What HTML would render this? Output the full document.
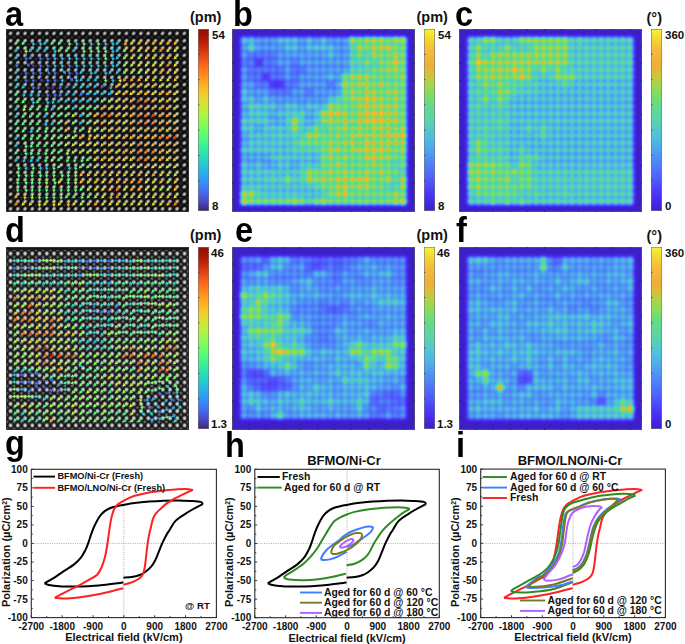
<!DOCTYPE html>
<html><head><meta charset="utf-8"><style>
html,body{margin:0;padding:0;background:#fff;}
body{width:685px;height:644px;position:relative;overflow:hidden;font-family:"Liberation Sans", sans-serif;color:#111;}
.t{position:absolute;white-space:nowrap;line-height:1;}
.b{font-weight:bold;}
.lab{font-size:35px;transform:scaleX(0.93);transform-origin:0 0;color:#000;}
.tl{font-size:10px;}
.at{font-size:11px;}
.rot{transform:rotate(-90deg);transform-origin:0 0;}
sup{font-size:0.62em;vertical-align:0;position:relative;top:-0.45em;}
svg{display:block;}
</style></head><body>
<div class="t b lab" style="left:5px;top:-4.5px">a</div>
<div class="t b lab" style="left:233px;top:-4.5px">b</div>
<div class="t b lab" style="left:455px;top:-4.5px">c</div>
<div class="t b lab" style="left:5px;top:212.3px">d</div>
<div class="t b lab" style="left:234.5px;top:212px">e</div>
<div class="t b lab" style="left:455.5px;top:211.5px">f</div>
<div class="t b lab" style="left:5px;top:425.3px">g</div>
<div class="t b lab" style="left:225px;top:427.3px">h</div>
<div class="t b lab" style="left:456px;top:427.3px">i</div>
<svg style="position:absolute;left:6px;top:29px" width="183" height="183" viewBox="0 0 183 183"><defs><radialGradient id="rga"><stop offset="0" stop-color="#e4e4e4"/><stop offset="0.45" stop-color="#a8a8a8"/><stop offset="1" stop-color="#606060" stop-opacity="0"/></radialGradient><radialGradient id="rha"><stop offset="0" stop-color="#3a3a3a"/><stop offset="1" stop-color="#3a3a3a" stop-opacity="0"/></radialGradient><pattern id="pta" x="0.94" y="0.73" width="7.24" height="7.31" patternUnits="userSpaceOnUse"><ellipse cx="3.62" cy="3.655" rx="3.0" ry="2.4" fill="url(#rga)" transform="rotate(-45 3.62 3.655)"/><circle cx="0" cy="0" r="2.2" fill="url(#rha)"/><circle cx="7.24" cy="0" r="2.2" fill="url(#rha)"/><circle cx="0" cy="7.31" r="2.2" fill="url(#rha)"/><circle cx="7.24" cy="7.31" r="2.2" fill="url(#rha)"/></pattern><filter id="faa"><feGaussianBlur stdDeviation="0.45"/></filter></defs><rect width="183" height="183" fill="#0c0c0c"/><rect x="0.94" y="0.73" width="181.00" height="182.75" fill="url(#pta)"/><g filter="url(#faa)"><path fill="#463699" d="M26.3 33.8L26.7 36.3L25.3 36.5L27.6 39.1L29.2 36.0L27.8 36.2L27.4 33.6zM33.7 48.5L34.7 50.9L33.4 51.4L36.3 53.3L37.1 49.9L35.7 50.5L34.8 48.1zM40.8 55.7L41.2 58.3L39.7 58.5L42.1 61.1L43.7 57.9L42.2 58.1L41.9 55.6zM47.8 55.4L46.8 57.8L45.5 57.2L46.2 60.7L49.1 58.7L47.8 58.2L48.8 55.8z"/><path fill="#436df1" d="M19.1 26.5L19.4 29.0L18.0 29.2L20.4 31.8L21.9 28.7L20.5 28.9L20.2 26.3zM26.0 26.0L24.4 28.0L23.3 27.1L23.0 30.6L26.4 29.5L25.3 28.6L26.8 26.6zM33.6 26.5L33.9 29.0L32.5 29.2L34.8 31.8L36.4 28.7L35.0 28.9L34.6 26.3zM40.8 26.5L41.2 29.0L39.7 29.2L42.1 31.8L43.7 28.7L42.2 28.9L41.9 26.3zM11.6 33.5L10.6 35.8L9.3 35.3L10.0 38.7L12.9 36.8L11.6 36.3L12.6 33.9zM19.6 33.9L21.4 35.7L20.4 36.8L23.8 37.4L23.2 34.0L22.2 35.0L20.4 33.2zM33.6 33.8L33.9 36.3L32.5 36.5L34.8 39.1L36.4 36.0L35.0 36.2L34.6 33.6zM40.8 33.8L41.2 36.3L39.7 36.5L42.1 39.1L43.7 36.0L42.2 36.2L41.9 33.6zM62.5 33.8L62.9 36.3L61.5 36.5L63.8 39.1L65.4 36.0L64.0 36.2L63.6 33.6zM19.1 41.1L19.4 43.6L18.0 43.8L20.4 46.4L21.9 43.3L20.5 43.5L20.2 41.0zM26.3 41.1L26.7 43.6L25.3 43.8L27.6 46.4L29.2 43.3L27.8 43.5L27.4 41.0zM33.6 41.1L33.9 43.6L32.5 43.8L34.8 46.4L36.4 43.3L35.0 43.5L34.6 41.0zM41.0 41.2L42.0 43.6L40.6 44.1L43.6 46.0L44.3 42.6L43.0 43.1L42.0 40.8zM48.0 41.1L48.4 43.6L47.0 43.8L49.3 46.4L50.9 43.3L49.5 43.5L49.1 41.0zM62.5 41.1L62.9 43.6L61.5 43.8L63.8 46.4L65.4 43.3L64.0 43.5L63.6 41.0zM69.8 41.1L70.1 43.6L68.7 43.8L71.0 46.4L72.6 43.3L71.2 43.5L70.8 41.0zM19.1 48.4L19.4 50.9L18.0 51.1L20.4 53.7L21.9 50.6L20.5 50.8L20.2 48.3zM26.3 48.4L26.7 50.9L25.3 51.1L27.6 53.7L29.2 50.6L27.8 50.8L27.4 48.3zM40.8 48.4L41.2 50.9L39.7 51.1L42.1 53.7L43.7 50.6L42.2 50.8L41.9 48.3zM48.0 48.4L48.4 50.9L47.0 51.1L49.3 53.7L50.9 50.6L49.5 50.8L49.1 48.3zM63.0 48.6L64.8 50.4L63.8 51.4L67.3 52.0L66.6 48.6L65.6 49.6L63.8 47.8zM26.3 55.7L26.7 58.3L25.3 58.5L27.6 61.1L29.2 57.9L27.8 58.1L27.4 55.6zM33.3 55.4L32.3 57.8L31.0 57.2L31.7 60.7L34.6 58.7L33.3 58.2L34.3 55.8zM55.0 55.4L54.0 57.8L52.7 57.2L53.4 60.7L56.4 58.7L55.0 58.2L56.0 55.8zM62.2 55.2L60.6 57.2L59.5 56.3L59.2 59.8L62.6 58.8L61.5 57.9L63.0 55.9zM98.4 55.0L96.4 56.6L95.5 55.5L94.4 58.8L97.9 58.6L97.0 57.4L99.0 55.9zM40.8 63.0L41.2 65.6L39.7 65.8L42.1 68.4L43.7 65.2L42.2 65.4L41.9 62.9zM48.0 63.0L48.4 65.6L47.0 65.8L49.3 68.4L50.9 65.2L49.5 65.4L49.1 62.9zM55.0 62.7L54.0 65.1L52.7 64.5L53.4 68.0L56.4 66.0L55.0 65.5L56.0 63.1zM76.7 62.5L75.1 64.5L74.0 63.6L73.7 67.1L77.1 66.1L75.9 65.2L77.5 63.2z"/><path fill="#26bde1" d="M26.3 11.9L26.7 14.4L25.3 14.6L27.6 17.2L29.2 14.1L27.8 14.2L27.4 11.7zM33.6 11.9L33.9 14.4L32.5 14.6L34.8 17.2L36.4 14.1L35.0 14.2L34.6 11.7zM40.5 11.3L38.9 13.3L37.8 12.4L37.5 16.0L40.9 14.9L39.7 14.0L41.3 12.0zM69.8 11.9L70.1 14.4L68.7 14.6L71.0 17.2L72.6 14.1L71.2 14.2L70.8 11.7zM84.2 11.9L84.6 14.4L83.2 14.6L85.5 17.2L87.1 14.1L85.7 14.2L85.3 11.7zM98.7 11.9L99.1 14.4L97.7 14.6L100.0 17.2L101.6 14.1L100.2 14.2L99.8 11.7zM106.0 11.9L106.3 14.4L104.9 14.6L107.2 17.2L108.8 14.1L107.4 14.2L107.0 11.7zM112.9 11.3L111.3 13.3L110.2 12.4L109.9 16.0L113.3 14.9L112.1 14.0L113.7 12.0zM11.5 18.6L9.9 20.6L8.8 19.8L8.6 23.3L11.9 22.2L10.8 21.3L12.4 19.3zM26.0 18.6L24.4 20.6L23.3 19.8L23.0 23.3L26.4 22.2L25.3 21.3L26.8 19.3zM33.2 18.6L31.6 20.6L30.5 19.8L30.3 23.3L33.6 22.2L32.5 21.3L34.1 19.3zM40.5 18.6L38.9 20.6L37.8 19.8L37.5 23.3L40.9 22.2L39.7 21.3L41.3 19.3zM48.0 19.2L48.4 21.7L47.0 21.9L49.3 24.5L50.9 21.4L49.5 21.6L49.1 19.0zM69.4 18.6L67.8 20.6L66.7 19.8L66.5 23.3L69.8 22.2L68.7 21.3L70.3 19.3zM106.0 19.2L106.3 21.7L104.9 21.9L107.2 24.5L108.8 21.4L107.4 21.6L107.0 19.0zM112.9 18.6L111.3 20.6L110.2 19.8L109.9 23.3L113.3 22.2L112.1 21.3L113.7 19.3zM11.5 26.0L9.9 28.0L8.8 27.1L8.6 30.6L11.9 29.5L10.8 28.6L12.4 26.6zM48.0 26.5L48.4 29.0L47.0 29.2L49.3 31.8L50.9 28.7L49.5 28.9L49.1 26.3zM55.3 26.5L55.6 29.0L54.2 29.2L56.6 31.8L58.1 28.7L56.7 28.9L56.4 26.3zM62.5 26.5L62.9 29.0L61.5 29.2L63.8 31.8L65.4 28.7L64.0 28.9L63.6 26.3zM69.8 26.5L70.1 29.0L68.7 29.2L71.0 31.8L72.6 28.7L71.2 28.9L70.8 26.3zM77.0 26.5L77.4 29.0L75.9 29.2L78.3 31.8L79.9 28.7L78.4 28.9L78.1 26.3zM84.2 26.5L84.6 29.0L83.2 29.2L85.5 31.8L87.1 28.7L85.7 28.9L85.3 26.3zM91.5 26.5L91.8 29.0L90.4 29.2L92.8 31.8L94.3 28.7L92.9 28.9L92.6 26.3zM106.0 26.5L106.3 29.0L104.9 29.2L107.2 31.8L108.8 28.7L107.4 28.9L107.0 26.3zM112.9 26.0L111.3 28.0L110.2 27.1L109.9 30.6L113.3 29.5L112.1 28.6L113.7 26.6zM48.0 33.8L48.4 36.3L47.0 36.5L49.3 39.1L50.9 36.0L49.5 36.2L49.1 33.6zM55.3 33.8L55.6 36.3L54.2 36.5L56.6 39.1L58.1 36.0L56.7 36.2L56.4 33.6zM69.8 33.8L70.1 36.3L68.7 36.5L71.0 39.1L72.6 36.0L71.2 36.2L70.8 33.6zM77.0 33.8L77.4 36.3L75.9 36.5L78.3 39.1L79.9 36.0L78.4 36.2L78.1 33.6zM84.2 33.8L84.6 36.3L83.2 36.5L85.5 39.1L87.1 36.0L85.7 36.2L85.3 33.6zM91.5 33.8L91.8 36.3L90.4 36.5L92.8 39.1L94.3 36.0L92.9 36.2L92.6 33.6zM98.7 33.8L99.1 36.3L97.7 36.5L100.0 39.1L101.6 36.0L100.2 36.2L99.8 33.6zM106.0 33.8L106.3 36.3L104.9 36.5L107.2 39.1L108.8 36.0L107.4 36.2L107.0 33.6zM112.9 33.3L111.3 35.3L110.2 34.4L109.9 37.9L113.3 36.8L112.1 35.9L113.7 33.9zM11.5 40.6L9.9 42.6L8.8 41.7L8.6 45.2L11.9 44.1L10.8 43.3L12.4 41.2zM55.8 41.3L57.6 43.1L56.6 44.1L60.0 44.7L59.4 41.3L58.4 42.3L56.6 40.5zM76.7 40.6L75.1 42.6L74.0 41.7L73.7 45.2L77.1 44.1L75.9 43.3L77.5 41.2zM84.2 41.1L84.6 43.6L83.2 43.8L85.5 46.4L87.1 43.3L85.7 43.5L85.3 41.0zM91.1 40.6L89.6 42.6L88.4 41.7L88.2 45.2L91.5 44.1L90.4 43.3L92.0 41.2zM98.7 41.1L99.1 43.6L97.7 43.8L100.0 46.4L101.6 43.3L100.2 43.5L99.8 41.0zM105.6 40.6L104.0 42.6L102.9 41.7L102.7 45.2L106.0 44.1L104.9 43.3L106.5 41.2zM112.9 40.6L111.3 42.6L110.2 41.7L109.9 45.2L113.3 44.1L112.1 43.3L113.7 41.2zM11.5 47.9L9.9 49.9L8.8 49.0L8.6 52.5L11.9 51.5L10.8 50.6L12.4 48.6zM55.3 48.4L55.6 50.9L54.2 51.1L56.6 53.7L58.1 50.6L56.7 50.8L56.4 48.3zM69.8 48.4L70.1 50.9L68.7 51.1L71.0 53.7L72.6 50.6L71.2 50.8L70.8 48.3zM76.7 47.9L75.1 49.9L74.0 49.0L73.7 52.5L77.1 51.5L75.9 50.6L77.5 48.6zM83.9 47.9L82.3 49.9L81.2 49.0L81.0 52.5L84.3 51.5L83.2 50.6L84.8 48.6zM91.1 47.9L89.6 49.9L88.4 49.0L88.2 52.5L91.5 51.5L90.4 50.6L92.0 48.6zM106.0 48.4L106.3 50.9L104.9 51.1L107.2 53.7L108.8 50.6L107.4 50.8L107.0 48.3zM11.5 55.2L9.9 57.2L8.8 56.3L8.6 59.8L11.9 58.8L10.8 57.9L12.4 55.9zM18.7 55.2L17.2 57.2L16.0 56.3L15.8 59.8L19.1 58.8L18.0 57.9L19.6 55.9zM69.4 55.2L67.8 57.2L66.7 56.3L66.5 59.8L69.8 58.8L68.7 57.9L70.3 55.9zM76.7 55.2L75.1 57.2L74.0 56.3L73.7 59.8L77.1 58.8L75.9 57.9L77.5 55.9zM83.9 55.0L81.9 56.6L81.0 55.5L79.9 58.8L83.5 58.6L82.6 57.4L84.6 55.9zM91.1 55.0L89.1 56.6L88.2 55.5L87.2 58.8L90.7 58.6L89.8 57.4L91.8 55.9zM105.7 55.4L104.7 57.8L103.4 57.2L104.1 60.7L107.0 58.7L105.7 58.2L106.7 55.8zM18.8 62.7L17.8 65.1L16.5 64.5L17.2 68.0L20.2 66.0L18.8 65.5L19.8 63.1zM26.0 62.7L25.1 65.1L23.7 64.5L24.5 68.0L27.4 66.0L26.1 65.5L27.1 63.1zM33.3 62.7L32.3 65.1L31.0 64.5L31.7 68.0L34.6 66.0L33.3 65.5L34.3 63.1zM62.2 62.5L60.6 64.5L59.5 63.6L59.2 67.1L62.6 66.1L61.5 65.2L63.0 63.2zM69.4 62.5L67.8 64.5L66.7 63.6L66.5 67.1L69.8 66.1L68.7 65.2L70.3 63.2zM83.9 62.3L81.9 63.9L81.0 62.8L79.9 66.1L83.5 65.9L82.6 64.7L84.6 63.2zM91.1 62.3L89.1 63.9L88.2 62.8L87.2 66.1L90.7 65.9L89.8 64.7L91.8 63.2zM98.4 62.3L96.4 63.9L95.5 62.8L94.4 66.1L97.9 65.9L97.0 64.7L99.0 63.2zM105.6 62.3L103.6 63.9L102.7 62.8L101.7 66.1L105.2 65.9L104.3 64.7L106.3 63.2zM26.3 70.3L26.7 72.9L25.3 73.1L27.6 75.7L29.2 72.5L27.8 72.7L27.4 70.2zM40.8 70.3L41.2 72.9L39.7 73.1L42.1 75.7L43.7 72.5L42.2 72.7L41.9 70.2zM47.8 70.0L46.8 72.4L45.5 71.8L46.2 75.3L49.1 73.3L47.8 72.8L48.8 70.4zM54.9 69.6L52.9 71.2L52.0 70.1L51.0 73.4L54.5 73.2L53.6 72.1L55.6 70.5zM62.2 69.6L60.2 71.2L59.3 70.1L58.2 73.4L61.7 73.2L60.8 72.1L62.8 70.5zM69.4 69.6L67.4 71.2L66.5 70.1L65.5 73.4L69.0 73.2L68.1 72.1L70.1 70.5zM76.7 69.6L74.6 71.2L73.8 70.1L72.7 73.4L76.2 73.2L75.3 72.1L77.3 70.5zM83.9 69.6L81.9 71.2L81.0 70.1L79.9 73.4L83.5 73.2L82.6 72.1L84.6 70.5zM91.1 69.6L89.1 71.2L88.2 70.1L87.2 73.4L90.7 73.2L89.8 72.1L91.8 70.5zM11.5 77.1L9.9 79.1L8.8 78.2L8.6 81.7L11.9 80.7L10.8 79.8L12.4 77.8zM47.7 77.1L46.1 79.1L45.0 78.2L44.8 81.7L48.1 80.7L47.0 79.8L48.6 77.8zM69.4 76.9L67.4 78.5L66.5 77.4L65.5 80.7L69.0 80.5L68.1 79.4L70.1 77.8zM11.5 84.4L9.9 86.4L8.8 85.5L8.6 89.1L11.9 88.0L10.8 87.1L12.4 85.1zM40.5 84.4L38.9 86.4L37.8 85.5L37.5 89.1L40.9 88.0L39.7 87.1L41.3 85.1zM76.7 84.2L74.6 85.8L73.8 84.7L72.7 88.0L76.2 87.8L75.3 86.7L77.3 85.1zM40.5 92.0L39.5 94.3L38.2 93.8L38.9 97.2L41.9 95.3L40.6 94.7L41.5 92.4zM47.7 91.7L46.1 93.7L45.0 92.9L44.8 96.4L48.1 95.3L47.0 94.4L48.6 92.4zM76.7 91.6L74.6 93.1L73.8 92.0L72.7 95.4L76.2 95.1L75.3 94.0L77.3 92.4zM26.0 99.3L25.1 101.6L23.7 101.1L24.5 104.5L27.4 102.6L26.1 102.0L27.1 99.7zM11.5 106.4L9.9 108.4L8.8 107.5L8.6 111.0L11.9 109.9L10.8 109.0L12.4 107.0zM11.5 113.7L9.9 115.7L8.8 114.8L8.6 118.3L11.9 117.2L10.8 116.4L12.4 114.3zM11.5 128.3L9.9 130.3L8.8 129.4L8.6 132.9L11.9 131.9L10.8 131.0L12.4 129.0zM18.8 128.5L17.8 130.9L16.5 130.3L17.2 133.8L20.2 131.8L18.8 131.3L19.8 128.9zM26.0 128.5L25.1 130.9L23.7 130.3L24.5 133.8L27.4 131.8L26.1 131.3L27.1 128.9zM33.2 128.3L31.6 130.3L30.5 129.4L30.3 132.9L33.6 131.9L32.5 131.0L34.1 129.0zM19.1 136.1L19.4 138.7L18.0 138.9L20.4 141.5L21.9 138.3L20.5 138.5L20.2 136.0zM33.6 136.1L33.9 138.7L32.5 138.9L34.8 141.5L36.4 138.3L35.0 138.5L34.6 136.0zM40.6 136.0L40.2 138.5L38.8 138.3L40.3 141.5L42.7 138.9L41.3 138.7L41.7 136.1zM62.5 136.1L62.9 138.7L61.5 138.9L63.8 141.5L65.4 138.3L64.0 138.5L63.6 136.0z"/><path fill="#5afc77" d="M11.5 11.3L9.9 13.3L8.8 12.4L8.6 16.0L11.9 14.9L10.8 14.0L12.4 12.0zM18.7 11.3L17.2 13.3L16.0 12.4L15.8 16.0L19.1 14.9L18.0 14.0L19.6 12.0zM47.7 11.3L46.1 13.3L45.0 12.4L44.8 16.0L48.1 14.9L47.0 14.0L48.6 12.0zM54.9 11.3L53.4 13.3L52.2 12.4L52.0 16.0L55.3 14.9L54.2 14.0L55.8 12.0zM62.5 11.9L62.9 14.4L61.5 14.6L63.8 17.2L65.4 14.1L64.0 14.2L63.6 11.7zM77.0 11.9L77.4 14.4L75.9 14.6L78.3 17.2L79.9 14.1L78.4 14.2L78.1 11.7zM91.5 11.9L91.8 14.4L90.4 14.6L92.8 17.2L94.3 14.1L92.9 14.2L92.6 11.7zM54.9 18.6L53.4 20.6L52.2 19.8L52.0 23.3L55.3 22.2L54.2 21.3L55.8 19.3zM62.2 18.6L60.6 20.6L59.5 19.8L59.2 23.3L62.6 22.2L61.5 21.3L63.0 19.3zM77.0 19.2L77.4 21.7L75.9 21.9L78.3 24.5L79.9 21.4L78.4 21.6L78.1 19.0zM84.2 19.2L84.6 21.7L83.2 21.9L85.5 24.5L87.1 21.4L85.7 21.6L85.3 19.0zM91.5 19.2L91.8 21.7L90.4 21.9L92.8 24.5L94.3 21.4L92.9 21.6L92.6 19.0zM98.7 19.2L99.1 21.7L97.7 21.9L100.0 24.5L101.6 21.4L100.2 21.6L99.8 19.0zM98.7 26.5L99.1 29.0L97.7 29.2L100.0 31.8L101.6 28.7L100.2 28.9L99.8 26.3zM98.7 48.4L99.1 50.9L97.7 51.1L100.0 53.7L101.6 50.6L100.2 50.8L99.8 48.3zM11.5 62.5L9.9 64.5L8.8 63.6L8.6 67.1L11.9 66.1L10.8 65.2L12.4 63.2zM11.5 69.8L9.9 71.8L8.8 70.9L8.6 74.4L11.9 73.4L10.8 72.5L12.4 70.5zM18.7 69.8L17.2 71.8L16.0 70.9L15.8 74.4L19.1 73.4L18.0 72.5L19.6 70.5zM33.2 69.8L31.6 71.8L30.5 70.9L30.3 74.4L33.6 73.4L32.5 72.5L34.1 70.5zM98.4 69.6L96.4 71.2L95.5 70.1L94.4 73.4L97.9 73.2L97.0 72.1L99.0 70.5zM26.0 77.1L24.4 79.1L23.3 78.2L23.0 81.7L26.4 80.7L25.3 79.8L26.8 77.8zM33.2 77.1L31.6 79.1L30.5 78.2L30.3 81.7L33.6 80.7L32.5 79.8L34.1 77.8zM40.5 77.3L39.5 79.7L38.2 79.1L38.9 82.6L41.9 80.7L40.6 80.1L41.5 77.8zM54.9 76.9L52.9 78.5L52.0 77.4L51.0 80.7L54.5 80.5L53.6 79.4L55.6 77.8zM62.2 76.9L60.2 78.5L59.3 77.4L58.2 80.7L61.7 80.5L60.8 79.4L62.8 77.8zM76.7 76.9L74.6 78.5L73.8 77.4L72.7 80.7L76.2 80.5L75.3 79.4L77.3 77.8zM83.9 76.9L81.9 78.5L81.0 77.4L79.9 80.7L83.5 80.5L82.6 79.4L84.6 77.8zM91.1 76.9L89.1 78.5L88.2 77.4L87.2 80.7L90.7 80.5L89.8 79.4L91.8 77.8zM18.7 84.4L17.2 86.4L16.0 85.5L15.8 89.1L19.1 88.0L18.0 87.1L19.6 85.1zM26.0 84.4L24.4 86.4L23.3 85.5L23.0 89.1L26.4 88.0L25.3 87.1L26.8 85.1zM33.2 84.4L31.6 86.4L30.5 85.5L30.3 89.1L33.6 88.0L32.5 87.1L34.1 85.1zM47.7 84.4L46.1 86.4L45.0 85.5L44.8 89.1L48.1 88.0L47.0 87.1L48.6 85.1zM54.9 84.2L52.9 85.8L52.0 84.7L51.0 88.0L54.5 87.8L53.6 86.7L55.6 85.1zM62.2 84.2L60.2 85.8L59.3 84.7L58.2 88.0L61.7 87.8L60.8 86.7L62.8 85.1zM83.9 84.2L81.9 85.8L81.0 84.7L79.9 88.0L83.5 87.8L82.6 86.7L84.6 85.1zM11.5 91.7L9.9 93.7L8.8 92.9L8.6 96.4L11.9 95.3L10.8 94.4L12.4 92.4zM18.7 91.7L17.2 93.7L16.0 92.9L15.8 96.4L19.1 95.3L18.0 94.4L19.6 92.4zM26.0 91.7L24.4 93.7L23.3 92.9L23.0 96.4L26.4 95.3L25.3 94.4L26.8 92.4zM33.2 91.7L31.6 93.7L30.5 92.9L30.3 96.4L33.6 95.3L32.5 94.4L34.1 92.4zM54.9 91.6L52.9 93.1L52.0 92.0L51.0 95.4L54.5 95.1L53.6 94.0L55.6 92.4zM69.4 91.6L67.4 93.1L66.5 92.0L65.5 95.4L69.0 95.1L68.1 94.0L70.1 92.4zM83.9 91.6L81.9 93.1L81.0 92.0L79.9 95.4L83.5 95.1L82.6 94.0L84.6 92.4zM11.5 99.1L9.9 101.1L8.8 100.2L8.6 103.7L11.9 102.6L10.8 101.7L12.4 99.7zM18.7 99.1L17.2 101.1L16.0 100.2L15.8 103.7L19.1 102.6L18.0 101.7L19.6 99.7zM33.2 99.1L31.6 101.1L30.5 100.2L30.3 103.7L33.6 102.6L32.5 101.7L34.1 99.7zM40.5 99.3L39.5 101.6L38.2 101.1L38.9 104.5L41.9 102.6L40.6 102.0L41.5 99.7zM47.7 99.1L46.1 101.1L45.0 100.2L44.8 103.7L48.1 102.6L47.0 101.7L48.6 99.7zM54.9 98.9L52.9 100.4L52.0 99.3L51.0 102.7L54.5 102.4L53.6 101.3L55.6 99.7zM69.5 99.3L68.5 101.6L67.2 101.1L67.9 104.5L70.8 102.6L69.5 102.0L70.5 99.7zM76.7 98.9L74.6 100.4L73.8 99.3L72.7 102.7L76.2 102.4L75.3 101.3L77.3 99.7zM18.7 106.4L17.2 108.4L16.0 107.5L15.8 111.0L19.1 109.9L18.0 109.0L19.6 107.0zM26.0 106.6L25.1 108.9L23.7 108.4L24.5 111.8L27.4 109.9L26.1 109.4L27.1 107.0zM33.2 106.4L31.6 108.4L30.5 107.5L30.3 111.0L33.6 109.9L32.5 109.0L34.1 107.0zM40.5 106.4L38.9 108.4L37.8 107.5L37.5 111.0L40.9 109.9L39.7 109.0L41.3 107.0zM54.9 106.2L52.9 107.8L52.0 106.6L51.0 110.0L54.5 109.7L53.6 108.6L55.6 107.0zM19.1 114.2L19.4 116.7L18.0 116.9L20.4 119.5L21.9 116.4L20.5 116.6L20.2 114.1zM26.0 113.9L25.1 116.2L23.7 115.7L24.5 119.1L27.4 117.2L26.1 116.7L27.1 114.3zM33.2 113.7L31.6 115.7L30.5 114.8L30.3 118.3L33.6 117.2L32.5 116.4L34.1 114.3zM40.5 113.7L38.9 115.7L37.8 114.8L37.5 118.3L40.9 117.2L39.7 116.4L41.3 114.3zM47.7 113.7L46.1 115.7L45.0 114.8L44.8 118.3L48.1 117.2L47.0 116.4L48.6 114.3zM54.9 113.5L52.9 115.1L52.0 113.9L51.0 117.3L54.5 117.0L53.6 115.9L55.6 114.3zM11.5 121.0L9.9 123.0L8.8 122.1L8.6 125.6L11.9 124.6L10.8 123.7L12.4 121.7zM19.1 121.5L19.4 124.0L18.0 124.2L20.4 126.8L21.9 123.7L20.5 123.9L20.2 121.4zM26.0 121.2L25.1 123.6L23.7 123.0L24.5 126.4L27.4 124.5L26.1 124.0L27.1 121.6zM33.3 121.2L32.3 123.6L31.0 123.0L31.7 126.4L34.6 124.5L33.3 124.0L34.3 121.6zM40.5 121.2L39.5 123.6L38.2 123.0L38.9 126.4L41.9 124.5L40.6 124.0L41.5 121.6zM47.7 121.0L46.1 123.0L45.0 122.1L44.8 125.6L48.1 124.6L47.0 123.7L48.6 121.7zM54.9 120.8L52.9 122.4L52.0 121.2L51.0 124.6L54.5 124.4L53.6 123.2L55.6 121.6zM40.5 128.5L39.5 130.9L38.2 130.3L38.9 133.8L41.9 131.8L40.6 131.3L41.5 128.9zM54.9 128.1L52.9 129.7L52.0 128.6L51.0 131.9L54.5 131.7L53.6 130.5L55.6 129.0zM62.2 128.5L61.3 130.9L59.9 130.3L60.7 133.8L63.6 131.8L62.3 131.3L63.3 128.9zM69.5 128.5L68.5 130.9L67.2 130.3L67.9 133.8L70.8 131.8L69.5 131.3L70.5 128.9zM76.7 128.5L75.7 130.9L74.4 130.3L75.1 133.8L78.1 131.8L76.8 131.3L77.7 128.9zM83.9 128.1L81.9 129.7L81.0 128.6L79.9 131.9L83.5 131.7L82.6 130.5L84.6 129.0zM11.8 136.1L12.2 138.7L10.8 138.9L13.1 141.5L14.7 138.3L13.3 138.5L12.9 136.0zM26.3 136.1L26.7 138.7L25.3 138.9L27.6 141.5L29.2 138.3L27.8 138.5L27.4 136.0zM47.9 136.0L47.5 138.5L46.1 138.3L47.6 141.5L50.0 138.9L48.5 138.7L48.9 136.1zM54.9 135.4L52.9 137.0L52.0 135.9L51.0 139.2L54.5 139.0L53.6 137.8L55.6 136.3zM69.6 136.0L69.2 138.5L67.8 138.3L69.3 141.5L71.7 138.9L70.3 138.7L70.7 136.1zM76.7 135.4L74.6 137.0L73.8 135.9L72.7 139.2L76.2 139.0L75.3 137.8L77.3 136.3zM83.9 135.4L81.9 137.0L81.0 135.9L79.9 139.2L83.5 139.0L82.6 137.8L84.6 136.3zM11.8 143.4L12.2 146.0L10.8 146.2L13.1 148.8L14.7 145.6L13.3 145.8L12.9 143.3zM19.1 143.4L19.4 146.0L18.0 146.2L20.4 148.8L21.9 145.6L20.5 145.8L20.2 143.3zM26.1 143.3L25.7 145.8L24.3 145.6L25.8 148.8L28.2 146.2L26.8 146.0L27.2 143.5zM33.6 143.4L33.9 146.0L32.5 146.2L34.8 148.8L36.4 145.6L35.0 145.8L34.6 143.3zM40.6 143.3L40.2 145.8L38.8 145.6L40.3 148.8L42.7 146.2L41.3 146.0L41.7 143.5zM47.9 143.3L47.5 145.8L46.1 145.6L47.6 148.8L50.0 146.2L48.5 146.0L48.9 143.5zM55.3 143.4L55.6 146.0L54.2 146.2L56.6 148.8L58.1 145.6L56.7 145.8L56.4 143.3zM62.3 143.3L61.9 145.8L60.5 145.6L62.0 148.8L64.4 146.2L63.0 146.0L63.4 143.5zM11.7 150.6L11.3 153.1L9.9 152.9L11.4 156.1L13.8 153.5L12.3 153.3L12.7 150.8zM19.1 150.8L19.4 153.3L18.0 153.5L20.4 156.1L21.9 152.9L20.5 153.1L20.2 150.6zM26.1 150.6L25.7 153.1L24.3 152.9L25.8 156.1L28.2 153.5L26.8 153.3L27.2 150.8zM33.4 150.6L33.0 153.1L31.6 152.9L33.1 156.1L35.5 153.5L34.1 153.3L34.5 150.8zM48.0 150.8L48.4 153.3L47.0 153.5L49.3 156.1L50.9 152.9L49.5 153.1L49.1 150.6zM62.3 150.6L61.9 153.1L60.5 152.9L62.0 156.1L64.4 153.5L63.0 153.3L63.4 150.8zM11.7 157.9L11.3 160.4L9.9 160.2L11.4 163.4L13.8 160.8L12.3 160.6L12.7 158.1zM19.1 158.1L19.4 160.6L18.0 160.8L20.4 163.4L21.9 160.3L20.5 160.4L20.2 157.9zM26.1 157.9L25.7 160.4L24.3 160.2L25.8 163.4L28.2 160.8L26.8 160.6L27.2 158.1zM33.4 157.9L33.0 160.4L31.6 160.2L33.1 163.4L35.5 160.8L34.1 160.6L34.5 158.1zM40.6 157.9L40.2 160.4L38.8 160.2L40.3 163.4L42.7 160.8L41.3 160.6L41.7 158.1zM47.9 157.9L47.5 160.4L46.1 160.2L47.6 163.4L50.0 160.8L48.5 160.6L48.9 158.1zM55.1 157.9L54.7 160.4L53.3 160.2L54.8 163.4L57.2 160.8L55.8 160.6L56.2 158.1zM62.3 157.9L61.9 160.4L60.5 160.2L62.0 163.4L64.4 160.8L63.0 160.6L63.4 158.1zM69.6 157.9L69.2 160.4L67.8 160.2L69.3 163.4L71.7 160.8L70.3 160.6L70.7 158.1zM76.7 157.5L75.1 159.5L74.0 158.6L73.7 162.2L77.1 161.1L75.9 160.2L77.5 158.2zM33.4 165.2L33.0 167.7L31.6 167.5L33.1 170.7L35.5 168.1L34.1 167.9L34.5 165.4zM40.6 165.2L40.2 167.7L38.8 167.5L40.3 170.7L42.7 168.1L41.3 167.9L41.7 165.4zM47.9 165.2L47.5 167.7L46.1 167.5L47.6 170.7L50.0 168.1L48.5 167.9L48.9 165.4zM55.1 165.2L54.7 167.7L53.3 167.5L54.8 170.7L57.2 168.1L55.8 167.9L56.2 165.4zM62.2 164.8L60.6 166.8L59.5 166.0L59.2 169.5L62.6 168.4L61.5 167.5L63.0 165.5zM69.4 164.8L67.8 166.8L66.7 166.0L66.5 169.5L69.8 168.4L68.7 167.5L70.3 165.5zM76.7 165.1L75.7 167.4L74.4 166.9L75.1 170.3L78.1 168.4L76.8 167.8L77.7 165.5zM83.9 164.8L82.3 166.8L81.2 166.0L81.0 169.5L84.3 168.4L83.2 167.5L84.8 165.5z"/><path fill="#a6f748" d="M19.1 19.2L19.4 21.7L18.0 21.9L20.4 24.5L21.9 21.4L20.5 21.6L20.2 19.0zM120.1 18.6L118.5 20.6L117.4 19.8L117.2 23.3L120.5 22.2L119.4 21.3L121.0 19.3zM120.1 26.0L118.5 28.0L117.4 27.1L117.2 30.6L120.5 29.5L119.4 28.6L121.0 26.6zM134.6 26.0L133.0 28.0L131.9 27.1L131.6 30.6L135.0 29.5L133.9 28.6L135.4 26.6zM120.1 33.3L118.5 35.3L117.4 34.4L117.2 37.9L120.5 36.8L119.4 35.9L121.0 33.9zM127.3 33.3L125.8 35.3L124.6 34.4L124.4 37.9L127.7 36.8L126.6 35.9L128.2 33.9zM141.8 33.3L140.2 35.3L139.1 34.4L138.9 37.9L142.2 36.8L141.1 35.9L142.7 33.9zM120.1 40.6L118.5 42.6L117.4 41.7L117.2 45.2L120.5 44.1L119.4 43.3L121.0 41.2zM127.3 40.6L125.8 42.6L124.6 41.7L124.4 45.2L127.7 44.1L126.6 43.3L128.2 41.2zM134.6 40.6L133.0 42.6L131.9 41.7L131.6 45.2L135.0 44.1L133.9 43.3L135.4 41.2zM105.6 69.6L103.6 71.2L102.7 70.1L101.7 73.4L105.2 73.2L104.3 72.1L106.3 70.5zM18.8 77.3L17.8 79.7L16.5 79.1L17.2 82.6L20.2 80.7L18.8 80.1L19.8 77.8zM69.4 84.2L67.4 85.8L66.5 84.7L65.5 88.0L69.0 87.8L68.1 86.7L70.1 85.1zM91.1 98.9L89.1 100.4L88.2 99.3L87.2 102.7L90.7 102.4L89.8 101.3L91.8 99.7zM47.7 106.4L46.1 108.4L45.0 107.5L44.8 111.0L48.1 109.9L47.0 109.0L48.6 107.0zM62.2 106.2L60.2 107.8L59.3 106.6L58.2 110.0L61.7 109.7L60.8 108.6L62.8 107.0zM69.4 106.2L67.4 107.8L66.5 106.6L65.5 110.0L69.0 109.7L68.1 108.6L70.1 107.0zM62.2 113.5L60.2 115.1L59.3 113.9L58.2 117.3L61.7 117.0L60.8 115.9L62.8 114.3zM62.2 121.2L61.3 123.6L59.9 123.0L60.7 126.4L63.6 124.5L62.3 124.0L63.3 121.6zM69.4 120.8L67.4 122.4L66.5 121.2L65.5 124.6L69.0 124.4L68.1 123.2L70.1 121.6zM76.7 120.8L74.6 122.4L73.8 121.2L72.7 124.6L76.2 124.4L75.3 123.2L77.3 121.6zM83.9 120.8L81.9 122.4L81.0 121.2L79.9 124.6L83.5 124.4L82.6 123.2L84.6 121.6zM47.7 128.3L46.1 130.3L45.0 129.4L44.8 132.9L48.1 131.9L47.0 131.0L48.6 129.0zM163.5 135.4L161.5 137.0L160.6 135.9L159.6 139.2L163.1 139.0L162.2 137.8L164.2 136.3zM69.6 143.3L69.2 145.8L67.8 145.6L69.3 148.8L71.7 146.2L70.3 146.0L70.7 143.5zM170.8 142.9L169.2 144.9L168.1 144.0L167.8 147.5L171.2 146.5L170.1 145.6L171.6 143.6zM40.6 150.6L40.2 153.1L38.8 152.9L40.3 156.1L42.7 153.5L41.3 153.3L41.7 150.8zM69.6 150.6L69.2 153.1L67.8 152.9L69.3 156.1L71.7 153.5L70.3 153.3L70.7 150.8zM163.5 150.2L162.0 152.2L160.8 151.3L160.6 154.8L163.9 153.8L162.8 152.9L164.4 150.9zM83.9 157.5L82.3 159.5L81.2 158.6L81.0 162.2L84.3 161.1L83.2 160.2L84.8 158.2zM156.3 157.5L154.7 159.5L153.6 158.6L153.4 162.2L156.7 161.1L155.6 160.2L157.2 158.2zM163.5 157.5L162.0 159.5L160.8 158.6L160.6 162.2L163.9 161.1L162.8 160.2L164.4 158.2zM26.1 165.2L25.7 167.7L24.3 167.5L25.8 170.7L28.2 168.1L26.8 167.9L27.2 165.4zM91.1 164.8L89.6 166.8L88.4 166.0L88.2 169.5L91.5 168.4L90.4 167.5L92.0 165.5zM76.7 172.2L75.1 174.2L74.0 173.3L73.7 176.8L77.1 175.7L75.9 174.8L77.5 172.8z"/><path fill="#dfdc32" d="M127.3 11.3L125.8 13.3L124.6 12.4L124.4 16.0L127.7 14.9L126.6 14.0L128.2 12.0zM156.3 11.3L154.7 13.3L153.6 12.4L153.4 16.0L156.7 14.9L155.6 14.0L157.2 12.0zM134.6 18.6L133.0 20.6L131.9 19.8L131.6 23.3L135.0 22.2L133.9 21.3L135.4 19.3zM163.5 18.6L162.0 20.6L160.8 19.8L160.6 23.3L163.9 22.2L162.8 21.3L164.4 19.3zM170.8 18.6L169.2 20.6L168.1 19.8L167.8 23.3L171.2 22.2L170.1 21.3L171.6 19.3zM127.3 26.0L125.8 28.0L124.6 27.1L124.4 30.6L127.7 29.5L126.6 28.6L128.2 26.6zM149.1 26.0L147.5 28.0L146.4 27.1L146.1 30.6L149.5 29.5L148.3 28.6L149.9 26.6zM156.3 26.0L154.7 28.0L153.6 27.1L153.4 30.6L156.7 29.5L155.6 28.6L157.2 26.6zM170.8 26.0L169.2 28.0L168.1 27.1L167.8 30.6L171.2 29.5L170.1 28.6L171.6 26.6zM134.6 33.3L133.0 35.3L131.9 34.4L131.6 37.9L135.0 36.8L133.9 35.9L135.4 33.9zM149.1 33.3L147.5 35.3L146.4 34.4L146.1 37.9L149.5 36.8L148.3 35.9L149.9 33.9zM156.3 33.3L154.7 35.3L153.6 34.4L153.4 37.9L156.7 36.8L155.6 35.9L157.2 33.9zM170.8 33.3L169.2 35.3L168.1 34.4L167.8 37.9L171.2 36.8L170.1 35.9L171.6 33.9zM141.8 40.6L140.2 42.6L139.1 41.7L138.9 45.2L142.2 44.1L141.1 43.3L142.7 41.2zM149.1 40.6L147.5 42.6L146.4 41.7L146.1 45.2L149.5 44.1L148.3 43.3L149.9 41.2zM170.8 40.6L169.2 42.6L168.1 41.7L167.8 45.2L171.2 44.1L170.1 43.3L171.6 41.2zM113.2 48.4L113.6 50.9L112.1 51.1L114.5 53.7L116.1 50.6L114.6 50.8L114.3 48.3zM141.8 47.9L140.2 49.9L139.1 49.0L138.9 52.5L142.2 51.5L141.1 50.6L142.7 48.6zM149.1 47.9L147.5 49.9L146.4 49.0L146.1 52.5L149.5 51.5L148.3 50.6L149.9 48.6zM156.3 47.9L154.7 49.9L153.6 49.0L153.4 52.5L156.7 51.5L155.6 50.6L157.2 48.6zM163.5 47.9L162.0 49.9L160.8 49.0L160.6 52.5L163.9 51.5L162.8 50.6L164.4 48.6zM120.1 55.0L118.1 56.6L117.2 55.5L116.1 58.8L119.7 58.6L118.8 57.4L120.8 55.9zM141.8 55.0L139.8 56.6L138.9 55.5L137.9 58.8L141.4 58.6L140.5 57.4L142.5 55.9zM156.3 55.0L154.3 56.6L153.4 55.5L152.3 58.8L155.9 58.6L155.0 57.4L157.0 55.9zM163.5 55.0L161.5 56.6L160.6 55.5L159.6 58.8L163.1 58.6L162.2 57.4L164.2 55.9zM170.8 55.0L168.8 56.6L167.9 55.5L166.8 58.8L170.3 58.6L169.4 57.4L171.4 55.9zM112.9 62.3L110.8 63.9L110.0 62.8L108.9 66.1L112.4 65.9L111.5 64.7L113.5 63.2zM127.3 62.3L125.3 63.9L124.4 62.8L123.4 66.1L126.9 65.9L126.0 64.7L128.0 63.2zM149.1 62.3L147.0 63.9L146.2 62.8L145.1 66.1L148.6 65.9L147.7 64.7L149.7 63.2zM170.8 62.3L168.8 63.9L167.9 62.8L166.8 66.1L170.3 65.9L169.4 64.7L171.4 63.2zM112.9 69.6L110.8 71.2L110.0 70.1L108.9 73.4L112.4 73.2L111.5 72.1L113.5 70.5zM156.3 69.6L154.3 71.2L153.4 70.1L152.3 73.4L155.9 73.2L155.0 72.1L157.0 70.5zM170.8 69.6L168.8 71.2L167.9 70.1L166.8 73.4L170.3 73.2L169.4 72.1L171.4 70.5zM105.6 76.9L103.6 78.5L102.7 77.4L101.7 80.7L105.2 80.5L104.3 79.4L106.3 77.8zM112.9 76.9L110.8 78.5L110.0 77.4L108.9 80.7L112.4 80.5L111.5 79.4L113.5 77.8zM120.1 76.9L118.1 78.5L117.2 77.4L116.1 80.7L119.7 80.5L118.8 79.4L120.8 77.8zM170.8 76.9L168.8 78.5L167.9 77.4L166.8 80.7L170.3 80.5L169.4 79.4L171.4 77.8zM120.1 84.2L118.1 85.8L117.2 84.7L116.1 88.0L119.7 87.8L118.8 86.7L120.8 85.1zM170.8 84.2L168.8 85.8L167.9 84.7L166.8 88.0L170.3 87.8L169.4 86.7L171.4 85.1zM91.1 91.6L89.1 93.1L88.2 92.0L87.2 95.4L90.7 95.1L89.8 94.0L91.8 92.4zM105.6 91.6L103.6 93.1L102.7 92.0L101.7 95.4L105.2 95.1L104.3 94.0L106.3 92.4zM120.1 91.6L118.1 93.1L117.2 92.0L116.1 95.4L119.7 95.1L118.8 94.0L120.8 92.4zM170.8 91.6L168.8 93.1L167.9 92.0L166.8 95.4L170.3 95.1L169.4 94.0L171.4 92.4zM84.0 99.3L83.0 101.6L81.7 101.1L82.4 104.5L85.3 102.6L84.0 102.0L85.0 99.7zM98.4 98.9L96.4 100.4L95.5 99.3L94.4 102.7L97.9 102.4L97.0 101.3L99.0 99.7zM105.6 98.9L103.6 100.4L102.7 99.3L101.7 102.7L105.2 102.4L104.3 101.3L106.3 99.7zM120.1 98.9L118.1 100.4L117.2 99.3L116.1 102.7L119.7 102.4L118.8 101.3L120.8 99.7zM134.6 98.9L132.6 100.4L131.7 99.3L130.6 102.7L134.1 102.4L133.2 101.3L135.2 99.7zM163.5 98.9L161.5 100.4L160.6 99.3L159.6 102.7L163.1 102.4L162.2 101.3L164.2 99.7zM91.1 106.2L89.1 107.8L88.2 106.6L87.2 110.0L90.7 109.7L89.8 108.6L91.8 107.0zM98.4 106.2L96.4 107.8L95.5 106.6L94.4 110.0L97.9 109.7L97.0 108.6L99.0 107.0zM112.9 106.2L110.8 107.8L110.0 106.6L108.9 110.0L112.4 109.7L111.5 108.6L113.5 107.0zM69.4 113.5L67.4 115.1L66.5 113.9L65.5 117.3L69.0 117.0L68.1 115.9L70.1 114.3zM76.7 113.5L74.6 115.1L73.8 113.9L72.7 117.3L76.2 117.0L75.3 115.9L77.3 114.3zM83.9 113.5L81.9 115.1L81.0 113.9L79.9 117.3L83.5 117.0L82.6 115.9L84.6 114.3zM91.1 113.5L89.1 115.1L88.2 113.9L87.2 117.3L90.7 117.0L89.8 115.9L91.8 114.3zM105.6 113.5L103.6 115.1L102.7 113.9L101.7 117.3L105.2 117.0L104.3 115.9L106.3 114.3zM127.3 113.5L125.3 115.1L124.4 113.9L123.4 117.3L126.9 117.0L126.0 115.9L128.0 114.3zM91.1 120.8L89.1 122.4L88.2 121.2L87.2 124.6L90.7 124.4L89.8 123.2L91.8 121.6zM112.9 120.8L110.8 122.4L110.0 121.2L108.9 124.6L112.4 124.4L111.5 123.2L113.5 121.6zM163.5 120.8L161.5 122.4L160.6 121.2L159.6 124.6L163.1 124.4L162.2 123.2L164.2 121.6zM91.1 128.1L89.1 129.7L88.2 128.6L87.2 131.9L90.7 131.7L89.8 130.5L91.8 129.0zM105.6 128.1L103.6 129.7L102.7 128.6L101.7 131.9L105.2 131.7L104.3 130.5L106.3 129.0zM120.1 128.1L118.1 129.7L117.2 128.6L116.1 131.9L119.7 131.7L118.8 130.5L120.8 129.0zM127.3 128.1L125.3 129.7L124.4 128.6L123.4 131.9L126.9 131.7L126.0 130.5L128.0 129.0zM163.5 128.1L161.5 129.7L160.6 128.6L159.6 131.9L163.1 131.7L162.2 130.5L164.2 129.0zM170.8 128.1L168.8 129.7L167.9 128.6L166.8 131.9L170.3 131.7L169.4 130.5L171.4 129.0zM91.1 135.4L89.1 137.0L88.2 135.9L87.2 139.2L90.7 139.0L89.8 137.8L91.8 136.3zM98.4 135.4L96.4 137.0L95.5 135.9L94.4 139.2L97.9 139.0L97.0 137.8L99.0 136.3zM112.9 135.4L110.8 137.0L110.0 135.9L108.9 139.2L112.4 139.0L111.5 137.8L113.5 136.3zM120.1 135.4L118.1 137.0L117.2 135.9L116.1 139.2L119.7 139.0L118.8 137.8L120.8 136.3zM127.3 135.4L125.3 137.0L124.4 135.9L123.4 139.2L126.9 139.0L126.0 137.8L128.0 136.3zM134.6 135.4L132.6 137.0L131.7 135.9L130.6 139.2L134.1 139.0L133.2 137.8L135.2 136.3zM149.1 135.4L147.0 137.0L146.2 135.9L145.1 139.2L148.6 139.0L147.7 137.8L149.7 136.3zM156.3 135.4L154.3 137.0L153.4 135.9L152.3 139.2L155.9 139.0L155.0 137.8L157.0 136.3zM170.8 135.4L168.8 137.0L167.9 135.9L166.8 139.2L170.3 139.0L169.4 137.8L171.4 136.3zM83.9 142.9L82.3 144.9L81.2 144.0L81.0 147.5L84.3 146.5L83.2 145.6L84.8 143.6zM91.1 142.9L89.6 144.9L88.4 144.0L88.2 147.5L91.5 146.5L90.4 145.6L92.0 143.6zM105.6 142.9L104.0 144.9L102.9 144.0L102.7 147.5L106.0 146.5L104.9 145.6L106.5 143.6zM120.1 142.9L118.5 144.9L117.4 144.0L117.2 147.5L120.5 146.5L119.4 145.6L121.0 143.6zM127.3 142.9L125.8 144.9L124.6 144.0L124.4 147.5L127.7 146.5L126.6 145.6L128.2 143.6zM141.8 142.9L140.2 144.9L139.1 144.0L138.9 147.5L142.2 146.5L141.1 145.6L142.7 143.6zM156.3 142.9L154.7 144.9L153.6 144.0L153.4 147.5L156.7 146.5L155.6 145.6L157.2 143.6zM163.5 142.9L162.0 144.9L160.8 144.0L160.6 147.5L163.9 146.5L162.8 145.6L164.4 143.6zM54.9 150.2L53.4 152.2L52.2 151.3L52.0 154.8L55.3 153.8L54.2 152.9L55.8 150.9zM83.9 150.2L82.3 152.2L81.2 151.3L81.0 154.8L84.3 153.8L83.2 152.9L84.8 150.9zM98.4 150.2L96.8 152.2L95.7 151.3L95.4 154.8L98.8 153.8L97.7 152.9L99.2 150.9zM141.8 150.2L140.2 152.2L139.1 151.3L138.9 154.8L142.2 153.8L141.1 152.9L142.7 150.9zM149.1 150.2L147.5 152.2L146.4 151.3L146.1 154.8L149.5 153.8L148.3 152.9L149.9 150.9zM91.1 157.5L89.6 159.5L88.4 158.6L88.2 162.2L91.5 161.1L90.4 160.2L92.0 158.2zM98.4 157.5L96.8 159.5L95.7 158.6L95.4 162.2L98.8 161.1L97.7 160.2L99.2 158.2zM120.1 157.5L118.5 159.5L117.4 158.6L117.2 162.2L120.5 161.1L119.4 160.2L121.0 158.2zM141.8 157.5L140.2 159.5L139.1 158.6L138.9 162.2L142.2 161.1L141.1 160.2L142.7 158.2zM149.1 157.5L147.5 159.5L146.4 158.6L146.1 162.2L149.5 161.1L148.3 160.2L149.9 158.2zM98.4 164.8L96.8 166.8L95.7 166.0L95.4 169.5L98.8 168.4L97.7 167.5L99.2 165.5zM120.1 164.8L118.5 166.8L117.4 166.0L117.2 169.5L120.5 168.4L119.4 167.5L121.0 165.5zM127.3 164.8L125.8 166.8L124.6 166.0L124.4 169.5L127.7 168.4L126.6 167.5L128.2 165.5zM134.6 164.8L133.0 166.8L131.9 166.0L131.6 169.5L135.0 168.4L133.9 167.5L135.4 165.5zM141.8 164.8L140.2 166.8L139.1 166.0L138.9 169.5L142.2 168.4L141.1 167.5L142.7 165.5zM149.1 164.8L147.5 166.8L146.4 166.0L146.1 169.5L149.5 168.4L148.3 167.5L149.9 165.5zM156.3 164.8L154.7 166.8L153.6 166.0L153.4 169.5L156.7 168.4L155.6 167.5L157.2 165.5zM170.8 164.8L169.2 166.8L168.1 166.0L167.8 169.5L171.2 168.4L170.1 167.5L171.6 165.5zM18.7 172.2L17.2 174.2L16.0 173.3L15.8 176.8L19.1 175.7L18.0 174.8L19.6 172.8zM26.0 172.2L24.4 174.2L23.3 173.3L23.0 176.8L26.4 175.7L25.3 174.8L26.8 172.8zM33.4 172.5L33.0 175.0L31.6 174.8L33.1 178.0L35.5 175.4L34.1 175.2L34.5 172.7zM40.5 172.2L38.9 174.2L37.8 173.3L37.5 176.8L40.9 175.7L39.7 174.8L41.3 172.8zM47.9 172.5L47.5 175.0L46.1 174.8L47.6 178.0L50.0 175.4L48.5 175.2L48.9 172.7zM54.9 172.2L53.4 174.2L52.2 173.3L52.0 176.8L55.3 175.7L54.2 174.8L55.8 172.8zM69.4 172.2L67.8 174.2L66.7 173.3L66.5 176.8L69.8 175.7L68.7 174.8L70.3 172.8zM83.9 172.2L82.3 174.2L81.2 173.3L81.0 176.8L84.3 175.7L83.2 174.8L84.8 172.8zM98.4 172.2L96.8 174.2L95.7 173.3L95.4 176.8L98.8 175.7L97.7 174.8L99.2 172.8zM105.6 172.2L104.0 174.2L102.9 173.3L102.7 176.8L106.0 175.7L104.9 174.8L106.5 172.8zM112.9 172.2L111.3 174.2L110.2 173.3L109.9 176.8L113.3 175.7L112.1 174.8L113.7 172.8zM120.1 172.2L118.5 174.2L117.4 173.3L117.2 176.8L120.5 175.7L119.4 174.8L121.0 172.8zM127.3 172.2L125.8 174.2L124.6 173.3L124.4 176.8L127.7 175.7L126.6 174.8L128.2 172.8zM134.6 172.2L133.0 174.2L131.9 173.3L131.6 176.8L135.0 175.7L133.9 174.8L135.4 172.8zM141.8 172.2L140.2 174.2L139.1 173.3L138.9 176.8L142.2 175.7L141.1 174.8L142.7 172.8zM149.1 172.2L147.5 174.2L146.4 173.3L146.1 176.8L149.5 175.7L148.3 174.8L149.9 172.8zM156.3 172.2L154.7 174.2L153.6 173.3L153.4 176.8L156.7 175.7L155.6 174.8L157.2 172.8z"/><path fill="#ffb025" d="M120.2 11.5L119.2 13.9L117.9 13.4L118.6 16.8L121.5 14.9L120.2 14.3L121.2 12.0zM134.6 11.3L133.0 13.3L131.9 12.4L131.6 16.0L135.0 14.9L133.9 14.0L135.4 12.0zM141.8 11.3L140.2 13.3L139.1 12.4L138.9 16.0L142.2 14.9L141.1 14.0L142.7 12.0zM149.1 11.3L147.5 13.3L146.4 12.4L146.1 16.0L149.5 14.9L148.3 14.0L149.9 12.0zM163.5 11.3L162.0 13.3L160.8 12.4L160.6 16.0L163.9 14.9L162.8 14.0L164.4 12.0zM170.8 11.3L169.2 13.3L168.1 12.4L167.8 16.0L171.2 14.9L170.1 14.0L171.6 12.0zM127.3 18.6L125.8 20.6L124.6 19.8L124.4 23.3L127.7 22.2L126.6 21.3L128.2 19.3zM141.8 18.6L140.2 20.6L139.1 19.8L138.9 23.3L142.2 22.2L141.1 21.3L142.7 19.3zM149.1 18.6L147.5 20.6L146.4 19.8L146.1 23.3L149.5 22.2L148.3 21.3L149.9 19.3zM141.8 26.0L140.2 28.0L139.1 27.1L138.9 30.6L142.2 29.5L141.1 28.6L142.7 26.6zM163.5 26.0L162.0 28.0L160.8 27.1L160.6 30.6L163.9 29.5L162.8 28.6L164.4 26.6zM156.3 40.6L154.7 42.6L153.6 41.7L153.4 45.2L156.7 44.1L155.6 43.3L157.2 41.2zM163.5 40.6L162.0 42.6L160.8 41.7L160.6 45.2L163.9 44.1L162.8 43.3L164.4 41.2zM120.1 47.9L118.5 49.9L117.4 49.0L117.2 52.5L120.5 51.5L119.4 50.6L121.0 48.6zM127.3 47.9L125.8 49.9L124.6 49.0L124.4 52.5L127.7 51.5L126.6 50.6L128.2 48.6zM134.6 47.9L133.0 49.9L131.9 49.0L131.6 52.5L135.0 51.5L133.9 50.6L135.4 48.6zM170.8 47.9L169.2 49.9L168.1 49.0L167.8 52.5L171.2 51.5L170.1 50.6L171.6 48.6zM112.9 55.0L110.8 56.6L110.0 55.5L108.9 58.8L112.4 58.6L111.5 57.4L113.5 55.9zM127.3 55.0L125.3 56.6L124.4 55.5L123.4 58.8L126.9 58.6L126.0 57.4L128.0 55.9zM134.6 55.0L132.6 56.6L131.7 55.5L130.6 58.8L134.1 58.6L133.2 57.4L135.2 55.9zM149.1 55.0L147.0 56.6L146.2 55.5L145.1 58.8L148.6 58.6L147.7 57.4L149.7 55.9zM120.1 62.3L118.1 63.9L117.2 62.8L116.1 66.1L119.7 65.9L118.8 64.7L120.8 63.2zM134.6 62.3L132.6 63.9L131.7 62.8L130.6 66.1L134.1 65.9L133.2 64.7L135.2 63.2zM141.8 62.3L139.8 63.9L138.9 62.8L137.9 66.1L141.4 65.9L140.5 64.7L142.5 63.2zM156.3 62.3L154.3 63.9L153.4 62.8L152.3 66.1L155.9 65.9L155.0 64.7L157.0 63.2zM163.5 62.3L161.5 63.9L160.6 62.8L159.6 66.1L163.1 65.9L162.2 64.7L164.2 63.2zM120.1 69.6L118.1 71.2L117.2 70.1L116.1 73.4L119.7 73.2L118.8 72.1L120.8 70.5zM127.3 69.6L125.3 71.2L124.4 70.1L123.4 73.4L126.9 73.2L126.0 72.1L128.0 70.5zM149.1 69.6L147.0 71.2L146.2 70.1L145.1 73.4L148.6 73.2L147.7 72.1L149.7 70.5zM163.5 69.6L161.5 71.2L160.6 70.1L159.6 73.4L163.1 73.2L162.2 72.1L164.2 70.5zM98.4 76.9L96.4 78.5L95.5 77.4L94.4 80.7L97.9 80.5L97.0 79.4L99.0 77.8zM127.3 76.9L125.3 78.5L124.4 77.4L123.4 80.7L126.9 80.5L126.0 79.4L128.0 77.8zM141.8 76.9L139.8 78.5L138.9 77.4L137.9 80.7L141.4 80.5L140.5 79.4L142.5 77.8zM149.1 76.9L147.0 78.5L146.2 77.4L145.1 80.7L148.6 80.5L147.7 79.4L149.7 77.8zM156.3 76.9L154.3 78.5L153.4 77.4L152.3 80.7L155.9 80.5L155.0 79.4L157.0 77.8zM163.5 76.9L161.5 78.5L160.6 77.4L159.6 80.7L163.1 80.5L162.2 79.4L164.2 77.8zM91.1 84.2L89.1 85.8L88.2 84.7L87.2 88.0L90.7 87.8L89.8 86.7L91.8 85.1zM112.9 84.2L110.8 85.8L110.0 84.7L108.9 88.0L112.4 87.8L111.5 86.7L113.5 85.1zM127.3 84.2L125.3 85.8L124.4 84.7L123.4 88.0L126.9 87.8L126.0 86.7L128.0 85.1zM156.3 84.2L154.3 85.8L153.4 84.7L152.3 88.0L155.9 87.8L155.0 86.7L157.0 85.1zM163.5 84.2L161.5 85.8L160.6 84.7L159.6 88.0L163.1 87.8L162.2 86.7L164.2 85.1zM62.2 91.6L60.2 93.1L59.3 92.0L58.2 95.4L61.7 95.1L60.8 94.0L62.8 92.4zM98.4 91.6L96.4 93.1L95.5 92.0L94.4 95.4L97.9 95.1L97.0 94.0L99.0 92.4zM112.9 91.6L110.8 93.1L110.0 92.0L108.9 95.4L112.4 95.1L111.5 94.0L113.5 92.4zM127.3 91.6L125.3 93.1L124.4 92.0L123.4 95.4L126.9 95.1L126.0 94.0L128.0 92.4zM156.3 91.6L154.3 93.1L153.4 92.0L152.3 95.4L155.9 95.1L155.0 94.0L157.0 92.4zM163.5 91.6L161.5 93.1L160.6 92.0L159.6 95.4L163.1 95.1L162.2 94.0L164.2 92.4zM62.2 98.9L60.2 100.4L59.3 99.3L58.2 102.7L61.7 102.4L60.8 101.3L62.8 99.7zM112.9 98.9L110.8 100.4L110.0 99.3L108.9 102.7L112.4 102.4L111.5 101.3L113.5 99.7zM127.3 98.9L125.3 100.4L124.4 99.3L123.4 102.7L126.9 102.4L126.0 101.3L128.0 99.7zM141.8 98.9L139.8 100.4L138.9 99.3L137.9 102.7L141.4 102.4L140.5 101.3L142.5 99.7zM149.1 98.9L147.0 100.4L146.2 99.3L145.1 102.7L148.6 102.4L147.7 101.3L149.7 99.7zM156.3 98.9L154.3 100.4L153.4 99.3L152.3 102.7L155.9 102.4L155.0 101.3L157.0 99.7zM170.8 98.9L168.8 100.4L167.9 99.3L166.8 102.7L170.3 102.4L169.4 101.3L171.4 99.7zM76.7 106.2L74.6 107.8L73.8 106.6L72.7 110.0L76.2 109.7L75.3 108.6L77.3 107.0zM84.0 106.6L83.0 108.9L81.7 108.4L82.4 111.8L85.3 109.9L84.0 109.4L85.0 107.0zM105.6 106.2L103.6 107.8L102.7 106.6L101.7 110.0L105.2 109.7L104.3 108.6L106.3 107.0zM120.1 106.2L118.1 107.8L117.2 106.6L116.1 110.0L119.7 109.7L118.8 108.6L120.8 107.0zM127.3 106.2L125.3 107.8L124.4 106.6L123.4 110.0L126.9 109.7L126.0 108.6L128.0 107.0zM134.6 106.2L132.6 107.8L131.7 106.6L130.6 110.0L134.1 109.7L133.2 108.6L135.2 107.0zM141.8 106.2L139.8 107.8L138.9 106.6L137.9 110.0L141.4 109.7L140.5 108.6L142.5 107.0zM149.1 106.2L147.0 107.8L146.2 106.6L145.1 110.0L148.6 109.7L147.7 108.6L149.7 107.0zM98.4 113.5L96.4 115.1L95.5 113.9L94.4 117.3L97.9 117.0L97.0 115.9L99.0 114.3zM112.9 113.5L110.8 115.1L110.0 113.9L108.9 117.3L112.4 117.0L111.5 115.9L113.5 114.3zM120.1 113.5L118.1 115.1L117.2 113.9L116.1 117.3L119.7 117.0L118.8 115.9L120.8 114.3zM141.8 113.5L139.8 115.1L138.9 113.9L137.9 117.3L141.4 117.0L140.5 115.9L142.5 114.3zM149.1 113.5L147.0 115.1L146.2 113.9L145.1 117.3L148.6 117.0L147.7 115.9L149.7 114.3zM156.3 113.5L154.3 115.1L153.4 113.9L152.3 117.3L155.9 117.0L155.0 115.9L157.0 114.3zM163.5 113.5L161.5 115.1L160.6 113.9L159.6 117.3L163.1 117.0L162.2 115.9L164.2 114.3zM170.8 113.5L168.8 115.1L167.9 113.9L166.8 117.3L170.3 117.0L169.4 115.9L171.4 114.3zM98.4 120.8L96.4 122.4L95.5 121.2L94.4 124.6L97.9 124.4L97.0 123.2L99.0 121.6zM105.6 120.8L103.6 122.4L102.7 121.2L101.7 124.6L105.2 124.4L104.3 123.2L106.3 121.6zM120.1 120.8L118.1 122.4L117.2 121.2L116.1 124.6L119.7 124.4L118.8 123.2L120.8 121.6zM127.3 120.8L125.3 122.4L124.4 121.2L123.4 124.6L126.9 124.4L126.0 123.2L128.0 121.6zM156.3 120.8L154.3 122.4L153.4 121.2L152.3 124.6L155.9 124.4L155.0 123.2L157.0 121.6zM170.8 120.8L168.8 122.4L167.9 121.2L166.8 124.6L170.3 124.4L169.4 123.2L171.4 121.6zM98.4 128.1L96.4 129.7L95.5 128.6L94.4 131.9L97.9 131.7L97.0 130.5L99.0 129.0zM112.9 128.1L110.8 129.7L110.0 128.6L108.9 131.9L112.4 131.7L111.5 130.5L113.5 129.0zM149.1 128.1L147.0 129.7L146.2 128.6L145.1 131.9L148.6 131.7L147.7 130.5L149.7 129.0zM156.3 128.1L154.3 129.7L153.4 128.6L152.3 131.9L155.9 131.7L155.0 130.5L157.0 129.0zM105.6 135.4L103.6 137.0L102.7 135.9L101.7 139.2L105.2 139.0L104.3 137.8L106.3 136.3zM141.8 135.4L139.8 137.0L138.9 135.9L137.9 139.2L141.4 139.0L140.5 137.8L142.5 136.3zM76.7 142.9L75.1 144.9L74.0 144.0L73.7 147.5L77.1 146.5L75.9 145.6L77.5 143.6zM98.4 142.9L96.8 144.9L95.7 144.0L95.4 147.5L98.8 146.5L97.7 145.6L99.2 143.6zM112.9 142.9L111.3 144.9L110.2 144.0L109.9 147.5L113.3 146.5L112.1 145.6L113.7 143.6zM134.6 142.9L133.0 144.9L131.9 144.0L131.6 147.5L135.0 146.5L133.9 145.6L135.4 143.6zM149.1 142.9L147.5 144.9L146.4 144.0L146.1 147.5L149.5 146.5L148.3 145.6L149.9 143.6zM76.7 150.2L75.1 152.2L74.0 151.3L73.7 154.8L77.1 153.8L75.9 152.9L77.5 150.9zM91.1 150.2L89.6 152.2L88.4 151.3L88.2 154.8L91.5 153.8L90.4 152.9L92.0 150.9zM105.6 150.2L104.0 152.2L102.9 151.3L102.7 154.8L106.0 153.8L104.9 152.9L106.5 150.9zM112.9 150.2L111.3 152.2L110.2 151.3L109.9 154.8L113.3 153.8L112.1 152.9L113.7 150.9zM120.1 150.2L118.5 152.2L117.4 151.3L117.2 154.8L120.5 153.8L119.4 152.9L121.0 150.9zM127.3 150.2L125.8 152.2L124.6 151.3L124.4 154.8L127.7 153.8L126.6 152.9L128.2 150.9zM156.3 150.2L154.7 152.2L153.6 151.3L153.4 154.8L156.7 153.8L155.6 152.9L157.2 150.9zM170.8 150.2L169.2 152.2L168.1 151.3L167.8 154.8L171.2 153.8L170.1 152.9L171.6 150.9zM105.6 157.5L104.0 159.5L102.9 158.6L102.7 162.2L106.0 161.1L104.9 160.2L106.5 158.2zM127.3 157.5L125.8 159.5L124.6 158.6L124.4 162.2L127.7 161.1L126.6 160.2L128.2 158.2zM134.6 157.5L133.0 159.5L131.9 158.6L131.6 162.2L135.0 161.1L133.9 160.2L135.4 158.2zM170.8 157.5L169.2 159.5L168.1 158.6L167.8 162.2L171.2 161.1L170.1 160.2L171.6 158.2zM11.5 164.8L9.9 166.8L8.8 166.0L8.6 169.5L11.9 168.4L10.8 167.5L12.4 165.5zM18.9 165.2L18.5 167.7L17.1 167.5L18.6 170.7L21.0 168.1L19.6 167.9L20.0 165.4zM105.7 165.1L104.7 167.4L103.4 166.9L104.1 170.3L107.0 168.4L105.7 167.8L106.7 165.5zM163.5 164.8L162.0 166.8L160.8 166.0L160.6 169.5L163.9 168.4L162.8 167.5L164.4 165.5zM62.3 172.5L61.9 175.0L60.5 174.8L62.0 178.0L64.4 175.4L63.0 175.2L63.4 172.7zM91.1 172.2L89.6 174.2L88.4 173.3L88.2 176.8L91.5 175.7L90.4 174.8L92.0 172.8zM163.5 172.2L162.0 174.2L160.8 173.3L160.6 176.8L163.9 175.7L162.8 174.8L164.4 172.8z"/><path fill="#ff791c" d="M156.3 18.6L154.7 20.6L153.6 19.8L153.4 23.3L156.7 22.2L155.6 21.3L157.2 19.3zM163.5 33.3L162.0 35.3L160.8 34.4L160.6 37.9L163.9 36.8L162.8 35.9L164.4 33.9zM141.8 69.6L139.8 71.2L138.9 70.1L137.9 73.4L141.4 73.2L140.5 72.1L142.5 70.5zM134.6 76.9L132.6 78.5L131.7 77.4L130.6 80.7L134.1 80.5L133.2 79.4L135.2 77.8zM98.4 84.2L96.4 85.8L95.5 84.7L94.4 88.0L97.9 87.8L97.0 86.7L99.0 85.1zM105.6 84.2L103.6 85.8L102.7 84.7L101.7 88.0L105.2 87.8L104.3 86.7L106.3 85.1zM134.6 84.2L132.6 85.8L131.7 84.7L130.6 88.0L134.1 87.8L133.2 86.7L135.2 85.1zM141.8 84.2L139.8 85.8L138.9 84.7L137.9 88.0L141.4 87.8L140.5 86.7L142.5 85.1zM134.6 91.6L132.6 93.1L131.7 92.0L130.6 95.4L134.1 95.1L133.2 94.0L135.2 92.4zM141.8 91.6L139.8 93.1L138.9 92.0L137.9 95.4L141.4 95.1L140.5 94.0L142.5 92.4zM149.1 91.6L147.0 93.1L146.2 92.0L145.1 95.4L148.6 95.1L147.7 94.0L149.7 92.4zM156.3 106.2L154.3 107.8L153.4 106.6L152.3 110.0L155.9 109.7L155.0 108.6L157.0 107.0zM163.5 106.2L161.5 107.8L160.6 106.6L159.6 110.0L163.1 109.7L162.2 108.6L164.2 107.0zM134.6 113.5L132.6 115.1L131.7 113.9L130.6 117.3L134.1 117.0L133.2 115.9L135.2 114.3zM134.6 120.8L132.6 122.4L131.7 121.2L130.6 124.6L134.1 124.4L133.2 123.2L135.2 121.6zM141.8 120.8L139.8 122.4L138.9 121.2L137.9 124.6L141.4 124.4L140.5 123.2L142.5 121.6zM149.1 120.8L147.0 122.4L146.2 121.2L145.1 124.6L148.6 124.4L147.7 123.2L149.7 121.6zM134.6 128.1L132.6 129.7L131.7 128.6L130.6 131.9L134.1 131.7L133.2 130.5L135.2 129.0zM141.8 128.1L139.8 129.7L138.9 128.6L137.9 131.9L141.4 131.7L140.5 130.5L142.5 129.0zM134.6 150.2L133.0 152.2L131.9 151.3L131.6 154.8L135.0 153.8L133.9 152.9L135.4 150.9zM112.9 157.5L111.3 159.5L110.2 158.6L109.9 162.2L113.3 161.1L112.1 160.2L113.7 158.2zM112.9 164.8L111.3 166.8L110.2 166.0L109.9 169.5L113.3 168.4L112.1 167.5L113.7 165.5zM11.5 172.2L9.9 174.2L8.8 173.3L8.6 176.8L11.9 175.7L10.8 174.8L12.4 172.8zM170.8 172.2L169.2 174.2L168.1 173.3L167.8 176.8L171.2 175.7L170.1 174.8L171.6 172.8z"/><path fill="#e54813" d="M134.6 69.6L132.6 71.2L131.7 70.1L130.6 73.4L134.1 73.2L133.2 72.1L135.2 70.5zM149.1 84.2L147.0 85.8L146.2 84.7L145.1 88.0L148.6 87.8L147.7 86.7L149.7 85.1zM170.8 106.2L168.8 107.8L167.9 106.6L166.8 110.0L170.3 109.7L169.4 108.6L171.4 107.0z"/></g><rect x="0.3" y="0.3" width="182.4" height="182.4" fill="none" stroke="#444" stroke-width="0.6"/></svg>
<svg style="position:absolute;left:232px;top:29px" width="183" height="183" viewBox="0 0 183 183"><defs><filter id="fhb" filterUnits="userSpaceOnUse" x="0" y="0" width="183" height="183" color-interpolation-filters="sRGB"><feGaussianBlur stdDeviation="2.1"/><feComponentTransfer><feFuncR type="table" tableValues="0.243 0.263 0.278 0.294 0.306 0.314 0.31 0.31 0.306 0.306 0.306 0.306 0.306 0.318 0.329 0.345 0.361 0.376 0.404 0.471 0.533 0.643 0.761 0.855 0.929 0.945 0.953 0.961 0.961 0.961 0.961 0.961 0.961 0.961 0.961 0.961 0.961 0.961 0.961 0.961 0.961 0.961 0.961 0.961 0.961 0.961 0.961 0.961 0.961"/><feFuncG type="table" tableValues="0.125 0.145 0.161 0.22 0.282 0.345 0.404 0.463 0.522 0.58 0.631 0.686 0.741 0.773 0.8 0.827 0.843 0.855 0.863 0.867 0.871 0.839 0.8 0.745 0.682 0.698 0.722 0.749 0.812 0.878 0.949 0.961 0.961 0.961 0.961 0.961 0.961 0.961 0.961 0.961 0.961 0.961 0.961 0.961 0.961 0.961 0.961 0.961 0.961"/><feFuncB type="table" tableValues="0.784 0.867 0.953 0.969 0.98 0.988 0.984 0.98 0.976 0.961 0.933 0.91 0.882 0.824 0.757 0.694 0.627 0.561 0.498 0.424 0.349 0.29 0.235 0.224 0.235 0.231 0.224 0.216 0.204 0.192 0.18 0.176 0.176 0.176 0.176 0.176 0.176 0.176 0.176 0.176 0.176 0.176 0.176 0.176 0.176 0.176 0.176 0.176 0.176"/><feFuncA type="linear" slope="0" intercept="1"/></feComponentTransfer></filter></defs><g filter="url(#fhb)"><rect width="183" height="183" fill="#000"/><g stroke-linecap="round" stroke-width="5.6" fill="none"><path stroke="#1c1c1c" d="M26.7 33.4h0M33.9 48.0h0M41.1 55.4h0M48.3 55.4h0"/><path stroke="#474747" d="M19.5 26.1h0M26.7 26.1h0M33.9 26.1h0M41.1 26.1h0M12.3 33.4h0M19.5 33.4h0M33.9 33.4h0M41.1 33.4h0M62.8 33.4h0M19.5 40.7h0M26.7 40.7h0M33.9 40.7h0M41.1 40.7h0M48.3 40.7h0M62.8 40.7h0M70.0 40.7h0M19.5 48.0h0M26.7 48.0h0M41.1 48.0h0M48.3 48.0h0M62.8 48.0h0M26.7 55.4h0M33.9 55.4h0M55.6 55.4h0M62.8 55.4h0M98.8 55.4h0M41.1 62.7h0M48.3 62.7h0M55.6 62.7h0M77.2 62.7h0"/><path stroke="#636363" d="M26.7 11.5h0M33.9 11.5h0M41.1 11.5h0M70.0 11.5h0M84.4 11.5h0M98.8 11.5h0M106.0 11.5h0M113.2 11.5h0M12.3 18.8h0M26.7 18.8h0M33.9 18.8h0M41.1 18.8h0M48.3 18.8h0M70.0 18.8h0M106.0 18.8h0M113.2 18.8h0M12.3 26.1h0M48.3 26.1h0M55.6 26.1h0M62.8 26.1h0M70.0 26.1h0M77.2 26.1h0M84.4 26.1h0M91.6 26.1h0M106.0 26.1h0M113.2 26.1h0M48.3 33.4h0M55.6 33.4h0M70.0 33.4h0M77.2 33.4h0M84.4 33.4h0M91.6 33.4h0M98.8 33.4h0M106.0 33.4h0M113.2 33.4h0M12.3 40.7h0M55.6 40.7h0M77.2 40.7h0M84.4 40.7h0M91.6 40.7h0M98.8 40.7h0M106.0 40.7h0M113.2 40.7h0M12.3 48.0h0M55.6 48.0h0M70.0 48.0h0M77.2 48.0h0M84.4 48.0h0M91.6 48.0h0M106.0 48.0h0M12.3 55.4h0M19.5 55.4h0M70.0 55.4h0M77.2 55.4h0M84.4 55.4h0M91.6 55.4h0M106.0 55.4h0M19.5 62.7h0M26.7 62.7h0M33.9 62.7h0M62.8 62.7h0M70.0 62.7h0M84.4 62.7h0M91.6 62.7h0M98.8 62.7h0M106.0 62.7h0M26.7 70.0h0M41.1 70.0h0M48.3 70.0h0M55.6 70.0h0M62.8 70.0h0M70.0 70.0h0M77.2 70.0h0M84.4 70.0h0M91.6 70.0h0"/><path stroke="#6e6e6e" d="M12.3 77.3h0M48.3 77.3h0M70.0 77.3h0M12.3 84.6h0M41.1 84.6h0M77.2 84.6h0M41.1 91.9h0M48.3 91.9h0M77.2 91.9h0M26.7 99.2h0M12.3 106.5h0M12.3 113.8h0M12.3 128.5h0M19.5 128.5h0M26.7 128.5h0M33.9 128.5h0M19.5 135.8h0M33.9 135.8h0M41.1 135.8h0M62.8 135.8h0"/><path stroke="#808080" d="M12.3 11.5h0M19.5 11.5h0M48.3 11.5h0M55.6 11.5h0M62.8 11.5h0M77.2 11.5h0M91.6 11.5h0M55.6 18.8h0M62.8 18.8h0M77.2 18.8h0M84.4 18.8h0M91.6 18.8h0M98.8 18.8h0M98.8 26.1h0M98.8 48.0h0M12.3 62.7h0M12.3 70.0h0M19.5 70.0h0M33.9 70.0h0M98.8 70.0h0M84.4 77.3h0M91.6 77.3h0M84.4 84.6h0M84.4 91.9h0M84.4 128.5h0M84.4 135.8h0M84.4 165.0h0"/><path stroke="#8b8b8b" d="M26.7 77.3h0M33.9 77.3h0M41.1 77.3h0M55.6 77.3h0M62.8 77.3h0M77.2 77.3h0M19.5 84.6h0M26.7 84.6h0M33.9 84.6h0M48.3 84.6h0M55.6 84.6h0M62.8 84.6h0M12.3 91.9h0M19.5 91.9h0M26.7 91.9h0M33.9 91.9h0M55.6 91.9h0M70.0 91.9h0M12.3 99.2h0M19.5 99.2h0M33.9 99.2h0M41.1 99.2h0M48.3 99.2h0M55.6 99.2h0M70.0 99.2h0M77.2 99.2h0M19.5 106.5h0M26.7 106.5h0M33.9 106.5h0M41.1 106.5h0M55.6 106.5h0M19.5 113.8h0M26.7 113.8h0M33.9 113.8h0M41.1 113.8h0M48.3 113.8h0M55.6 113.8h0M12.3 121.1h0M19.5 121.1h0M26.7 121.1h0M33.9 121.1h0M41.1 121.1h0M48.3 121.1h0M55.6 121.1h0M41.1 128.5h0M55.6 128.5h0M62.8 128.5h0M70.0 128.5h0M77.2 128.5h0M12.3 135.8h0M26.7 135.8h0M48.3 135.8h0M55.6 135.8h0M70.0 135.8h0M77.2 135.8h0M12.3 143.1h0M19.5 143.1h0M26.7 143.1h0M33.9 143.1h0M41.1 143.1h0M48.3 143.1h0M55.6 143.1h0M62.8 143.1h0M12.3 150.4h0M19.5 150.4h0M26.7 150.4h0M33.9 150.4h0M48.3 150.4h0M62.8 150.4h0M12.3 157.7h0M19.5 157.7h0M26.7 157.7h0M33.9 157.7h0M41.1 157.7h0M48.3 157.7h0M55.6 157.7h0M62.8 157.7h0M70.0 157.7h0M77.2 157.7h0M33.9 165.0h0M41.1 165.0h0M48.3 165.0h0M55.6 165.0h0M62.8 165.0h0M70.0 165.0h0M77.2 165.0h0"/><path stroke="#9c9c9c" d="M19.5 18.8h0M120.5 18.8h0M120.5 26.1h0M134.9 26.1h0M120.5 33.4h0M127.7 33.4h0M142.1 33.4h0M120.5 40.7h0M127.7 40.7h0M134.9 40.7h0M106.0 70.0h0M19.5 77.3h0M70.0 84.6h0M91.6 99.2h0M48.3 106.5h0M62.8 106.5h0M70.0 106.5h0M62.8 113.8h0M62.8 121.1h0M70.0 121.1h0M77.2 121.1h0M84.4 121.1h0M48.3 128.5h0M163.7 135.8h0M70.0 143.1h0M170.9 143.1h0M41.1 150.4h0M70.0 150.4h0M163.7 150.4h0M84.4 157.7h0M156.5 157.7h0M163.7 157.7h0M26.7 165.0h0M91.6 165.0h0M77.2 172.3h0"/><path stroke="#c1c1c1" d="M127.7 11.5h0M156.5 11.5h0M134.9 18.8h0M163.7 18.8h0M170.9 18.8h0M127.7 26.1h0M149.3 26.1h0M156.5 26.1h0M170.9 26.1h0M134.9 33.4h0M149.3 33.4h0M156.5 33.4h0M170.9 33.4h0M142.1 40.7h0M149.3 40.7h0M170.9 40.7h0M113.2 48.0h0M142.1 48.0h0M149.3 48.0h0M156.5 48.0h0M163.7 48.0h0M120.5 55.4h0M142.1 55.4h0M156.5 55.4h0M163.7 55.4h0M170.9 55.4h0M113.2 62.7h0M127.7 62.7h0M149.3 62.7h0M170.9 62.7h0M113.2 70.0h0M156.5 70.0h0M170.9 70.0h0M106.0 77.3h0M113.2 77.3h0M120.5 77.3h0M170.9 77.3h0M120.5 84.6h0M170.9 84.6h0M91.6 91.9h0M106.0 91.9h0M120.5 91.9h0M170.9 91.9h0M84.4 99.2h0M98.8 99.2h0M106.0 99.2h0M120.5 99.2h0M134.9 99.2h0M163.7 99.2h0M91.6 106.5h0M98.8 106.5h0M113.2 106.5h0M70.0 113.8h0M77.2 113.8h0M84.4 113.8h0M91.6 113.8h0M106.0 113.8h0M127.7 113.8h0M91.6 121.1h0M113.2 121.1h0M163.7 121.1h0M91.6 128.5h0M106.0 128.5h0M120.5 128.5h0M127.7 128.5h0M163.7 128.5h0M170.9 128.5h0M91.6 135.8h0M98.8 135.8h0M113.2 135.8h0M120.5 135.8h0M127.7 135.8h0M134.9 135.8h0M149.3 135.8h0M156.5 135.8h0M170.9 135.8h0M84.4 143.1h0M91.6 143.1h0M106.0 143.1h0M120.5 143.1h0M127.7 143.1h0M142.1 143.1h0M156.5 143.1h0M163.7 143.1h0M55.6 150.4h0M84.4 150.4h0M98.8 150.4h0M142.1 150.4h0M149.3 150.4h0M91.6 157.7h0M98.8 157.7h0M120.5 157.7h0M142.1 157.7h0M149.3 157.7h0M98.8 165.0h0M120.5 165.0h0M127.7 165.0h0M134.9 165.0h0M142.1 165.0h0M149.3 165.0h0M156.5 165.0h0M170.9 165.0h0M19.5 172.3h0M26.7 172.3h0M33.9 172.3h0M41.1 172.3h0M48.3 172.3h0M55.6 172.3h0M70.0 172.3h0M84.4 172.3h0M98.8 172.3h0M106.0 172.3h0M113.2 172.3h0M120.5 172.3h0M127.7 172.3h0M134.9 172.3h0M142.1 172.3h0M149.3 172.3h0M156.5 172.3h0"/><path stroke="#dddddd" d="M120.5 11.5h0M134.9 11.5h0M142.1 11.5h0M149.3 11.5h0M163.7 11.5h0M170.9 11.5h0M127.7 18.8h0M142.1 18.8h0M149.3 18.8h0M142.1 26.1h0M163.7 26.1h0M156.5 40.7h0M163.7 40.7h0M120.5 48.0h0M127.7 48.0h0M134.9 48.0h0M170.9 48.0h0M113.2 55.4h0M127.7 55.4h0M134.9 55.4h0M149.3 55.4h0M120.5 62.7h0M134.9 62.7h0M142.1 62.7h0M156.5 62.7h0M163.7 62.7h0M120.5 70.0h0M127.7 70.0h0M149.3 70.0h0M163.7 70.0h0M98.8 77.3h0M127.7 77.3h0M142.1 77.3h0M149.3 77.3h0M156.5 77.3h0M163.7 77.3h0M91.6 84.6h0M113.2 84.6h0M127.7 84.6h0M156.5 84.6h0M163.7 84.6h0M62.8 91.9h0M98.8 91.9h0M113.2 91.9h0M127.7 91.9h0M156.5 91.9h0M163.7 91.9h0M62.8 99.2h0M113.2 99.2h0M127.7 99.2h0M142.1 99.2h0M149.3 99.2h0M156.5 99.2h0M170.9 99.2h0M77.2 106.5h0M84.4 106.5h0M106.0 106.5h0M120.5 106.5h0M127.7 106.5h0M134.9 106.5h0M142.1 106.5h0M149.3 106.5h0M98.8 113.8h0M113.2 113.8h0M120.5 113.8h0M142.1 113.8h0M149.3 113.8h0M156.5 113.8h0M163.7 113.8h0M170.9 113.8h0M98.8 121.1h0M106.0 121.1h0M120.5 121.1h0M127.7 121.1h0M156.5 121.1h0M170.9 121.1h0M98.8 128.5h0M113.2 128.5h0M149.3 128.5h0M156.5 128.5h0M106.0 135.8h0M142.1 135.8h0M77.2 143.1h0M98.8 143.1h0M113.2 143.1h0M134.9 143.1h0M149.3 143.1h0M77.2 150.4h0M91.6 150.4h0M106.0 150.4h0M113.2 150.4h0M120.5 150.4h0M127.7 150.4h0M156.5 150.4h0M170.9 150.4h0M106.0 157.7h0M127.7 157.7h0M134.9 157.7h0M170.9 157.7h0M12.3 165.0h0M19.5 165.0h0M106.0 165.0h0M163.7 165.0h0M62.8 172.3h0M91.6 172.3h0M163.7 172.3h0"/><path stroke="#eeeeee" d="M156.5 18.8h0M163.7 33.4h0M142.1 70.0h0M134.9 77.3h0M98.8 84.6h0M106.0 84.6h0M134.9 84.6h0M142.1 84.6h0M134.9 91.9h0M142.1 91.9h0M149.3 91.9h0M156.5 106.5h0M163.7 106.5h0M134.9 113.8h0M134.9 121.1h0M142.1 121.1h0M149.3 121.1h0M134.9 128.5h0M142.1 128.5h0M134.9 150.4h0M113.2 157.7h0M113.2 165.0h0M12.3 172.3h0M170.9 172.3h0"/><path stroke="#ffffff" d="M134.9 70.0h0M149.3 84.6h0M170.9 106.5h0"/></g></g><rect x="0.4" y="0.4" width="182.2" height="182.2" fill="none" stroke="#555566" stroke-width="0.8"/><path stroke="#222" stroke-width="0.8" d="M17.1 0v1.6M17.1 183v-1.6M0 17.1h1.6M183 17.1h-1.6M34.2 0v1.6M34.2 183v-1.6M0 34.2h1.6M183 34.2h-1.6M51.3 0v1.6M51.3 183v-1.6M0 51.3h1.6M183 51.3h-1.6M68.4 0v1.6M68.4 183v-1.6M0 68.4h1.6M183 68.4h-1.6M85.5 0v1.6M85.5 183v-1.6M0 85.5h1.6M183 85.5h-1.6M102.6 0v1.6M102.6 183v-1.6M0 102.6h1.6M183 102.6h-1.6M119.7 0v1.6M119.7 183v-1.6M0 119.7h1.6M183 119.7h-1.6M136.8 0v1.6M136.8 183v-1.6M0 136.8h1.6M183 136.8h-1.6M153.9 0v1.6M153.9 183v-1.6M0 153.9h1.6M183 153.9h-1.6M171.0 0v1.6M171.0 183v-1.6M0 171.0h1.6M183 171.0h-1.6"/></svg>
<svg style="position:absolute;left:459px;top:29px" width="183" height="183" viewBox="0 0 183 183"><defs><filter id="fhc" filterUnits="userSpaceOnUse" x="0" y="0" width="183" height="183" color-interpolation-filters="sRGB"><feGaussianBlur stdDeviation="2.1"/><feComponentTransfer><feFuncR type="table" tableValues="0.243 0.263 0.278 0.294 0.306 0.314 0.31 0.31 0.306 0.306 0.306 0.306 0.306 0.318 0.329 0.345 0.361 0.376 0.404 0.471 0.533 0.643 0.761 0.855 0.929 0.945 0.953 0.961 0.961 0.961 0.961 0.961 0.961 0.961 0.961 0.961 0.961 0.961 0.961 0.961 0.961 0.961 0.961 0.961 0.961 0.961 0.961 0.961 0.961"/><feFuncG type="table" tableValues="0.125 0.145 0.161 0.22 0.282 0.345 0.404 0.463 0.522 0.58 0.631 0.686 0.741 0.773 0.8 0.827 0.843 0.855 0.863 0.867 0.871 0.839 0.8 0.745 0.682 0.698 0.722 0.749 0.812 0.878 0.949 0.961 0.961 0.961 0.961 0.961 0.961 0.961 0.961 0.961 0.961 0.961 0.961 0.961 0.961 0.961 0.961 0.961 0.961"/><feFuncB type="table" tableValues="0.784 0.867 0.953 0.969 0.98 0.988 0.984 0.98 0.976 0.961 0.933 0.91 0.882 0.824 0.757 0.694 0.627 0.561 0.498 0.424 0.349 0.29 0.235 0.224 0.235 0.231 0.224 0.216 0.204 0.192 0.18 0.176 0.176 0.176 0.176 0.176 0.176 0.176 0.176 0.176 0.176 0.176 0.176 0.176 0.176 0.176 0.176 0.176 0.176"/><feFuncA type="linear" slope="0" intercept="1"/></feComponentTransfer></filter></defs><g filter="url(#fhc)"><rect width="183" height="183" fill="#000"/><g stroke-linecap="round" stroke-width="5.6" fill="none"><path stroke="#858585" d="M84.4 55.4h0M91.6 55.4h0M98.8 55.4h0M113.2 55.4h0M120.5 55.4h0M127.7 55.4h0M134.9 55.4h0M142.1 55.4h0M149.3 55.4h0M156.5 55.4h0M163.7 55.4h0M170.9 55.4h0M84.4 62.7h0M91.6 62.7h0M98.8 62.7h0M106.0 62.7h0M113.2 62.7h0M120.5 62.7h0M127.7 62.7h0M134.9 62.7h0M142.1 62.7h0M149.3 62.7h0M156.5 62.7h0M163.7 62.7h0M170.9 62.7h0M55.6 70.0h0M62.8 70.0h0M70.0 70.0h0M77.2 70.0h0M84.4 70.0h0M91.6 70.0h0M98.8 70.0h0M106.0 70.0h0M113.2 70.0h0M120.5 70.0h0M127.7 70.0h0M134.9 70.0h0M142.1 70.0h0M149.3 70.0h0M156.5 70.0h0M163.7 70.0h0M170.9 70.0h0M55.6 77.3h0M62.8 77.3h0M70.0 77.3h0M77.2 77.3h0M84.4 77.3h0M91.6 77.3h0M98.8 77.3h0M106.0 77.3h0M113.2 77.3h0M120.5 77.3h0M127.7 77.3h0M134.9 77.3h0M142.1 77.3h0M149.3 77.3h0M156.5 77.3h0M163.7 77.3h0M170.9 77.3h0M55.6 84.6h0M62.8 84.6h0M70.0 84.6h0M77.2 84.6h0M84.4 84.6h0M91.6 84.6h0M98.8 84.6h0M106.0 84.6h0M113.2 84.6h0M120.5 84.6h0M127.7 84.6h0M134.9 84.6h0M142.1 84.6h0M149.3 84.6h0M156.5 84.6h0M163.7 84.6h0M170.9 84.6h0M55.6 91.9h0M62.8 91.9h0M70.0 91.9h0M77.2 91.9h0M84.4 91.9h0M91.6 91.9h0M98.8 91.9h0M106.0 91.9h0M113.2 91.9h0M120.5 91.9h0M127.7 91.9h0M134.9 91.9h0M142.1 91.9h0M149.3 91.9h0M156.5 91.9h0M163.7 91.9h0M170.9 91.9h0M55.6 99.2h0M62.8 99.2h0M77.2 99.2h0M91.6 99.2h0M98.8 99.2h0M106.0 99.2h0M113.2 99.2h0M120.5 99.2h0M127.7 99.2h0M134.9 99.2h0M142.1 99.2h0M149.3 99.2h0M156.5 99.2h0M163.7 99.2h0M170.9 99.2h0M55.6 106.5h0M62.8 106.5h0M70.0 106.5h0M77.2 106.5h0M91.6 106.5h0M98.8 106.5h0M106.0 106.5h0M113.2 106.5h0M120.5 106.5h0M127.7 106.5h0M134.9 106.5h0M142.1 106.5h0M149.3 106.5h0M156.5 106.5h0M163.7 106.5h0M170.9 106.5h0M55.6 113.8h0M62.8 113.8h0M70.0 113.8h0M77.2 113.8h0M84.4 113.8h0M91.6 113.8h0M98.8 113.8h0M106.0 113.8h0M113.2 113.8h0M120.5 113.8h0M127.7 113.8h0M134.9 113.8h0M142.1 113.8h0M149.3 113.8h0M156.5 113.8h0M163.7 113.8h0M170.9 113.8h0M55.6 121.1h0M70.0 121.1h0M77.2 121.1h0M84.4 121.1h0M91.6 121.1h0M98.8 121.1h0M106.0 121.1h0M113.2 121.1h0M120.5 121.1h0M127.7 121.1h0M134.9 121.1h0M142.1 121.1h0M149.3 121.1h0M156.5 121.1h0M163.7 121.1h0M170.9 121.1h0M55.6 128.5h0M84.4 128.5h0M91.6 128.5h0M98.8 128.5h0M106.0 128.5h0M113.2 128.5h0M120.5 128.5h0M127.7 128.5h0M134.9 128.5h0M142.1 128.5h0M149.3 128.5h0M156.5 128.5h0M163.7 128.5h0M170.9 128.5h0M55.6 135.8h0M77.2 135.8h0M84.4 135.8h0M91.6 135.8h0M98.8 135.8h0M106.0 135.8h0M113.2 135.8h0M120.5 135.8h0M127.7 135.8h0M134.9 135.8h0M142.1 135.8h0M149.3 135.8h0M156.5 135.8h0M163.7 135.8h0M170.9 135.8h0"/><path stroke="#969696" d="M12.3 11.5h0M19.5 11.5h0M41.1 11.5h0M48.3 11.5h0M55.6 11.5h0M113.2 11.5h0M127.7 11.5h0M134.9 11.5h0M142.1 11.5h0M149.3 11.5h0M156.5 11.5h0M163.7 11.5h0M170.9 11.5h0M12.3 18.8h0M26.7 18.8h0M33.9 18.8h0M41.1 18.8h0M55.6 18.8h0M62.8 18.8h0M70.0 18.8h0M113.2 18.8h0M120.5 18.8h0M127.7 18.8h0M134.9 18.8h0M142.1 18.8h0M149.3 18.8h0M156.5 18.8h0M163.7 18.8h0M170.9 18.8h0M12.3 26.1h0M26.7 26.1h0M113.2 26.1h0M120.5 26.1h0M127.7 26.1h0M134.9 26.1h0M142.1 26.1h0M149.3 26.1h0M156.5 26.1h0M163.7 26.1h0M170.9 26.1h0M113.2 33.4h0M120.5 33.4h0M127.7 33.4h0M134.9 33.4h0M142.1 33.4h0M149.3 33.4h0M156.5 33.4h0M163.7 33.4h0M170.9 33.4h0M12.3 40.7h0M77.2 40.7h0M91.6 40.7h0M106.0 40.7h0M113.2 40.7h0M120.5 40.7h0M127.7 40.7h0M134.9 40.7h0M142.1 40.7h0M149.3 40.7h0M156.5 40.7h0M163.7 40.7h0M170.9 40.7h0M12.3 48.0h0M77.2 48.0h0M84.4 48.0h0M91.6 48.0h0M120.5 48.0h0M127.7 48.0h0M134.9 48.0h0M142.1 48.0h0M149.3 48.0h0M156.5 48.0h0M163.7 48.0h0M170.9 48.0h0M12.3 55.4h0M19.5 55.4h0M62.8 55.4h0M70.0 55.4h0M77.2 55.4h0M12.3 62.7h0M62.8 62.7h0M70.0 62.7h0M77.2 62.7h0M12.3 70.0h0M19.5 70.0h0M33.9 70.0h0M12.3 77.3h0M26.7 77.3h0M33.9 77.3h0M48.3 77.3h0M12.3 84.6h0M19.5 84.6h0M26.7 84.6h0M33.9 84.6h0M41.1 84.6h0M48.3 84.6h0M12.3 91.9h0M19.5 91.9h0M26.7 91.9h0M33.9 91.9h0M48.3 91.9h0M12.3 99.2h0M19.5 99.2h0M33.9 99.2h0M48.3 99.2h0M12.3 106.5h0M19.5 106.5h0M33.9 106.5h0M41.1 106.5h0M48.3 106.5h0M12.3 113.8h0M33.9 113.8h0M41.1 113.8h0M48.3 113.8h0M12.3 121.1h0M48.3 121.1h0M12.3 128.5h0M33.9 128.5h0M48.3 128.5h0M77.2 143.1h0M84.4 143.1h0M91.6 143.1h0M98.8 143.1h0M106.0 143.1h0M113.2 143.1h0M120.5 143.1h0M127.7 143.1h0M134.9 143.1h0M142.1 143.1h0M149.3 143.1h0M156.5 143.1h0M163.7 143.1h0M170.9 143.1h0M55.6 150.4h0M77.2 150.4h0M84.4 150.4h0M91.6 150.4h0M98.8 150.4h0M106.0 150.4h0M113.2 150.4h0M120.5 150.4h0M127.7 150.4h0M134.9 150.4h0M142.1 150.4h0M149.3 150.4h0M156.5 150.4h0M163.7 150.4h0M170.9 150.4h0M77.2 157.7h0M84.4 157.7h0M91.6 157.7h0M98.8 157.7h0M106.0 157.7h0M113.2 157.7h0M120.5 157.7h0M127.7 157.7h0M134.9 157.7h0M142.1 157.7h0M149.3 157.7h0M156.5 157.7h0M163.7 157.7h0M170.9 157.7h0M12.3 165.0h0M62.8 165.0h0M70.0 165.0h0M84.4 165.0h0M91.6 165.0h0M98.8 165.0h0M113.2 165.0h0M120.5 165.0h0M127.7 165.0h0M134.9 165.0h0M142.1 165.0h0M149.3 165.0h0M156.5 165.0h0M163.7 165.0h0M170.9 165.0h0M12.3 172.3h0M19.5 172.3h0M26.7 172.3h0M41.1 172.3h0M55.6 172.3h0M70.0 172.3h0M77.2 172.3h0M84.4 172.3h0M91.6 172.3h0M98.8 172.3h0M106.0 172.3h0M113.2 172.3h0M120.5 172.3h0M127.7 172.3h0M134.9 172.3h0M142.1 172.3h0M149.3 172.3h0M156.5 172.3h0M163.7 172.3h0M170.9 172.3h0"/><path stroke="#aaaaaa" d="M120.5 11.5h0M12.3 33.4h0M33.9 55.4h0M48.3 55.4h0M55.6 55.4h0M106.0 55.4h0M19.5 62.7h0M26.7 62.7h0M33.9 62.7h0M55.6 62.7h0M48.3 70.0h0M19.5 77.3h0M41.1 77.3h0M41.1 91.9h0M26.7 99.2h0M41.1 99.2h0M70.0 99.2h0M84.4 99.2h0M26.7 106.5h0M84.4 106.5h0M26.7 113.8h0M26.7 121.1h0M33.9 121.1h0M41.1 121.1h0M62.8 121.1h0M19.5 128.5h0M26.7 128.5h0M41.1 128.5h0M62.8 128.5h0M70.0 128.5h0M77.2 128.5h0M77.2 165.0h0M106.0 165.0h0"/><path stroke="#bbbbbb" d="M41.1 135.8h0M48.3 135.8h0M70.0 135.8h0M26.7 143.1h0M41.1 143.1h0M48.3 143.1h0M62.8 143.1h0M70.0 143.1h0M12.3 150.4h0M26.7 150.4h0M33.9 150.4h0M41.1 150.4h0M62.8 150.4h0M70.0 150.4h0M12.3 157.7h0M26.7 157.7h0M33.9 157.7h0M41.1 157.7h0M48.3 157.7h0M55.6 157.7h0M62.8 157.7h0M70.0 157.7h0M19.5 165.0h0M26.7 165.0h0M33.9 165.0h0M41.1 165.0h0M48.3 165.0h0M55.6 165.0h0M33.9 172.3h0M48.3 172.3h0M62.8 172.3h0"/><path stroke="#d0d0d0" d="M26.7 11.5h0M33.9 11.5h0M62.8 11.5h0M70.0 11.5h0M77.2 11.5h0M84.4 11.5h0M91.6 11.5h0M98.8 11.5h0M106.0 11.5h0M19.5 18.8h0M48.3 18.8h0M77.2 18.8h0M84.4 18.8h0M91.6 18.8h0M98.8 18.8h0M106.0 18.8h0M19.5 26.1h0M33.9 26.1h0M41.1 26.1h0M48.3 26.1h0M55.6 26.1h0M62.8 26.1h0M70.0 26.1h0M77.2 26.1h0M84.4 26.1h0M91.6 26.1h0M98.8 26.1h0M106.0 26.1h0M26.7 33.4h0M33.9 33.4h0M41.1 33.4h0M48.3 33.4h0M55.6 33.4h0M62.8 33.4h0M70.0 33.4h0M77.2 33.4h0M84.4 33.4h0M91.6 33.4h0M98.8 33.4h0M106.0 33.4h0M19.5 40.7h0M26.7 40.7h0M33.9 40.7h0M48.3 40.7h0M62.8 40.7h0M70.0 40.7h0M84.4 40.7h0M98.8 40.7h0M19.5 48.0h0M26.7 48.0h0M41.1 48.0h0M48.3 48.0h0M55.6 48.0h0M70.0 48.0h0M98.8 48.0h0M106.0 48.0h0M113.2 48.0h0M26.7 55.4h0M41.1 55.4h0M41.1 62.7h0M48.3 62.7h0M26.7 70.0h0M41.1 70.0h0M19.5 113.8h0M19.5 121.1h0M12.3 135.8h0M19.5 135.8h0M26.7 135.8h0M33.9 135.8h0M62.8 135.8h0M12.3 143.1h0M19.5 143.1h0M33.9 143.1h0M55.6 143.1h0M19.5 150.4h0M48.3 150.4h0M19.5 157.7h0"/><path stroke="#e3e3e3" d="M41.1 40.7h0M33.9 48.0h0"/><path stroke="#ffffff" d="M19.5 33.4h0M55.6 40.7h0M62.8 48.0h0"/></g></g><rect x="0.4" y="0.4" width="182.2" height="182.2" fill="none" stroke="#555566" stroke-width="0.8"/><path stroke="#222" stroke-width="0.8" d="M17.1 0v1.6M17.1 183v-1.6M0 17.1h1.6M183 17.1h-1.6M34.2 0v1.6M34.2 183v-1.6M0 34.2h1.6M183 34.2h-1.6M51.3 0v1.6M51.3 183v-1.6M0 51.3h1.6M183 51.3h-1.6M68.4 0v1.6M68.4 183v-1.6M0 68.4h1.6M183 68.4h-1.6M85.5 0v1.6M85.5 183v-1.6M0 85.5h1.6M183 85.5h-1.6M102.6 0v1.6M102.6 183v-1.6M0 102.6h1.6M183 102.6h-1.6M119.7 0v1.6M119.7 183v-1.6M0 119.7h1.6M183 119.7h-1.6M136.8 0v1.6M136.8 183v-1.6M0 136.8h1.6M183 136.8h-1.6M153.9 0v1.6M153.9 183v-1.6M0 153.9h1.6M183 153.9h-1.6M171.0 0v1.6M171.0 183v-1.6M0 171.0h1.6M183 171.0h-1.6"/></svg>
<svg style="position:absolute;left:6px;top:247px" width="183" height="183" viewBox="0 0 183 183"><defs><radialGradient id="rgd"><stop offset="0" stop-color="#ececec"/><stop offset="0.45" stop-color="#c0c0c0"/><stop offset="1" stop-color="#707070" stop-opacity="0"/></radialGradient><radialGradient id="rhd"><stop offset="0" stop-color="#8a8a8a"/><stop offset="1" stop-color="#8a8a8a" stop-opacity="0"/></radialGradient><pattern id="ptd" x="0.93" y="2.96" width="7.25" height="7.16" patternUnits="userSpaceOnUse"><ellipse cx="3.625" cy="3.58" rx="2.7" ry="2.9" fill="url(#rgd)" transform="rotate(0 3.625 3.58)"/><circle cx="0" cy="0" r="2.1" fill="url(#rhd)"/><circle cx="7.25" cy="0" r="2.1" fill="url(#rhd)"/><circle cx="0" cy="7.16" r="2.1" fill="url(#rhd)"/><circle cx="7.25" cy="7.16" r="2.1" fill="url(#rhd)"/></pattern><filter id="fad"><feGaussianBlur stdDeviation="0.45"/></filter></defs><rect width="183" height="183" fill="#161616"/><rect x="0.93" y="2.96" width="181.25" height="179.00" fill="url(#ptd)"/><g filter="url(#fad)"><path fill="#4a55d8" d="M84.2 19.8L81.6 19.9L81.5 18.5L78.6 20.6L81.7 22.5L81.6 21.1L84.2 20.9zM18.9 127.2L16.3 127.3L16.3 125.8L13.4 128.0L16.4 129.9L16.4 128.4L19.0 128.3zM26.8 126.9L25.0 125.0L26.1 124.0L22.5 123.3L23.1 126.8L24.2 125.8L26.0 127.7zM41.1 134.1L38.9 132.7L39.7 131.5L36.1 131.5L37.5 134.8L38.3 133.6L40.5 135.1zM33.9 141.3L31.7 139.9L32.5 138.6L28.9 138.7L30.3 142.0L31.1 140.8L33.2 142.2zM41.1 141.3L39.0 139.8L39.8 138.6L36.2 138.6L37.5 141.9L38.3 140.7L40.5 142.2z"/><path fill="#4074f5" d="M33.4 12.7L30.8 13.1L30.6 11.6L27.9 14.0L31.1 15.6L30.9 14.2L33.5 13.8zM84.1 12.8L81.6 13.5L81.2 12.1L78.8 14.9L82.2 16.0L81.9 14.6L84.4 13.9zM91.4 12.7L88.8 13.1L88.6 11.7L85.9 14.1L89.2 15.7L89.0 14.2L91.5 13.8zM105.9 12.8L103.3 13.3L103.0 11.9L100.5 14.4L103.8 15.8L103.5 14.4L106.1 13.9zM11.6 20.0L9.0 20.6L8.7 19.1L6.3 21.8L9.7 23.1L9.3 21.7L11.8 21.0zM18.9 19.9L16.3 20.2L16.1 18.8L13.4 21.1L16.6 22.8L16.4 21.3L19.0 21.0zM26.2 19.8L23.6 20.0L23.5 18.5L20.6 20.7L23.7 22.6L23.6 21.1L26.2 21.0zM76.9 19.8L74.3 19.9L74.3 18.4L71.4 20.5L74.4 22.5L74.4 21.0L77.0 20.9zM91.4 19.9L88.8 20.4L88.5 18.9L86.0 21.4L89.2 22.9L89.0 21.5L91.6 21.0zM105.9 19.9L103.3 20.1L103.2 18.7L100.4 21.0L103.6 22.7L103.4 21.2L106.0 21.0zM98.5 63.0L96.1 64.0L95.6 62.7L93.6 65.7L97.1 66.4L96.6 65.1L99.0 64.1zM105.8 63.1L103.4 64.1L102.8 62.8L100.9 65.8L104.4 66.5L103.8 65.1L106.2 64.1zM33.7 127.0L31.2 126.1L31.7 124.8L28.2 125.7L30.3 128.6L30.8 127.2L33.3 128.1zM18.9 134.4L16.3 134.5L16.3 133.0L13.4 135.1L16.4 137.1L16.4 135.6L19.0 135.5zM26.2 134.4L23.6 134.5L23.5 133.0L20.6 135.1L23.7 137.0L23.6 135.6L26.2 135.5zM33.3 134.6L30.9 135.6L30.3 134.2L28.3 137.2L31.8 138.0L31.3 136.6L33.7 135.7zM48.4 134.1L46.3 132.5L47.2 131.4L43.6 131.2L44.8 134.6L45.7 133.4L47.7 135.0zM26.0 141.9L23.7 143.1L23.0 141.8L21.4 145.0L24.9 145.4L24.2 144.1L26.5 142.9zM47.8 141.7L45.3 142.6L44.9 141.2L42.7 144.0L46.2 145.0L45.7 143.6L48.2 142.8zM55.0 141.8L52.6 142.8L52.1 141.4L50.1 144.4L53.6 145.2L53.0 143.8L55.5 142.8zM157.1 148.4L154.9 147.0L155.8 145.8L152.2 145.8L153.5 149.1L154.3 147.9L156.5 149.4zM164.8 148.5L163.8 146.1L165.1 145.5L162.1 143.6L161.4 147.1L162.8 146.5L163.8 148.9zM142.4 157.1L143.0 159.6L141.6 160.0L144.3 162.4L145.5 159.0L144.1 159.4L143.5 156.8zM165.3 156.0L166.0 153.5L167.4 153.9L166.2 150.5L163.5 152.8L164.9 153.2L164.2 155.7zM172.4 155.9L172.9 153.3L174.3 153.6L172.8 150.3L170.3 152.9L171.8 153.1L171.3 155.7zM150.4 164.3L152.8 165.3L152.2 166.7L155.7 166.0L153.8 163.0L153.2 164.3L150.8 163.3z"/><path fill="#2aabee" d="M62.3 12.8L59.8 13.4L59.5 11.9L57.0 14.6L60.4 15.9L60.0 14.4L62.6 13.9zM76.9 12.7L74.3 13.1L74.1 11.7L71.4 14.2L74.7 15.7L74.5 14.3L77.0 13.8zM98.6 12.7L96.1 13.0L95.9 11.5L93.1 13.8L96.3 15.5L96.2 14.1L98.8 13.8zM113.2 12.7L110.6 12.9L110.4 11.5L107.6 13.8L110.8 15.5L110.7 14.0L113.3 13.8zM120.4 12.7L117.8 13.0L117.6 11.6L114.9 13.9L118.1 15.6L117.9 14.1L120.5 13.8zM98.6 20.0L96.1 20.6L95.7 19.2L93.3 21.9L96.7 23.1L96.3 21.7L98.9 21.1zM113.1 19.9L110.5 20.2L110.4 18.7L107.7 21.1L110.9 22.8L110.7 21.3L113.3 21.0zM76.9 27.1L74.3 27.5L74.0 26.1L71.5 28.6L74.7 30.1L74.5 28.6L77.1 28.2zM105.9 27.0L103.3 27.2L103.2 25.8L100.4 28.1L103.5 29.8L103.4 28.4L106.0 28.1zM105.8 34.4L103.4 35.5L102.8 34.2L100.9 37.3L104.5 37.9L103.9 36.5L106.2 35.4zM91.3 55.8L88.8 56.5L88.4 55.1L86.1 57.9L89.5 59.0L89.1 57.6L91.6 56.9zM113.0 56.1L110.9 57.6L110.0 56.4L108.8 59.7L112.4 59.7L111.5 58.5L113.6 57.0zM91.4 62.9L88.8 63.3L88.6 61.8L86.0 64.3L89.2 65.8L89.0 64.4L91.5 64.0zM113.0 63.2L110.8 64.7L110.0 63.5L108.7 66.8L112.3 66.8L111.5 65.6L113.6 64.1zM91.2 91.9L89.2 93.6L88.3 92.5L87.3 95.9L90.9 95.6L89.9 94.5L91.9 92.8zM11.7 127.2L9.1 127.3L9.0 125.8L6.1 128.0L9.2 129.9L9.1 128.4L11.7 128.3zM55.0 134.9L53.0 136.6L52.0 135.5L51.1 139.0L54.7 138.6L53.7 137.4L55.7 135.7zM18.9 141.5L16.3 141.6L16.3 140.2L13.4 142.3L16.4 144.2L16.4 142.7L19.0 142.7zM142.1 149.6L141.2 152.0L139.8 151.5L140.6 155.0L143.6 153.0L142.2 152.4L143.1 150.0zM149.2 149.3L147.4 151.1L146.3 150.1L145.7 153.6L149.2 152.9L148.2 151.9L150.0 150.1zM149.9 157.2L151.4 159.4L150.1 160.2L153.5 161.5L153.5 157.9L152.3 158.8L150.8 156.6zM158.1 156.4L160.0 154.5L161.0 155.6L161.7 152.0L158.1 152.7L159.2 153.7L157.3 155.6zM158.0 163.9L160.5 163.2L160.9 164.6L163.2 161.9L159.8 160.7L160.2 162.1L157.7 162.9zM165.4 163.5L167.2 161.7L168.3 162.7L168.9 159.2L165.4 159.9L166.4 160.9L164.6 162.7zM143.0 171.5L145.2 173.0L144.3 174.2L147.9 174.1L146.6 170.8L145.8 172.0L143.6 170.6zM150.5 171.4L153.0 172.0L152.7 173.5L156.0 172.2L153.7 169.5L153.3 171.0L150.8 170.3zM165.3 170.9L167.6 169.6L168.3 170.9L169.9 167.6L166.3 167.4L167.0 168.6L164.8 169.9z"/><path fill="#27d7c3" d="M11.6 12.7L9.0 13.0L8.9 11.6L6.2 14.0L9.4 15.6L9.2 14.2L11.8 13.8zM18.9 12.7L16.3 12.9L16.2 11.4L13.4 13.7L16.5 15.5L16.4 14.0L19.0 13.8zM69.6 12.8L67.1 13.5L66.7 12.1L64.3 14.8L67.7 16.0L67.3 14.6L69.9 13.9zM127.6 12.8L125.1 13.5L124.7 12.1L122.3 14.9L125.8 16.0L125.4 14.6L127.9 13.9zM142.1 12.8L139.5 13.3L139.2 11.9L136.8 14.5L140.1 15.8L139.8 14.4L142.3 13.9zM149.4 12.7L146.8 13.2L146.6 11.7L144.0 14.2L147.2 15.7L147.0 14.3L149.5 13.8zM156.6 12.8L154.0 13.3L153.8 11.9L151.2 14.4L154.6 15.8L154.3 14.4L156.8 13.9zM163.9 12.7L161.3 12.9L161.2 11.5L158.4 13.7L161.5 15.5L161.4 14.0L164.0 13.8zM171.1 12.7L168.5 13.1L168.3 11.7L165.7 14.2L168.9 15.7L168.7 14.3L171.3 13.8zM33.4 19.9L30.8 20.4L30.5 19.0L28.0 21.5L31.3 23.0L31.0 21.5L33.6 21.0zM55.2 19.8L52.6 19.9L52.6 18.4L49.6 20.5L52.6 22.4L52.6 21.0L55.2 20.9zM62.4 19.8L59.8 19.8L59.8 18.4L56.9 20.4L59.9 22.4L59.8 20.9L62.5 20.9zM120.4 19.9L117.8 20.4L117.5 18.9L115.0 21.5L118.2 22.9L118.0 21.5L120.6 21.0zM149.3 19.9L146.8 20.5L146.5 19.0L144.0 21.6L147.3 23.0L147.0 21.6L149.6 21.0zM163.9 19.9L161.3 20.3L161.1 18.8L158.4 21.3L161.7 22.8L161.5 21.4L164.0 21.0zM171.2 19.8L168.6 19.9L168.5 18.5L165.6 20.6L168.7 22.5L168.6 21.0L171.2 20.9zM11.6 27.0L9.0 27.3L8.9 25.9L6.2 28.2L9.3 29.9L9.2 28.4L11.8 28.1zM40.6 27.1L38.0 27.7L37.7 26.3L35.3 28.9L38.6 30.2L38.3 28.8L40.8 28.2zM47.8 27.1L45.3 27.7L45.0 26.3L42.5 28.9L45.9 30.2L45.5 28.8L48.1 28.2zM55.1 27.0L52.5 27.4L52.3 25.9L49.7 28.4L52.9 30.0L52.7 28.5L55.3 28.2zM62.3 27.1L59.8 27.8L59.4 26.4L57.1 29.1L60.5 30.3L60.1 28.9L62.6 28.2zM69.6 27.1L67.0 27.4L66.8 26.0L64.2 28.4L67.4 30.0L67.2 28.5L69.8 28.2zM98.7 27.0L96.1 27.2L95.9 25.8L93.1 28.1L96.3 29.8L96.2 28.4L98.8 28.1zM120.4 27.0L117.8 27.3L117.7 25.8L114.9 28.1L118.0 29.8L117.9 28.4L120.5 28.1zM127.6 27.1L125.0 27.6L124.8 26.1L122.2 28.7L125.5 30.1L125.2 28.7L127.8 28.2zM163.8 27.1L161.3 27.6L161.0 26.2L158.5 28.8L161.8 30.2L161.5 28.7L164.1 28.2zM171.2 27.0L168.6 27.0L168.6 25.5L165.6 27.6L168.6 29.6L168.6 28.1L171.2 28.1zM18.8 34.4L16.4 35.5L15.8 34.2L13.9 37.3L17.5 37.9L16.9 36.5L19.2 35.4zM40.5 34.4L38.2 35.5L37.5 34.2L35.7 37.3L39.2 37.9L38.6 36.5L41.0 35.4zM47.8 34.4L45.4 35.5L44.8 34.2L42.9 37.3L46.5 37.9L45.9 36.5L48.2 35.4zM55.0 34.4L52.7 35.5L52.0 34.2L50.2 37.3L53.7 37.9L53.1 36.5L55.5 35.4zM84.0 34.4L81.7 35.5L81.0 34.2L79.2 37.3L82.7 37.9L82.1 36.5L84.5 35.4zM91.3 34.4L88.9 35.5L88.3 34.2L86.4 37.3L90.0 37.9L89.4 36.5L91.7 35.4zM98.5 34.4L96.2 35.5L95.5 34.2L93.7 37.3L97.2 37.9L96.6 36.5L99.0 35.4zM127.5 34.4L125.2 35.5L124.5 34.2L122.7 37.3L126.2 37.9L125.6 36.5L128.0 35.4zM134.8 34.4L132.4 35.5L131.8 34.2L129.9 37.3L133.5 37.9L132.9 36.5L135.2 35.4zM163.8 34.4L161.4 35.5L160.8 34.2L158.9 37.3L162.5 37.9L161.9 36.5L164.2 35.4zM171.0 34.4L168.7 35.5L168.0 34.2L166.2 37.3L169.7 37.9L169.1 36.5L171.5 35.4zM62.2 41.7L60.1 43.2L59.3 42.0L57.9 45.3L61.5 45.3L60.7 44.1L62.9 42.6zM91.3 41.4L88.8 42.1L88.5 40.6L86.0 43.3L89.4 44.6L89.1 43.1L91.6 42.5zM98.6 41.5L96.1 42.2L95.7 40.7L93.3 43.5L96.7 44.6L96.4 43.2L98.9 42.5zM113.0 41.6L110.6 42.6L110.1 41.2L108.1 44.3L111.6 45.0L111.1 43.6L113.5 42.6zM105.8 48.7L103.3 49.6L102.8 48.2L100.7 51.1L104.2 52.0L103.7 50.6L106.2 49.7zM69.5 56.0L67.3 57.5L66.5 56.3L65.2 59.6L68.8 59.6L68.0 58.4L70.1 57.0zM76.7 56.1L74.7 57.8L73.8 56.7L72.8 60.1L76.4 59.8L75.4 58.7L77.4 57.0zM84.2 55.6L81.6 55.8L81.5 54.4L78.6 56.6L81.7 58.4L81.6 56.9L84.2 56.8zM98.5 55.9L96.2 57.2L95.5 55.9L93.8 59.1L97.4 59.5L96.7 58.2L99.0 56.9zM105.8 55.8L103.3 56.7L102.8 55.3L100.7 58.2L104.2 59.1L103.7 57.8L106.2 56.9zM127.6 55.7L125.0 56.3L124.7 54.9L122.3 57.5L125.6 58.8L125.3 57.4L127.8 56.8zM62.2 63.2L60.1 64.7L59.3 63.4L57.9 66.8L61.5 66.8L60.7 65.6L62.9 64.1zM69.5 63.3L67.5 65.0L66.5 63.8L65.6 67.3L69.1 66.9L68.2 65.8L70.2 64.1zM76.7 63.3L74.7 65.0L73.8 63.8L72.8 67.3L76.4 66.9L75.4 65.8L77.4 64.1zM84.2 62.8L81.6 62.9L81.5 61.5L78.6 63.7L81.7 65.5L81.6 64.1L84.2 63.9zM120.2 63.2L118.1 64.8L117.3 63.6L116.1 67.0L119.7 66.9L118.8 65.7L120.9 64.1zM134.9 62.8L132.3 63.0L132.2 61.6L129.4 63.8L132.5 65.6L132.4 64.1L135.0 63.9zM62.2 70.4L60.2 72.1L59.3 71.0L58.3 74.5L61.9 74.1L60.9 73.0L62.9 71.3zM84.1 70.1L81.5 70.6L81.2 69.2L78.8 71.7L82.1 73.1L81.8 71.7L84.3 71.1zM91.3 70.1L88.8 70.8L88.4 69.4L86.1 72.1L89.5 73.3L89.1 71.9L91.6 71.2zM98.5 70.2L96.1 71.2L95.6 69.9L93.6 72.9L97.1 73.6L96.6 72.2L99.0 71.2zM105.7 70.3L103.5 71.7L102.8 70.5L101.3 73.7L104.9 73.9L104.1 72.7L106.3 71.3zM120.4 69.9L117.8 70.0L117.8 68.6L114.9 70.7L117.9 72.6L117.9 71.1L120.5 71.1zM84.0 77.5L81.9 79.1L81.0 77.9L79.8 81.3L83.4 81.2L82.6 80.0L84.6 78.4zM91.2 77.5L89.0 78.9L88.3 77.7L86.8 81.0L90.4 81.1L89.6 79.8L91.8 78.4zM98.6 77.2L96.0 77.8L95.7 76.4L93.3 79.1L96.7 80.4L96.3 78.9L98.8 78.3zM105.9 77.1L103.3 77.3L103.2 75.9L100.4 78.1L103.5 79.9L103.4 78.5L106.0 78.2zM134.7 77.5L132.5 78.8L131.8 77.6L130.3 80.8L133.9 81.0L133.1 79.8L135.3 78.4zM142.1 77.2L139.5 77.7L139.3 76.3L136.7 78.9L140.1 80.3L139.8 78.8L142.3 78.3zM84.0 84.6L81.7 85.8L81.0 84.5L79.4 87.7L82.9 88.1L82.2 86.8L84.5 85.6zM91.3 84.4L88.8 84.9L88.5 83.5L86.0 86.1L89.3 87.4L89.0 86.0L91.6 85.5zM98.5 84.7L96.4 86.3L95.5 85.2L94.4 88.6L98.0 88.4L97.1 87.2L99.2 85.6zM76.7 91.8L74.6 93.3L73.8 92.1L72.4 95.4L76.0 95.4L75.2 94.2L77.4 92.8zM84.0 91.9L82.0 93.6L81.0 92.5L80.1 95.9L83.6 95.6L82.7 94.5L84.7 92.8zM98.5 91.9L96.5 93.6L95.5 92.5L94.6 95.9L98.1 95.6L97.2 94.5L99.2 92.8zM84.0 99.1L82.0 100.8L81.0 99.6L80.1 103.1L83.6 102.7L82.7 101.6L84.7 99.9zM91.2 99.1L89.2 100.8L88.3 99.6L87.3 103.1L90.9 102.7L89.9 101.6L91.9 99.9zM98.5 99.0L96.3 100.5L95.5 99.2L94.2 102.6L97.8 102.6L97.0 101.4L99.1 99.9zM11.5 120.6L9.7 122.5L8.6 121.5L8.0 125.0L11.5 124.3L10.5 123.3L12.3 121.4zM18.7 120.6L16.9 122.5L15.9 121.5L15.3 125.0L18.8 124.3L17.7 123.3L19.5 121.4zM77.3 119.8L75.2 118.4L75.9 117.2L72.4 117.3L73.8 120.6L74.5 119.3L76.7 120.7zM11.7 134.4L9.1 134.5L9.0 133.0L6.1 135.1L9.2 137.1L9.1 135.6L11.7 135.5zM171.0 135.0L169.2 136.8L168.1 135.8L167.5 139.4L171.0 138.6L170.0 137.6L171.8 135.7zM62.4 141.6L59.8 141.9L59.6 140.5L56.9 142.8L60.1 144.5L59.9 143.0L62.5 142.7zM164.5 141.3L162.5 139.5L163.5 138.4L159.9 138.0L160.8 141.5L161.8 140.4L163.7 142.1zM33.4 148.7L30.8 148.8L30.8 147.3L27.9 149.5L30.9 151.4L30.9 149.9L33.5 149.8zM40.5 149.2L38.5 150.9L37.5 149.8L36.6 153.2L40.1 152.9L39.2 151.7L41.2 150.1zM172.2 148.5L171.6 146.0L173.0 145.6L170.3 143.2L169.1 146.6L170.5 146.3L171.1 148.8zM18.7 163.6L16.9 165.5L15.9 164.5L15.3 168.0L18.8 167.3L17.7 166.3L19.5 164.4zM135.3 164.4L136.6 166.7L135.3 167.3L138.5 169.0L138.9 165.4L137.6 166.1L136.3 163.8zM142.8 164.4L144.5 166.3L143.4 167.3L146.9 168.2L146.4 164.6L145.3 165.6L143.6 163.6zM172.6 163.3L173.9 161.1L175.2 161.8L174.9 158.2L171.7 159.8L172.9 160.5L171.6 162.8zM18.7 170.7L16.7 172.4L15.8 171.2L14.8 174.7L18.4 174.3L17.4 173.2L19.4 171.5zM33.2 170.7L31.2 172.4L30.3 171.2L29.3 174.7L32.9 174.3L31.9 173.2L33.9 171.5zM171.0 170.8L169.4 172.9L168.2 172.0L168.0 175.6L171.4 174.5L170.3 173.6L171.9 171.5z"/><path fill="#45f58c" d="M26.1 12.8L23.5 13.3L23.3 11.8L20.7 14.4L24.1 15.8L23.8 14.4L26.3 13.9zM69.7 19.9L67.1 20.1L66.9 18.6L64.1 20.9L67.3 22.7L67.2 21.2L69.8 21.0zM127.6 19.9L125.0 20.5L124.7 19.1L122.3 21.7L125.6 23.0L125.3 21.6L127.8 21.0zM134.9 19.9L132.3 20.3L132.0 18.9L129.5 21.4L132.7 22.9L132.5 21.4L135.1 21.0zM156.6 19.9L154.0 20.4L153.8 19.0L151.2 21.6L154.6 23.0L154.3 21.5L156.8 21.0zM18.9 27.1L16.3 27.6L16.0 26.2L13.5 28.7L16.8 30.1L16.5 28.7L19.1 28.2zM113.1 27.1L110.5 27.5L110.3 26.1L107.7 28.6L111.0 30.1L110.7 28.6L113.3 28.2zM142.1 27.1L139.5 27.6L139.3 26.1L136.7 28.7L140.0 30.1L139.8 28.7L142.3 28.2zM11.5 34.4L9.2 35.5L8.5 34.2L6.7 37.3L10.2 37.9L9.6 36.5L12.0 35.4zM26.0 34.4L23.7 35.5L23.0 34.2L21.2 37.3L24.7 37.9L24.1 36.5L26.5 35.4zM33.3 34.4L30.9 35.5L30.3 34.2L28.4 37.3L32.0 37.9L31.4 36.5L33.7 35.4zM62.3 34.4L59.9 35.5L59.3 34.2L57.4 37.3L61.0 37.9L60.4 36.5L62.7 35.4zM113.0 34.4L110.7 35.5L110.0 34.2L108.2 37.3L111.7 37.9L111.1 36.5L113.5 35.4zM120.3 34.4L117.9 35.5L117.3 34.2L115.4 37.3L119.0 37.9L118.4 36.5L120.7 35.4zM142.0 34.4L139.7 35.5L139.0 34.2L137.2 37.3L140.7 37.9L140.1 36.5L142.5 35.4zM149.3 34.4L146.9 35.5L146.3 34.2L144.4 37.3L148.0 37.9L147.4 36.5L149.7 35.4zM156.5 34.4L154.2 35.5L153.5 34.2L151.7 37.3L155.2 37.9L154.6 36.5L157.0 35.4zM69.5 41.9L67.7 43.8L66.6 42.7L66.0 46.3L69.5 45.6L68.5 44.5L70.3 42.7zM84.0 41.7L81.8 43.2L81.0 41.9L79.7 45.3L83.3 45.3L82.4 44.1L84.6 42.6zM105.8 41.4L103.3 42.0L103.0 40.5L100.5 43.1L103.8 44.5L103.5 43.1L106.1 42.5zM120.3 41.5L117.8 42.3L117.4 40.9L115.2 43.7L118.6 44.7L118.2 43.3L120.6 42.6zM127.5 41.8L125.5 43.5L124.5 42.4L123.6 45.9L127.2 45.5L126.2 44.4L128.2 42.7zM134.7 41.8L132.8 43.5L131.8 42.4L130.9 45.9L134.4 45.5L133.5 44.4L135.5 42.7zM149.2 41.8L147.2 43.3L146.3 42.2L145.1 45.6L148.7 45.4L147.8 44.2L149.9 42.6zM156.5 41.8L154.5 43.5L153.5 42.3L152.5 45.8L156.1 45.4L155.2 44.3L157.2 42.7zM163.7 41.8L161.7 43.4L160.8 42.2L159.7 45.7L163.3 45.4L162.4 44.3L164.4 42.6zM171.0 41.5L168.6 42.4L168.1 41.0L166.0 43.9L169.5 44.8L169.0 43.4L171.4 42.6zM62.2 49.0L60.4 50.9L59.4 49.9L58.8 53.4L62.3 52.7L61.2 51.7L63.0 49.8zM76.7 49.0L74.7 50.6L73.8 49.5L72.8 53.0L76.4 52.6L75.4 51.5L77.4 49.8zM91.4 48.5L88.8 48.6L88.8 47.1L85.9 49.2L88.9 51.1L88.9 49.7L91.5 49.6zM98.6 48.6L96.1 49.2L95.7 47.8L93.3 50.5L96.7 51.7L96.3 50.3L98.9 49.7zM113.1 48.6L110.5 49.2L110.2 47.7L107.8 50.4L111.1 51.7L110.8 50.3L113.3 49.7zM134.9 48.5L132.3 48.8L132.1 47.4L129.4 49.8L132.6 51.4L132.4 49.9L135.0 49.6zM149.3 48.7L146.9 49.7L146.3 48.4L144.4 51.4L147.9 52.1L147.3 50.8L149.7 49.7zM163.9 48.6L161.3 49.1L161.0 47.6L158.5 50.2L161.8 51.6L161.5 50.2L164.1 49.7zM171.1 48.6L168.6 49.3L168.2 47.9L165.8 50.6L169.2 51.8L168.8 50.4L171.4 49.7zM62.2 56.0L60.1 57.5L59.3 56.3L57.9 59.6L61.5 59.6L60.7 58.4L62.9 57.0zM120.2 56.1L118.1 57.6L117.3 56.4L116.0 59.8L119.6 59.7L118.8 58.5L120.9 57.0zM134.9 55.7L132.3 56.1L132.1 54.7L129.5 57.2L132.7 58.7L132.5 57.2L135.0 56.8zM142.2 55.6L139.6 55.7L139.5 54.2L136.6 56.3L139.6 58.3L139.6 56.8L142.2 56.7zM127.5 63.3L125.5 65.0L124.5 63.9L123.6 67.4L127.2 66.9L126.2 65.8L128.2 64.1zM142.1 62.9L139.6 63.7L139.2 62.2L136.9 65.0L140.3 66.1L139.9 64.7L142.4 64.0zM149.2 63.2L147.2 64.8L146.3 63.7L145.2 67.1L148.7 66.9L147.9 65.7L149.9 64.1zM156.5 63.1L154.2 64.2L153.5 62.9L151.7 66.0L155.3 66.5L154.7 65.2L157.0 64.1zM163.7 63.3L161.8 65.0L160.8 64.0L159.9 67.4L163.5 67.0L162.5 65.9L164.5 64.1zM171.0 63.2L168.8 64.7L168.0 63.5L166.7 66.8L170.3 66.8L169.5 65.6L171.6 64.1zM69.5 70.4L67.3 71.8L66.5 70.6L65.2 73.9L68.8 74.0L68.0 72.7L70.1 71.3zM76.7 70.4L74.7 72.1L73.8 71.0L72.8 74.5L76.4 74.1L75.4 73.0L77.4 71.3zM113.1 70.1L110.6 70.8L110.2 69.4L107.8 72.1L111.2 73.3L110.9 71.9L113.4 71.2zM127.5 70.2L125.2 71.3L124.5 70.0L122.7 73.1L126.2 73.7L125.6 72.3L128.0 71.2zM142.0 70.5L140.0 72.2L139.1 71.1L138.2 74.6L141.7 74.1L140.8 73.0L142.7 71.3zM149.2 70.4L147.2 72.1L146.3 71.0L145.3 74.5L148.9 74.1L148.0 73.0L150.0 71.3zM163.8 70.2L161.3 71.1L160.8 69.7L158.8 72.6L162.2 73.5L161.7 72.1L164.2 71.2zM171.1 70.0L168.5 70.3L168.4 68.9L165.7 71.2L168.9 72.9L168.7 71.4L171.3 71.1zM76.7 77.7L74.9 79.6L73.9 78.5L73.3 82.1L76.8 81.4L75.7 80.3L77.5 78.5zM120.2 77.6L118.3 79.3L117.3 78.2L116.4 81.7L120.0 81.3L119.0 80.2L121.0 78.5zM127.6 77.1L125.0 77.4L124.9 76.0L122.2 78.3L125.3 80.0L125.2 78.5L127.8 78.3zM156.6 77.2L154.0 77.8L153.7 76.4L151.3 79.1L154.6 80.4L154.3 78.9L156.8 78.3zM163.9 77.2L161.3 77.5L161.1 76.0L158.4 78.4L161.6 80.0L161.4 78.6L164.0 78.3zM171.1 77.2L168.5 77.8L168.2 76.3L165.8 78.9L169.1 80.3L168.8 78.9L171.3 78.3zM120.4 84.3L117.8 84.5L117.7 83.1L114.9 85.4L118.0 87.1L117.9 85.7L120.5 85.4zM127.5 84.7L125.4 86.3L124.5 85.1L123.4 88.5L127.0 88.4L126.1 87.2L128.2 85.6zM142.1 84.3L139.5 84.7L139.3 83.3L136.7 85.8L139.9 87.3L139.7 85.8L142.3 85.4zM149.4 84.3L146.8 84.3L146.8 82.8L143.9 84.9L146.9 86.9L146.9 85.4L149.5 85.4zM156.5 84.6L154.2 85.8L153.5 84.5L151.8 87.7L155.4 88.1L154.7 86.8L157.0 85.6zM105.7 92.0L103.9 93.9L102.9 92.9L102.3 96.4L105.8 95.7L104.7 94.7L106.5 92.8zM120.2 92.0L118.4 93.9L117.4 92.9L116.8 96.4L120.3 95.7L119.2 94.7L121.0 92.8zM134.7 91.9L132.7 93.6L131.8 92.5L130.8 95.9L134.4 95.6L133.4 94.5L135.4 92.8zM76.7 99.1L74.7 100.8L73.8 99.6L72.8 103.1L76.4 102.7L75.4 101.6L77.4 99.9zM105.7 99.0L103.6 100.5L102.8 99.2L101.4 102.6L105.0 102.6L104.2 101.4L106.4 99.9zM84.0 106.2L82.0 107.9L81.0 106.8L80.1 110.3L83.6 109.9L82.7 108.8L84.7 107.1zM98.5 113.3L96.3 114.8L95.5 113.6L94.2 116.9L97.8 116.9L97.0 115.7L99.1 114.2zM26.0 120.5L23.8 121.9L23.0 120.7L21.7 124.1L25.3 124.1L24.5 122.9L26.6 121.4zM69.5 120.6L67.7 122.5L66.6 121.5L66.0 125.0L69.5 124.3L68.5 123.3L70.3 121.4zM84.0 120.5L81.8 121.9L81.0 120.7L79.7 124.1L83.3 124.1L82.5 122.9L84.6 121.4zM91.2 120.6L89.4 122.5L88.4 121.5L87.8 125.0L91.3 124.3L90.2 123.3L92.0 121.4zM127.5 120.6L125.5 122.2L124.5 121.1L123.6 124.6L127.1 124.2L126.2 123.1L128.2 121.4zM47.7 127.6L45.6 129.1L44.8 127.9L43.4 131.2L47.0 131.2L46.2 130.0L48.4 128.6zM62.3 127.5L59.9 128.4L59.3 127.1L57.3 130.1L60.8 130.8L60.3 129.5L62.7 128.5zM76.7 127.8L74.9 129.7L73.9 128.7L73.3 132.2L76.8 131.5L75.7 130.5L77.5 128.6zM91.2 127.7L89.2 129.4L88.3 128.3L87.3 131.7L90.9 131.4L89.9 130.3L91.9 128.6zM62.3 134.5L59.8 135.3L59.4 133.9L57.1 136.6L60.5 137.8L60.1 136.3L62.6 135.6zM84.0 134.9L82.0 136.6L81.0 135.4L80.1 138.9L83.6 138.5L82.7 137.4L84.7 135.7zM91.2 134.9L89.2 136.6L88.3 135.4L87.3 138.9L90.9 138.5L89.9 137.4L91.9 135.7zM105.7 135.0L103.9 136.8L102.9 135.8L102.3 139.4L105.8 138.6L104.7 137.6L106.5 135.7zM156.8 134.3L154.2 133.9L154.4 132.4L151.2 134.0L153.8 136.4L154.0 135.0L156.6 135.4zM76.7 142.1L74.9 144.0L73.9 143.0L73.3 146.5L76.8 145.8L75.7 144.8L77.5 142.9zM105.7 142.1L103.9 144.0L102.9 143.0L102.3 146.5L105.8 145.8L104.7 144.8L106.5 142.9zM149.3 141.8L146.8 142.7L146.3 141.3L144.3 144.2L147.8 145.1L147.2 143.7L149.7 142.8zM156.9 141.4L154.3 140.8L154.7 139.3L151.3 140.6L153.7 143.3L154.1 141.8L156.6 142.5zM105.7 149.2L103.7 150.9L102.8 149.8L101.8 153.2L105.4 152.9L104.4 151.7L106.4 150.1zM40.5 156.4L38.7 158.3L37.6 157.3L37.0 160.8L40.5 160.1L39.5 159.1L41.3 157.2zM11.5 163.5L9.5 165.2L8.5 164.1L7.6 167.5L11.1 167.2L10.2 166.1L12.2 164.4zM33.2 163.5L31.2 165.2L30.3 164.1L29.3 167.5L32.9 167.2L31.9 166.1L33.9 164.4zM55.0 163.5L53.0 165.2L52.0 164.1L51.1 167.5L54.6 167.2L53.7 166.1L55.7 164.4zM84.0 163.4L81.8 164.9L81.0 163.7L79.7 167.0L83.3 167.0L82.5 165.8L84.6 164.4zM91.2 163.5L89.2 165.2L88.3 164.1L87.3 167.5L90.9 167.2L89.9 166.1L91.9 164.4zM105.7 163.4L103.6 164.9L102.8 163.7L101.4 167.0L105.0 167.0L104.2 165.8L106.4 164.4zM113.0 163.5L111.0 165.2L110.0 164.1L109.1 167.5L112.6 167.2L111.7 166.1L113.7 164.4zM120.2 163.7L118.6 165.7L117.5 164.8L117.2 168.4L120.7 167.3L119.5 166.4L121.1 164.4zM11.5 170.6L9.3 172.1L8.5 170.8L7.2 174.2L10.8 174.2L10.0 173.0L12.1 171.5zM26.0 170.7L24.0 172.4L23.0 171.2L22.1 174.7L25.6 174.3L24.7 173.2L26.7 171.5zM55.0 170.7L53.0 172.4L52.0 171.2L51.1 174.7L54.6 174.3L53.7 173.2L55.7 171.5zM62.2 170.8L60.4 172.6L59.4 171.6L58.8 175.2L62.3 174.4L61.2 173.4L63.0 171.5zM98.5 170.7L96.5 172.4L95.5 171.2L94.6 174.7L98.1 174.3L97.2 173.2L99.2 171.5zM113.0 170.7L111.0 172.4L110.0 171.2L109.1 174.7L112.6 174.3L111.7 173.2L113.7 171.5zM120.2 170.8L118.6 172.9L117.5 172.0L117.2 175.6L120.7 174.5L119.5 173.6L121.1 171.5zM134.7 170.8L133.1 172.9L132.0 172.0L131.7 175.6L135.2 174.5L134.0 173.6L135.6 171.5zM158.0 171.2L160.6 170.7L160.8 172.2L163.4 169.7L160.1 168.2L160.4 169.6L157.8 170.1z"/><path fill="#7ffd5d" d="M40.7 12.7L38.1 12.7L38.0 11.3L35.1 13.4L38.2 15.3L38.1 13.9L40.7 13.8zM55.1 12.8L52.6 13.4L52.2 12.0L49.8 14.7L53.2 15.9L52.8 14.5L55.4 13.9zM134.9 12.7L132.3 13.0L132.1 11.6L129.4 14.0L132.6 15.6L132.4 14.1L135.0 13.8zM40.6 19.9L38.0 20.5L37.7 19.1L35.3 21.7L38.6 23.0L38.3 21.6L40.8 21.0zM142.1 19.9L139.5 20.3L139.3 18.8L136.7 21.3L139.9 22.8L139.7 21.4L142.3 21.0zM84.2 27.0L81.6 27.2L81.4 25.8L78.6 28.0L81.8 29.8L81.6 28.3L84.2 28.1zM91.4 27.0L88.8 27.2L88.7 25.7L85.9 28.0L89.0 29.8L88.9 28.3L91.5 28.1zM134.9 27.0L132.3 27.3L132.1 25.9L129.4 28.3L132.6 29.9L132.4 28.5L135.0 28.1zM149.4 27.1L146.8 27.5L146.6 26.0L143.9 28.5L147.2 30.0L147.0 28.6L149.5 28.2zM69.5 34.4L67.2 35.5L66.5 34.2L64.7 37.3L68.2 37.9L67.6 36.5L70.0 35.4zM11.5 41.7L9.3 43.2L8.5 42.0L7.2 45.3L10.8 45.3L10.0 44.1L12.1 42.6zM55.0 41.9L53.2 43.8L52.1 42.7L51.5 46.3L55.0 45.6L54.0 44.5L55.8 42.7zM76.7 41.7L74.6 43.2L73.8 42.0L72.4 45.3L76.0 45.3L75.2 44.1L77.4 42.6zM142.0 41.7L139.9 43.2L139.0 42.0L137.8 45.4L141.3 45.3L140.5 44.1L142.6 42.6zM69.5 48.9L67.3 50.3L66.5 49.1L65.2 52.5L68.8 52.5L68.0 51.3L70.1 49.8zM84.0 48.9L81.9 50.4L81.0 49.2L79.8 52.6L83.4 52.5L82.5 51.3L84.6 49.8zM120.2 48.9L118.0 50.2L117.3 49.0L115.8 52.3L119.4 52.4L118.6 51.2L120.8 49.8zM127.7 48.5L125.1 48.6L125.0 47.2L122.1 49.3L125.2 51.2L125.1 49.7L127.7 49.6zM156.6 48.5L154.0 48.8L153.9 47.4L151.2 49.7L154.4 51.4L154.2 49.9L156.8 49.6zM55.0 56.2L53.2 58.1L52.1 57.1L51.5 60.6L55.0 59.9L54.0 58.9L55.8 57.0zM171.0 55.9L168.6 56.9L168.1 55.5L166.1 58.5L169.6 59.3L169.0 57.9L171.5 56.9zM55.0 63.4L53.2 65.2L52.1 64.2L51.5 67.8L55.0 67.0L54.0 66.0L55.8 64.1zM134.7 70.5L132.8 72.2L131.8 71.1L130.9 74.5L134.5 74.1L133.5 73.0L135.5 71.3zM156.7 69.9L154.1 70.0L154.0 68.6L151.1 70.7L154.2 72.6L154.1 71.1L156.7 71.1zM62.2 77.5L60.1 79.0L59.3 77.8L57.9 81.1L61.5 81.1L60.7 79.9L62.9 78.4zM69.5 77.7L67.7 79.6L66.6 78.5L66.0 82.1L69.5 81.4L68.5 80.3L70.3 78.5zM113.0 77.4L110.7 78.7L110.0 77.4L108.4 80.6L112.0 81.0L111.3 79.7L113.5 78.4zM149.2 77.6L147.2 79.1L146.3 78.0L145.1 81.4L148.7 81.2L147.8 80.0L149.9 78.4zM11.5 84.8L9.5 86.4L8.5 85.3L7.6 88.8L11.1 88.4L10.2 87.3L12.2 85.6zM113.0 84.6L110.7 85.7L110.0 84.4L108.2 87.5L111.8 88.0L111.1 86.7L113.5 85.6zM134.9 84.3L132.3 84.5L132.2 83.1L129.4 85.4L132.5 87.1L132.4 85.7L135.0 85.4zM163.7 84.7L161.6 86.2L160.8 85.0L159.5 88.3L163.1 88.3L162.2 87.1L164.4 85.6zM171.0 84.7L168.8 86.1L168.0 84.9L166.6 88.2L170.2 88.3L169.4 87.0L171.6 85.6zM69.5 91.8L67.3 93.3L66.5 92.1L65.2 95.4L68.8 95.4L68.0 94.2L70.1 92.8zM113.0 91.9L111.0 93.6L110.0 92.5L109.1 95.9L112.6 95.6L111.7 94.5L113.7 92.8zM127.5 91.9L125.5 93.6L124.5 92.5L123.6 95.9L127.1 95.6L126.2 94.5L128.2 92.8zM142.0 91.8L139.8 93.3L139.0 92.1L137.7 95.4L141.3 95.4L140.5 94.2L142.6 92.8zM149.2 91.8L147.1 93.3L146.3 92.1L144.9 95.4L148.5 95.4L147.7 94.2L149.9 92.8zM156.5 92.0L154.7 93.9L153.6 92.9L153.0 96.4L156.5 95.7L155.5 94.7L157.3 92.8zM11.5 99.1L9.5 100.8L8.5 99.6L7.6 103.1L11.1 102.7L10.2 101.6L12.2 99.9zM113.0 99.0L110.8 100.5L110.0 99.2L108.7 102.6L112.3 102.6L111.5 101.4L113.6 99.9zM18.7 106.4L17.1 108.5L16.0 107.6L15.7 111.1L19.2 110.1L18.0 109.2L19.6 107.1zM98.5 106.3L96.7 108.2L95.6 107.2L95.0 110.7L98.5 110.0L97.5 109.0L99.3 107.1zM105.7 106.3L103.9 108.2L102.9 107.2L102.3 110.7L105.8 110.0L104.7 109.0L106.5 107.1zM113.0 106.3L111.2 108.2L110.1 107.2L109.5 110.7L113.0 110.0L112.0 109.0L113.8 107.1zM11.5 113.5L9.7 115.4L8.6 114.3L8.0 117.9L11.5 117.2L10.5 116.1L12.3 114.3zM18.7 113.5L16.9 115.4L15.9 114.3L15.3 117.9L18.8 117.2L17.7 116.1L19.5 114.3zM69.5 113.6L67.9 115.6L66.7 114.7L66.5 118.3L69.9 117.2L68.8 116.3L70.4 114.3zM76.7 113.4L74.7 115.1L73.8 114.0L72.8 117.4L76.4 117.1L75.4 115.9L77.4 114.3zM84.0 113.3L81.8 114.8L81.0 113.6L79.7 116.9L83.3 116.9L82.5 115.7L84.6 114.2zM91.2 113.5L89.4 115.4L88.4 114.3L87.8 117.9L91.3 117.2L90.2 116.1L92.0 114.3zM113.0 113.3L110.8 114.8L110.0 113.6L108.7 116.9L112.3 116.9L111.5 115.7L113.6 114.2zM120.2 113.4L118.2 115.1L117.3 114.0L116.3 117.4L119.9 117.1L118.9 115.9L120.9 114.3zM33.2 120.6L31.2 122.2L30.3 121.1L29.3 124.6L32.9 124.2L31.9 123.1L33.9 121.4zM40.5 120.6L38.5 122.2L37.5 121.1L36.6 124.6L40.1 124.2L39.2 123.1L41.2 121.4zM98.5 120.5L96.3 121.9L95.5 120.7L94.2 124.1L97.8 124.1L97.0 122.9L99.1 121.4zM105.7 120.6L103.9 122.5L102.9 121.5L102.3 125.0L105.8 124.3L104.7 123.3L106.5 121.4zM113.0 120.6L111.0 122.2L110.0 121.1L109.1 124.6L112.6 124.2L111.7 123.1L113.7 121.4zM120.2 120.5L118.1 121.9L117.3 120.7L115.9 124.1L119.5 124.1L118.7 122.9L120.9 121.4zM149.2 120.6L147.4 122.5L146.4 121.5L145.8 125.0L149.3 124.3L148.2 123.3L150.0 121.4zM171.0 120.5L168.8 121.9L168.0 120.7L166.7 124.1L170.3 124.1L169.5 122.9L171.6 121.4zM40.5 127.7L38.5 129.4L37.5 128.3L36.6 131.7L40.1 131.4L39.2 130.3L41.2 128.6zM55.0 127.7L53.0 129.4L52.0 128.3L51.1 131.7L54.6 131.4L53.7 130.3L55.7 128.6zM69.5 127.5L67.1 128.4L66.6 127.1L64.6 130.1L68.1 130.8L67.5 129.5L70.0 128.5zM84.0 127.6L81.8 129.1L81.0 127.9L79.7 131.2L83.3 131.2L82.5 130.0L84.6 128.6zM98.5 127.7L96.5 129.4L95.5 128.3L94.6 131.7L98.1 131.4L97.2 130.3L99.2 128.6zM113.0 127.7L111.0 129.4L110.0 128.3L109.1 131.7L112.6 131.4L111.7 130.3L113.7 128.6zM134.7 127.7L132.7 129.4L131.8 128.3L130.8 131.7L134.4 131.4L133.4 130.3L135.4 128.6zM156.5 127.8L154.7 129.7L153.6 128.7L153.0 132.2L156.5 131.5L155.5 130.5L157.3 128.6zM163.7 127.7L161.7 129.4L160.8 128.3L159.8 131.7L163.4 131.4L162.4 130.3L164.4 128.6zM171.0 127.7L169.0 129.4L168.0 128.3L167.1 131.7L170.6 131.4L169.7 130.3L171.7 128.6zM69.6 134.5L67.1 135.3L66.7 133.9L64.4 136.6L67.8 137.8L67.4 136.3L69.9 135.6zM76.7 135.0L74.9 136.8L73.9 135.8L73.3 139.4L76.8 138.6L75.7 137.6L77.5 135.7zM98.5 134.9L96.5 136.6L95.5 135.4L94.6 138.9L98.1 138.5L97.2 137.4L99.2 135.7zM142.0 134.8L139.8 136.1L139.0 134.9L137.5 138.2L141.1 138.3L140.4 137.1L142.6 135.7zM149.3 134.5L146.8 135.1L146.5 133.7L144.0 136.3L147.4 137.6L147.0 136.2L149.6 135.6zM164.3 134.1L162.0 132.9L162.7 131.6L159.1 132.0L160.8 135.2L161.5 133.9L163.8 135.1zM11.7 141.5L9.1 141.6L9.0 140.2L6.1 142.3L9.2 144.2L9.1 142.7L11.7 142.7zM69.5 142.1L67.7 144.0L66.6 143.0L66.0 146.5L69.5 145.8L68.5 144.8L70.3 142.9zM91.2 142.1L89.4 144.0L88.4 143.0L87.8 146.5L91.3 145.8L90.2 144.8L92.0 142.9zM98.5 142.0L96.3 143.4L95.5 142.2L94.2 145.5L97.8 145.6L97.0 144.3L99.1 142.9zM113.0 142.0L111.0 143.7L110.0 142.6L109.1 146.1L112.6 145.7L111.7 144.6L113.7 142.9zM120.2 142.0L118.2 143.7L117.3 142.6L116.3 146.1L119.9 145.7L118.9 144.6L120.9 142.9zM127.5 142.0L125.5 143.7L124.5 142.6L123.6 146.1L127.1 145.7L126.2 144.6L128.2 142.9zM142.0 142.1L140.1 144.0L139.1 142.9L138.4 146.4L142.0 145.8L140.9 144.7L142.8 142.9zM171.9 141.3L170.5 139.1L171.7 138.3L168.4 136.9L168.3 140.5L169.6 139.7L171.0 141.9zM11.7 148.7L9.1 148.8L9.0 147.3L6.1 149.5L9.2 151.4L9.1 149.9L11.7 149.8zM26.2 148.7L23.6 148.8L23.5 147.3L20.6 149.5L23.7 151.4L23.6 149.9L26.2 149.8zM47.7 149.1L45.6 150.6L44.8 149.4L43.4 152.7L47.0 152.7L46.2 151.5L48.4 150.0zM62.2 149.3L60.4 151.2L59.4 150.1L58.8 153.7L62.3 153.0L61.2 151.9L63.0 150.1zM69.5 149.3L67.7 151.2L66.6 150.1L66.0 153.7L69.5 153.0L68.5 151.9L70.3 150.1zM84.0 149.1L81.8 150.6L81.0 149.4L79.7 152.7L83.3 152.7L82.5 151.5L84.6 150.0zM91.2 149.2L89.2 150.9L88.3 149.8L87.3 153.2L90.9 152.9L89.9 151.7L91.9 150.1zM98.5 149.2L96.5 150.9L95.5 149.8L94.6 153.2L98.1 152.9L97.2 151.7L99.2 150.1zM113.0 149.2L111.0 150.9L110.0 149.8L109.1 153.2L112.6 152.9L111.7 151.7L113.7 150.1zM120.2 149.2L118.2 150.9L117.3 149.8L116.3 153.2L119.9 152.9L118.9 151.7L120.9 150.1zM127.5 149.1L125.3 150.6L124.5 149.4L123.2 152.7L126.8 152.7L126.0 151.5L128.1 150.0zM11.5 156.4L9.5 158.0L8.5 156.9L7.6 160.4L11.1 160.0L10.2 158.9L12.2 157.2zM33.2 156.4L31.4 158.3L30.4 157.3L29.8 160.8L33.3 160.1L32.2 159.1L34.0 157.2zM55.0 156.4L53.0 158.0L52.0 156.9L51.1 160.4L54.6 160.0L53.7 158.9L55.7 157.2zM62.2 156.4L60.2 158.0L59.3 156.9L58.3 160.4L61.9 160.0L60.9 158.9L62.9 157.2zM76.7 156.4L74.7 158.0L73.8 156.9L72.8 160.4L76.4 160.0L75.4 158.9L77.4 157.2zM84.0 156.3L81.8 157.7L81.0 156.5L79.7 159.9L83.3 159.9L82.5 158.7L84.6 157.2zM91.2 156.3L89.1 157.7L88.3 156.5L86.9 159.9L90.5 159.9L89.7 158.7L91.9 157.2zM105.7 156.4L103.7 158.0L102.8 156.9L101.8 160.4L105.4 160.0L104.4 158.9L106.4 157.2zM113.0 156.4L111.0 158.0L110.0 156.9L109.1 160.4L112.6 160.0L111.7 158.9L113.7 157.2zM120.2 156.3L118.1 157.7L117.3 156.5L115.9 159.9L119.5 159.9L118.7 158.7L120.9 157.2zM135.1 157.1L135.5 159.7L134.0 159.9L136.5 162.5L138.0 159.3L136.6 159.5L136.2 156.9zM40.5 163.5L38.5 165.2L37.5 164.1L36.6 167.5L40.1 167.2L39.2 166.1L41.2 164.4zM47.7 163.5L45.7 165.2L44.8 164.1L43.8 167.5L47.4 167.2L46.4 166.1L48.4 164.4zM62.2 163.5L60.2 165.2L59.3 164.1L58.3 167.5L61.9 167.2L60.9 166.1L62.9 164.4zM76.7 163.6L74.9 165.5L73.9 164.5L73.3 168.0L76.8 167.3L75.7 166.3L77.5 164.4zM98.5 163.6L96.7 165.5L95.6 164.5L95.0 168.0L98.5 167.3L97.5 166.3L99.3 164.4zM40.5 170.6L38.3 172.1L37.5 170.8L36.2 174.2L39.8 174.2L39.0 173.0L41.1 171.5zM69.5 170.8L67.7 172.6L66.6 171.6L66.0 175.2L69.5 174.4L68.5 173.4L70.3 171.5zM76.7 170.7L74.7 172.4L73.8 171.2L72.8 174.7L76.4 174.3L75.4 173.2L77.4 171.5zM84.0 170.8L82.2 172.6L81.1 171.6L80.5 175.2L84.0 174.4L83.0 173.4L84.8 171.5zM91.2 170.8L89.4 172.6L88.4 171.6L87.8 175.2L91.3 174.4L90.2 173.4L92.0 171.5zM105.7 170.6L103.6 172.1L102.8 170.8L101.4 174.2L105.0 174.2L104.2 173.0L106.4 171.5zM127.5 170.8L125.9 172.9L124.7 172.0L124.5 175.6L127.9 174.5L126.8 173.6L128.4 171.5z"/><path fill="#aaf647" d="M47.9 12.7L45.3 12.7L45.3 11.3L42.4 13.4L45.4 15.3L45.4 13.9L48.0 13.8zM47.9 19.9L45.3 20.4L45.0 18.9L42.5 21.4L45.7 22.9L45.5 21.5L48.1 21.0zM26.1 27.1L23.5 27.6L23.2 26.2L20.7 28.8L24.1 30.1L23.8 28.7L26.3 28.2zM33.4 27.1L30.8 27.5L30.6 26.0L27.9 28.5L31.2 30.0L31.0 28.6L33.5 28.2zM156.6 27.1L154.1 27.8L153.7 26.4L151.3 29.1L154.7 30.3L154.3 28.9L156.9 28.2zM76.8 34.4L74.4 35.5L73.8 34.2L71.9 37.3L75.5 37.9L74.9 36.5L77.2 35.4zM18.7 41.7L16.6 43.2L15.8 42.0L14.4 45.3L18.0 45.3L17.2 44.1L19.4 42.6zM33.2 41.9L31.4 43.8L30.4 42.7L29.8 46.3L33.3 45.6L32.2 44.5L34.0 42.7zM40.5 41.8L38.5 43.5L37.5 42.4L36.6 45.8L40.1 45.5L39.2 44.3L41.2 42.7zM55.0 49.0L53.0 50.6L52.0 49.5L51.1 53.0L54.6 52.6L53.7 51.5L55.7 49.8zM142.1 48.6L139.5 49.1L139.2 47.7L136.8 50.3L140.1 51.7L139.8 50.2L142.3 49.7zM11.5 56.1L9.5 57.8L8.5 56.7L7.6 60.1L11.1 59.8L10.2 58.7L12.2 57.0zM18.7 56.2L16.9 58.1L15.9 57.1L15.3 60.6L18.8 59.9L17.7 58.9L19.5 57.0zM40.5 56.0L38.3 57.5L37.5 56.3L36.2 59.6L39.8 59.6L39.0 58.4L41.1 57.0zM47.7 56.1L45.7 57.8L44.8 56.7L43.8 60.1L47.4 59.8L46.4 58.7L48.4 57.0zM149.4 55.7L146.8 56.0L146.6 54.5L143.9 56.9L147.1 58.5L146.9 57.1L149.5 56.8zM156.5 55.8L154.1 56.7L153.6 55.4L151.5 58.3L155.0 59.2L154.5 57.8L156.9 56.9zM163.7 56.1L161.7 57.8L160.8 56.7L159.8 60.1L163.4 59.8L162.5 58.7L164.4 57.0zM40.5 63.4L38.7 65.2L37.6 64.2L37.0 67.8L40.5 67.0L39.5 66.0L41.3 64.1zM47.7 63.3L45.7 65.0L44.8 63.8L43.8 67.3L47.4 66.9L46.4 65.8L48.4 64.1zM11.5 77.6L9.5 79.3L8.5 78.2L7.6 81.6L11.1 81.3L10.2 80.1L12.2 78.5zM26.0 77.5L23.8 79.0L23.0 77.8L21.7 81.1L25.3 81.1L24.5 79.9L26.6 78.4zM55.0 77.6L53.0 79.3L52.0 78.2L51.1 81.6L54.6 81.3L53.7 80.1L55.7 78.5zM76.7 84.8L74.7 86.4L73.8 85.3L72.8 88.8L76.4 88.4L75.4 87.3L77.4 85.6zM105.8 84.6L103.5 85.9L102.8 84.7L101.2 87.9L104.8 88.2L104.1 86.9L106.3 85.6zM11.5 91.9L9.5 93.6L8.5 92.5L7.6 95.9L11.1 95.6L10.2 94.5L12.2 92.8zM47.7 91.9L45.7 93.6L44.8 92.5L43.8 95.9L47.4 95.6L46.4 94.5L48.4 92.8zM55.0 91.9L53.0 93.6L52.0 92.5L51.1 95.9L54.6 95.6L53.7 94.5L55.7 92.8zM62.2 92.0L60.4 93.9L59.4 92.9L58.8 96.4L62.3 95.7L61.2 94.7L63.0 92.8zM171.0 91.8L168.8 93.3L168.0 92.1L166.7 95.4L170.3 95.4L169.5 94.2L171.6 92.8zM18.7 99.2L17.1 101.3L16.0 100.4L15.7 104.0L19.2 102.9L18.0 102.0L19.6 99.9zM26.0 99.1L24.0 100.8L23.0 99.6L22.1 103.1L25.6 102.7L24.7 101.6L26.7 99.9zM55.0 99.2L53.2 101.0L52.1 100.0L51.5 103.6L55.0 102.8L54.0 101.8L55.8 99.9zM69.5 99.2L67.9 101.3L66.7 100.4L66.5 104.0L69.9 102.9L68.8 102.0L70.4 99.9zM134.7 99.0L132.6 100.5L131.8 99.2L130.4 102.6L134.0 102.6L133.2 101.4L135.4 99.9zM142.0 99.2L140.2 101.0L139.1 100.0L138.5 103.6L142.0 102.8L141.0 101.8L142.8 99.9zM149.2 99.0L147.1 100.5L146.3 99.2L144.9 102.6L148.5 102.6L147.7 101.4L149.9 99.9zM156.5 99.1L154.5 100.8L153.5 99.6L152.6 103.1L156.1 102.7L155.2 101.6L157.2 99.9zM11.5 106.3L9.7 108.2L8.6 107.2L8.0 110.7L11.5 110.0L10.5 109.0L12.3 107.1zM26.0 106.3L24.2 108.2L23.1 107.2L22.5 110.7L26.0 110.0L25.0 109.0L26.8 107.1zM76.7 106.3L74.9 108.2L73.9 107.2L73.3 110.7L76.8 110.0L75.7 109.0L77.5 107.1zM91.2 106.2L89.2 107.9L88.3 106.8L87.3 110.3L90.9 109.9L89.9 108.8L91.9 107.1zM163.7 106.2L161.6 107.6L160.8 106.4L159.4 109.7L163.0 109.8L162.2 108.5L164.4 107.1zM171.0 106.2L169.0 107.9L168.0 106.8L167.1 110.3L170.6 109.9L169.7 108.8L171.7 107.1zM26.0 113.4L24.0 115.1L23.0 114.0L22.1 117.4L25.6 117.1L24.7 115.9L26.7 114.3zM55.0 113.6L53.4 115.6L52.2 114.7L52.0 118.3L55.4 117.2L54.3 116.3L55.9 114.3zM62.2 113.4L60.2 115.1L59.3 114.0L58.3 117.4L61.9 117.1L60.9 115.9L62.9 114.3zM105.7 113.5L103.9 115.4L102.9 114.3L102.3 117.9L105.8 117.2L104.7 116.1L106.5 114.3zM127.5 113.3L125.3 114.8L124.5 113.6L123.2 116.9L126.8 116.9L126.0 115.7L128.1 114.2zM149.2 113.4L147.2 115.1L146.3 114.0L145.3 117.4L148.9 117.1L147.9 115.9L149.9 114.3zM171.0 113.3L168.8 114.8L168.0 113.6L166.7 116.9L170.3 116.9L169.5 115.7L171.6 114.2zM47.7 120.6L45.7 122.2L44.8 121.1L43.8 124.6L47.4 124.2L46.4 123.1L48.4 121.4zM62.2 120.6L60.2 122.2L59.3 121.1L58.3 124.6L61.9 124.2L60.9 123.1L62.9 121.4zM142.0 120.6L140.0 122.2L139.0 121.1L138.1 124.6L141.6 124.2L140.7 123.1L142.7 121.4zM120.2 127.8L118.4 129.7L117.4 128.7L116.8 132.2L120.3 131.5L119.2 130.5L121.0 128.6zM127.5 127.7L125.5 129.4L124.5 128.3L123.6 131.7L127.1 131.4L126.2 130.3L128.2 128.6zM142.0 127.8L140.2 129.7L139.1 128.7L138.5 132.2L142.0 131.5L141.0 130.5L142.8 128.6zM149.2 127.7L147.2 129.4L146.3 128.3L145.3 131.7L148.9 131.4L147.9 130.3L149.9 128.6zM120.2 135.0L118.4 136.8L117.4 135.8L116.8 139.4L120.3 138.6L119.2 137.6L121.0 135.7zM134.7 134.8L132.6 136.3L131.8 135.0L130.4 138.4L134.0 138.4L133.2 137.2L135.4 135.7zM134.8 142.3L133.4 144.5L132.1 143.8L132.3 147.3L135.6 145.9L134.3 145.1L135.7 142.9zM18.9 148.7L16.3 148.8L16.3 147.3L13.4 149.5L16.4 151.4L16.4 149.9L19.0 149.8zM55.0 149.2L53.0 150.9L52.0 149.8L51.1 153.2L54.6 152.9L53.7 151.7L55.7 150.1zM76.7 149.1L74.6 150.6L73.8 149.4L72.4 152.7L76.0 152.7L75.2 151.5L77.4 150.0zM134.9 149.7L134.3 152.2L132.9 151.9L134.2 155.3L136.8 152.8L135.4 152.5L136.0 150.0zM26.0 156.4L24.2 158.3L23.1 157.3L22.5 160.8L26.0 160.1L25.0 159.1L26.8 157.2zM47.7 156.3L45.6 157.7L44.8 156.5L43.4 159.9L47.0 159.9L46.2 158.7L48.4 157.2zM26.0 163.5L24.0 165.2L23.0 164.1L22.1 167.5L25.6 167.2L24.7 166.1L26.7 164.4zM69.5 163.5L67.5 165.2L66.5 164.1L65.6 167.5L69.1 167.2L68.2 166.1L70.2 164.4z"/><path fill="#d3e436" d="M26.0 41.7L23.8 43.2L23.0 42.0L21.7 45.3L25.3 45.3L24.5 44.1L26.6 42.6zM47.7 41.7L45.6 43.2L44.8 42.0L43.4 45.3L47.0 45.3L46.2 44.1L48.4 42.6zM18.7 49.0L16.7 50.6L15.8 49.5L14.8 53.0L18.4 52.6L17.4 51.5L19.4 49.8zM47.7 48.9L45.6 50.3L44.8 49.1L43.4 52.5L47.0 52.5L46.2 51.3L48.4 49.8zM33.2 63.4L31.4 65.2L30.4 64.2L29.8 67.8L33.3 67.0L32.2 66.0L34.0 64.1zM18.7 77.6L16.7 79.3L15.8 78.2L14.8 81.6L18.4 81.3L17.4 80.1L19.4 78.5zM33.2 77.7L31.4 79.6L30.4 78.5L29.8 82.1L33.3 81.4L32.2 80.3L34.0 78.5zM55.0 84.8L53.0 86.4L52.0 85.3L51.1 88.8L54.6 88.4L53.7 87.3L55.7 85.6zM18.7 91.8L16.6 93.3L15.8 92.1L14.4 95.4L18.0 95.4L17.2 94.2L19.4 92.8zM33.2 91.9L31.2 93.6L30.3 92.5L29.3 95.9L32.9 95.6L31.9 94.5L33.9 92.8zM163.7 91.9L161.7 93.6L160.8 92.5L159.8 95.9L163.4 95.6L162.4 94.5L164.4 92.8zM120.2 99.0L118.1 100.5L117.3 99.2L115.9 102.6L119.5 102.6L118.7 101.4L120.9 99.9zM33.2 106.2L31.2 107.9L30.3 106.8L29.3 110.3L32.9 109.9L31.9 108.8L33.9 107.1zM134.7 106.2L132.7 107.9L131.8 106.8L130.8 110.3L134.4 109.9L133.4 108.8L135.4 107.1zM33.2 113.5L31.4 115.4L30.4 114.3L29.8 117.9L33.3 117.2L32.2 116.1L34.0 114.3zM105.7 127.7L103.7 129.4L102.8 128.3L101.8 131.7L105.4 131.4L104.4 130.3L106.4 128.6zM127.5 135.0L125.7 136.8L124.6 135.8L124.0 139.4L127.5 138.6L126.5 137.6L128.3 135.7zM84.0 142.1L82.2 144.0L81.1 143.0L80.5 146.5L84.0 145.8L83.0 144.8L84.8 142.9zM18.7 156.4L16.7 158.0L15.8 156.9L14.8 160.4L18.4 160.0L17.4 158.9L19.4 157.2zM69.5 156.3L67.3 157.7L66.5 156.5L65.2 159.9L68.8 159.9L68.0 158.7L70.1 157.2zM98.5 156.4L96.7 158.3L95.6 157.3L95.0 160.8L98.5 160.1L97.5 159.1L99.3 157.2zM127.5 156.3L125.3 157.7L124.5 156.5L123.2 159.9L126.8 159.9L126.0 158.7L128.1 157.2zM127.5 163.7L125.9 165.7L124.7 164.8L124.5 168.4L127.9 167.3L126.8 166.4L128.4 164.4z"/><path fill="#eed02d" d="M26.0 48.9L23.8 50.3L23.0 49.1L21.7 52.5L25.3 52.5L24.5 51.3L26.6 49.8zM40.5 49.0L38.5 50.6L37.5 49.5L36.6 53.0L40.1 52.6L39.2 51.5L41.2 49.8zM33.2 56.0L31.1 57.5L30.3 56.3L28.9 59.6L32.5 59.6L31.7 58.4L33.9 57.0zM11.5 63.4L9.7 65.2L8.6 64.2L8.0 67.8L11.5 67.0L10.5 66.0L12.3 64.1zM40.5 70.5L38.7 72.4L37.6 71.4L37.0 74.9L40.5 74.2L39.5 73.2L41.3 71.3zM40.5 77.7L38.7 79.6L37.6 78.5L37.0 82.1L40.5 81.4L39.5 80.3L41.3 78.5zM62.2 84.8L60.2 86.4L59.3 85.3L58.3 88.8L61.9 88.4L60.9 87.3L62.9 85.6zM69.5 84.8L67.5 86.4L66.5 85.3L65.6 88.8L69.1 88.4L68.2 87.3L70.2 85.6zM26.0 92.0L24.2 93.9L23.1 92.9L22.5 96.4L26.0 95.7L25.0 94.7L26.8 92.8zM47.7 99.2L46.1 101.3L45.0 100.4L44.7 104.0L48.2 102.9L47.0 102.0L48.6 99.9zM62.2 99.1L60.2 100.8L59.3 99.6L58.3 103.1L61.9 102.7L60.9 101.6L62.9 99.9zM47.7 113.4L45.7 115.1L44.8 114.0L43.8 117.4L47.4 117.1L46.4 115.9L48.4 114.3zM113.0 134.8L110.8 136.3L110.0 135.0L108.7 138.4L112.3 138.4L111.5 137.2L113.6 135.7z"/><path fill="#ffb626" d="M33.2 70.4L31.1 71.8L30.3 70.6L28.9 73.9L32.5 74.0L31.7 72.7L33.9 71.3zM55.0 70.4L52.8 71.8L52.0 70.6L50.7 73.9L54.3 74.0L53.5 72.7L55.6 71.3zM40.5 92.0L38.7 93.9L37.6 92.9L37.0 96.4L40.5 95.7L39.5 94.7L41.3 92.8zM142.0 113.5L140.2 115.4L139.1 114.3L138.5 117.9L142.0 117.2L141.0 116.1L142.8 114.3zM47.7 170.7L45.7 172.4L44.8 171.2L43.8 174.7L47.4 174.3L46.4 173.2L48.4 171.5z"/><path fill="#ff9520" d="M127.5 99.0L125.3 100.5L124.5 99.2L123.2 102.6L126.8 102.6L126.0 101.4L128.1 99.9zM163.7 113.4L161.7 115.1L160.8 114.0L159.8 117.4L163.4 117.1L162.4 115.9L164.4 114.3zM55.0 120.5L52.8 121.9L52.0 120.7L50.7 124.1L54.3 124.1L53.5 122.9L55.6 121.4zM134.7 120.6L132.9 122.5L131.9 121.5L131.3 125.0L134.8 124.3L133.7 123.3L135.5 121.4zM163.7 120.5L161.6 121.9L160.8 120.7L159.4 124.1L163.0 124.1L162.2 122.9L164.4 121.4z"/><path fill="#ff721b" d="M11.5 48.9L9.3 50.3L8.5 49.1L7.2 52.5L10.8 52.5L10.0 51.3L12.1 49.8zM33.2 48.9L31.1 50.3L30.3 49.1L28.9 52.5L32.5 52.5L31.7 51.3L33.9 49.8zM26.0 56.1L24.0 57.8L23.0 56.7L22.1 60.1L25.6 59.8L24.7 58.7L26.7 57.0zM18.7 63.4L16.9 65.2L15.9 64.2L15.3 67.8L18.8 67.0L17.7 66.0L19.5 64.1zM26.0 63.3L24.0 65.0L23.0 63.8L22.1 67.3L25.6 66.9L24.7 65.8L26.7 64.1zM11.5 70.4L9.3 71.8L8.5 70.6L7.2 73.9L10.8 74.0L10.0 72.7L12.1 71.3zM18.7 70.4L16.7 72.1L15.8 71.0L14.8 74.5L18.4 74.1L17.4 73.0L19.4 71.3zM26.0 70.4L24.0 72.1L23.0 71.0L22.1 74.5L25.6 74.1L24.7 73.0L26.7 71.3zM47.7 70.5L45.9 72.4L44.9 71.4L44.3 74.9L47.8 74.2L46.7 73.2L48.5 71.3zM47.7 77.6L45.7 79.3L44.8 78.2L43.8 81.6L47.4 81.3L46.4 80.1L48.4 78.5zM18.7 84.7L16.6 86.1L15.8 84.9L14.4 88.3L18.0 88.3L17.2 87.1L19.4 85.6zM33.2 84.7L31.1 86.1L30.3 84.9L28.9 88.3L32.5 88.3L31.7 87.1L33.9 85.6zM40.5 84.8L38.7 86.7L37.6 85.7L37.0 89.2L40.5 88.5L39.5 87.5L41.3 85.6zM47.7 84.8L45.7 86.4L44.8 85.3L43.8 88.8L47.4 88.4L46.4 87.3L48.4 85.6zM33.2 99.2L31.4 101.0L30.4 100.0L29.8 103.6L33.3 102.8L32.2 101.8L34.0 99.9zM163.7 99.0L161.6 100.5L160.8 99.2L159.4 102.6L163.0 102.6L162.2 101.4L164.4 99.9zM171.0 99.0L168.8 100.5L168.0 99.2L166.7 102.6L170.3 102.6L169.5 101.4L171.6 99.9zM40.5 106.4L38.9 108.5L37.7 107.6L37.5 111.1L40.9 110.1L39.8 109.2L41.4 107.1zM62.2 106.3L60.4 108.2L59.4 107.2L58.8 110.7L62.3 110.0L61.2 109.0L63.0 107.1zM69.5 106.4L67.9 108.5L66.7 107.6L66.5 111.1L69.9 110.1L68.8 109.2L70.4 107.1zM120.2 106.2L118.2 107.9L117.3 106.8L116.3 110.3L119.9 109.9L118.9 108.8L120.9 107.1zM127.5 106.2L125.3 107.6L124.5 106.4L123.2 109.7L126.8 109.8L126.0 108.5L128.1 107.1zM142.0 106.2L140.0 107.9L139.0 106.8L138.1 110.3L141.6 109.9L140.7 108.8L142.7 107.1zM149.2 106.2L147.2 107.9L146.3 106.8L145.3 110.3L148.9 109.9L147.9 108.8L149.9 107.1zM156.5 106.3L154.7 108.2L153.6 107.2L153.0 110.7L156.5 110.0L155.5 109.0L157.3 107.1zM40.5 113.4L38.5 115.1L37.5 114.0L36.6 117.4L40.1 117.1L39.2 115.9L41.2 114.3zM134.7 113.4L132.7 115.1L131.8 114.0L130.8 117.4L134.4 117.1L133.4 115.9L135.4 114.3zM156.5 113.4L154.5 115.1L153.5 114.0L152.6 117.4L156.1 117.1L155.2 115.9L157.2 114.3z"/><path fill="#f25916" d="M26.0 84.8L24.2 86.7L23.1 85.7L22.5 89.2L26.0 88.5L25.0 87.5L26.8 85.6zM55.0 106.3L53.2 108.2L52.1 107.2L51.5 110.7L55.0 110.0L54.0 109.0L55.8 107.1zM156.5 120.6L154.5 122.2L153.5 121.1L152.6 124.6L156.1 124.2L155.2 123.1L157.2 121.4z"/><path fill="#be250a" d="M40.5 99.1L38.5 100.8L37.5 99.6L36.6 103.1L40.1 102.7L39.2 101.6L41.2 99.9zM47.7 106.2L45.7 107.9L44.8 106.8L43.8 110.3L47.4 109.9L46.4 108.8L48.4 107.1z"/></g><rect x="0.3" y="0.3" width="182.4" height="182.4" fill="none" stroke="#444" stroke-width="0.6"/></svg>
<svg style="position:absolute;left:232px;top:247px" width="183" height="183" viewBox="0 0 183 183"><defs><filter id="fhe" filterUnits="userSpaceOnUse" x="0" y="0" width="183" height="183" color-interpolation-filters="sRGB"><feGaussianBlur stdDeviation="2.1"/><feComponentTransfer><feFuncR type="table" tableValues="0.243 0.263 0.278 0.294 0.306 0.314 0.31 0.31 0.306 0.306 0.306 0.306 0.306 0.318 0.329 0.345 0.361 0.376 0.404 0.471 0.533 0.643 0.761 0.855 0.929 0.945 0.953 0.961 0.961 0.961 0.961 0.961 0.961 0.961 0.961 0.961 0.961 0.961 0.961 0.961 0.961 0.961 0.961 0.961 0.961 0.961 0.961 0.961 0.961"/><feFuncG type="table" tableValues="0.125 0.145 0.161 0.22 0.282 0.345 0.404 0.463 0.522 0.58 0.631 0.686 0.741 0.773 0.8 0.827 0.843 0.855 0.863 0.867 0.871 0.839 0.8 0.745 0.682 0.698 0.722 0.749 0.812 0.878 0.949 0.961 0.961 0.961 0.961 0.961 0.961 0.961 0.961 0.961 0.961 0.961 0.961 0.961 0.961 0.961 0.961 0.961 0.961"/><feFuncB type="table" tableValues="0.784 0.867 0.953 0.969 0.98 0.988 0.984 0.98 0.976 0.961 0.933 0.91 0.882 0.824 0.757 0.694 0.627 0.561 0.498 0.424 0.349 0.29 0.235 0.224 0.235 0.231 0.224 0.216 0.204 0.192 0.18 0.176 0.176 0.176 0.176 0.176 0.176 0.176 0.176 0.176 0.176 0.176 0.176 0.176 0.176 0.176 0.176 0.176 0.176"/><feFuncA type="linear" slope="0" intercept="1"/></feComponentTransfer></filter></defs><g filter="url(#fhe)"><rect width="183" height="183" fill="#000"/><g stroke-linecap="round" stroke-width="5.6" fill="none"><path stroke="#2a2a2a" d="M84.2 20.1h0M19.2 126.1h0M26.4 126.1h0M40.9 133.2h0M33.7 140.3h0M40.9 140.3h0"/><path stroke="#393939" d="M33.7 13.0h0M84.2 13.0h0M91.4 13.0h0M105.9 13.0h0M12.0 20.1h0M19.2 20.1h0M26.4 20.1h0M77.0 20.1h0M91.4 20.1h0M105.9 20.1h0M98.6 62.5h0M105.9 62.5h0M33.7 126.1h0M19.2 133.2h0M26.4 133.2h0M33.7 133.2h0M48.1 133.2h0M26.4 140.3h0M48.1 140.3h0M55.3 140.3h0M156.4 147.3h0M163.6 147.3h0M142.0 154.4h0M163.6 154.4h0M170.8 154.4h0M149.2 161.5h0"/><path stroke="#474747" d="M62.5 13.0h0M77.0 13.0h0M98.6 13.0h0M113.1 13.0h0M120.3 13.0h0M98.6 20.1h0M113.1 20.1h0M77.0 27.1h0M105.9 27.1h0M105.9 34.2h0M91.4 55.4h0M113.1 55.4h0M91.4 62.5h0M113.1 62.5h0M91.4 90.8h0M12.0 126.1h0M55.3 133.2h0M19.2 140.3h0M142.0 147.3h0M149.2 147.3h0M149.2 154.4h0M156.4 154.4h0M156.4 161.5h0M163.6 161.5h0M142.0 168.5h0M149.2 168.5h0M163.6 168.5h0"/><path stroke="#555555" d="M12.0 13.0h0M19.2 13.0h0M69.8 13.0h0M127.5 13.0h0M142.0 13.0h0M149.2 13.0h0M156.4 13.0h0M163.6 13.0h0M170.8 13.0h0M33.7 20.1h0M55.3 20.1h0M62.5 20.1h0M120.3 20.1h0M149.2 20.1h0M163.6 20.1h0M170.8 20.1h0M12.0 27.1h0M40.9 27.1h0M48.1 27.1h0M55.3 27.1h0M62.5 27.1h0M69.8 27.1h0M98.6 27.1h0M120.3 27.1h0M127.5 27.1h0M163.6 27.1h0M170.8 27.1h0M19.2 34.2h0M40.9 34.2h0M48.1 34.2h0M55.3 34.2h0M84.2 34.2h0M91.4 34.2h0M98.6 34.2h0M127.5 34.2h0M134.7 34.2h0M163.6 34.2h0M170.8 34.2h0M62.5 41.3h0M91.4 41.3h0M98.6 41.3h0M113.1 41.3h0M105.9 48.4h0M69.8 55.4h0M77.0 55.4h0M84.2 55.4h0M98.6 55.4h0M105.9 55.4h0M127.5 55.4h0M62.5 62.5h0M69.8 62.5h0M77.0 62.5h0M84.2 62.5h0M120.3 62.5h0M134.7 62.5h0M62.5 69.6h0M84.2 69.6h0M91.4 69.6h0M98.6 69.6h0M105.9 69.6h0M120.3 69.6h0M84.2 76.6h0M91.4 76.6h0M98.6 76.6h0M105.9 76.6h0M134.7 76.6h0M142.0 76.6h0M84.2 83.7h0M91.4 83.7h0M98.6 83.7h0M77.0 90.8h0M84.2 90.8h0M98.6 90.8h0M84.2 97.8h0M91.4 97.8h0M98.6 97.8h0M12.0 119.1h0M19.2 119.1h0M77.0 119.1h0M12.0 133.2h0M170.8 133.2h0M62.5 140.3h0M163.6 140.3h0M33.7 147.3h0M40.9 147.3h0M170.8 147.3h0M19.2 161.5h0M134.7 161.5h0M142.0 161.5h0M170.8 161.5h0M19.2 168.5h0M33.7 168.5h0M170.8 168.5h0"/><path stroke="#636363" d="M26.4 13.0h0M69.8 20.1h0M127.5 20.1h0M134.7 20.1h0M156.4 20.1h0M19.2 27.1h0M113.1 27.1h0M142.0 27.1h0M12.0 34.2h0M26.4 34.2h0M33.7 34.2h0M62.5 34.2h0M113.1 34.2h0M120.3 34.2h0M142.0 34.2h0M149.2 34.2h0M156.4 34.2h0M69.8 41.3h0M84.2 41.3h0M105.9 41.3h0M120.3 41.3h0M127.5 41.3h0M134.7 41.3h0M149.2 41.3h0M156.4 41.3h0M163.6 41.3h0M170.8 41.3h0M62.5 48.4h0M77.0 48.4h0M91.4 48.4h0M98.6 48.4h0M113.1 48.4h0M134.7 48.4h0M149.2 48.4h0M163.6 48.4h0M170.8 48.4h0M62.5 55.4h0M120.3 55.4h0M134.7 55.4h0M142.0 55.4h0M127.5 62.5h0M142.0 62.5h0M149.2 62.5h0M156.4 62.5h0M163.6 62.5h0M170.8 62.5h0M69.8 69.6h0M77.0 69.6h0M113.1 69.6h0M127.5 69.6h0M142.0 69.6h0M149.2 69.6h0M163.6 69.6h0M170.8 69.6h0M77.0 76.6h0M120.3 76.6h0M127.5 76.6h0M156.4 76.6h0M163.6 76.6h0M170.8 76.6h0M120.3 83.7h0M127.5 83.7h0M142.0 83.7h0M149.2 83.7h0M156.4 83.7h0M105.9 90.8h0M120.3 90.8h0M134.7 90.8h0M77.0 97.8h0M105.9 97.8h0M84.2 104.9h0M98.6 112.0h0M26.4 119.1h0M69.8 119.1h0M84.2 119.1h0M91.4 119.1h0M127.5 119.1h0M48.1 126.1h0M62.5 126.1h0M77.0 126.1h0M91.4 126.1h0M62.5 133.2h0M84.2 133.2h0M91.4 133.2h0M105.9 133.2h0M156.4 133.2h0M77.0 140.3h0M105.9 140.3h0M149.2 140.3h0M156.4 140.3h0M105.9 147.3h0M40.9 154.4h0M12.0 161.5h0M33.7 161.5h0M55.3 161.5h0M84.2 161.5h0M91.4 161.5h0M105.9 161.5h0M113.1 161.5h0M120.3 161.5h0M12.0 168.5h0M26.4 168.5h0M55.3 168.5h0M62.5 168.5h0M98.6 168.5h0M113.1 168.5h0M120.3 168.5h0M134.7 168.5h0M156.4 168.5h0"/><path stroke="#717171" d="M40.9 13.0h0M55.3 13.0h0M134.7 13.0h0M40.9 20.1h0M142.0 20.1h0M84.2 27.1h0M91.4 27.1h0M134.7 27.1h0M149.2 27.1h0M69.8 34.2h0M12.0 41.3h0M55.3 41.3h0M77.0 41.3h0M142.0 41.3h0M69.8 48.4h0M84.2 48.4h0M120.3 48.4h0M127.5 48.4h0M156.4 48.4h0M55.3 55.4h0M170.8 55.4h0M55.3 62.5h0M134.7 69.6h0M156.4 69.6h0M62.5 76.6h0M69.8 76.6h0M113.1 76.6h0M149.2 76.6h0M12.0 83.7h0M113.1 83.7h0M134.7 83.7h0M163.6 83.7h0M170.8 83.7h0M69.8 90.8h0M113.1 90.8h0M127.5 90.8h0M142.0 90.8h0M149.2 90.8h0M156.4 90.8h0M12.0 97.8h0M113.1 97.8h0M19.2 104.9h0M98.6 104.9h0M105.9 104.9h0M113.1 104.9h0M12.0 112.0h0M19.2 112.0h0M69.8 112.0h0M77.0 112.0h0M84.2 112.0h0M91.4 112.0h0M113.1 112.0h0M120.3 112.0h0M33.7 119.1h0M40.9 119.1h0M98.6 119.1h0M105.9 119.1h0M113.1 119.1h0M120.3 119.1h0M149.2 119.1h0M170.8 119.1h0M40.9 126.1h0M55.3 126.1h0M69.8 126.1h0M84.2 126.1h0M98.6 126.1h0M113.1 126.1h0M134.7 126.1h0M156.4 126.1h0M163.6 126.1h0M170.8 126.1h0M69.8 133.2h0M77.0 133.2h0M98.6 133.2h0M142.0 133.2h0M149.2 133.2h0M163.6 133.2h0M12.0 140.3h0M69.8 140.3h0M91.4 140.3h0M98.6 140.3h0M113.1 140.3h0M120.3 140.3h0M127.5 140.3h0M142.0 140.3h0M170.8 140.3h0M12.0 147.3h0M26.4 147.3h0M48.1 147.3h0M62.5 147.3h0M69.8 147.3h0M84.2 147.3h0M91.4 147.3h0M98.6 147.3h0M113.1 147.3h0M120.3 147.3h0M127.5 147.3h0M12.0 154.4h0M33.7 154.4h0M55.3 154.4h0M62.5 154.4h0M77.0 154.4h0M84.2 154.4h0M91.4 154.4h0M105.9 154.4h0M113.1 154.4h0M120.3 154.4h0M134.7 154.4h0M40.9 161.5h0M48.1 161.5h0M62.5 161.5h0M77.0 161.5h0M98.6 161.5h0M40.9 168.5h0M69.8 168.5h0M77.0 168.5h0M84.2 168.5h0M91.4 168.5h0M105.9 168.5h0M127.5 168.5h0"/><path stroke="#808080" d="M48.1 13.0h0M48.1 20.1h0M26.4 27.1h0M33.7 27.1h0M156.4 27.1h0M77.0 34.2h0M19.2 41.3h0M33.7 41.3h0M40.9 41.3h0M55.3 48.4h0M142.0 48.4h0M12.0 55.4h0M19.2 55.4h0M40.9 55.4h0M48.1 55.4h0M149.2 55.4h0M156.4 55.4h0M163.6 55.4h0M40.9 62.5h0M48.1 62.5h0M12.0 76.6h0M26.4 76.6h0M55.3 76.6h0M77.0 83.7h0M105.9 83.7h0M12.0 90.8h0M48.1 90.8h0M55.3 90.8h0M62.5 90.8h0M170.8 90.8h0M19.2 97.8h0M26.4 97.8h0M55.3 97.8h0M69.8 97.8h0M134.7 97.8h0M142.0 97.8h0M149.2 97.8h0M156.4 97.8h0M12.0 104.9h0M26.4 104.9h0M77.0 104.9h0M91.4 104.9h0M163.6 104.9h0M170.8 104.9h0M26.4 112.0h0M55.3 112.0h0M62.5 112.0h0M105.9 112.0h0M127.5 112.0h0M149.2 112.0h0M170.8 112.0h0M48.1 119.1h0M62.5 119.1h0M142.0 119.1h0M120.3 126.1h0M127.5 126.1h0M142.0 126.1h0M149.2 126.1h0M120.3 133.2h0M134.7 133.2h0M134.7 140.3h0M19.2 147.3h0M55.3 147.3h0M77.0 147.3h0M134.7 147.3h0M26.4 154.4h0M48.1 154.4h0M26.4 161.5h0M69.8 161.5h0"/><path stroke="#8e8e8e" d="M26.4 41.3h0M48.1 41.3h0M19.2 48.4h0M48.1 48.4h0M33.7 62.5h0M19.2 76.6h0M33.7 76.6h0M55.3 83.7h0M19.2 90.8h0M33.7 90.8h0M163.6 90.8h0M120.3 97.8h0M33.7 104.9h0M134.7 104.9h0M33.7 112.0h0M105.9 126.1h0M127.5 133.2h0M84.2 140.3h0M19.2 154.4h0M69.8 154.4h0M98.6 154.4h0M127.5 154.4h0M127.5 161.5h0"/><path stroke="#9c9c9c" d="M26.4 48.4h0M40.9 48.4h0M33.7 55.4h0M12.0 62.5h0M40.9 69.6h0M40.9 76.6h0M62.5 83.7h0M69.8 83.7h0M26.4 90.8h0M48.1 97.8h0M62.5 97.8h0M48.1 112.0h0M113.1 133.2h0"/><path stroke="#aaaaaa" d="M33.7 69.6h0M55.3 69.6h0M40.9 90.8h0M142.0 112.0h0M48.1 168.5h0"/><path stroke="#b8b8b8" d="M127.5 97.8h0M163.6 112.0h0M55.3 119.1h0M134.7 119.1h0M163.6 119.1h0"/><path stroke="#c6c6c6" d="M12.0 48.4h0M33.7 48.4h0M26.4 55.4h0M19.2 62.5h0M26.4 62.5h0M12.0 69.6h0M19.2 69.6h0M26.4 69.6h0M48.1 69.6h0M48.1 76.6h0M19.2 83.7h0M33.7 83.7h0M40.9 83.7h0M48.1 83.7h0M33.7 97.8h0M163.6 97.8h0M170.8 97.8h0M40.9 104.9h0M62.5 104.9h0M69.8 104.9h0M120.3 104.9h0M127.5 104.9h0M142.0 104.9h0M149.2 104.9h0M156.4 104.9h0M40.9 112.0h0M134.7 112.0h0M156.4 112.0h0"/><path stroke="#d4d4d4" d="M26.4 83.7h0M55.3 104.9h0M156.4 119.1h0"/><path stroke="#ffffff" d="M40.9 97.8h0M48.1 104.9h0"/></g></g><rect x="0.4" y="0.4" width="182.2" height="182.2" fill="none" stroke="#555566" stroke-width="0.8"/><path stroke="#222" stroke-width="0.8" d="M17.1 0v1.6M17.1 183v-1.6M0 17.1h1.6M183 17.1h-1.6M34.2 0v1.6M34.2 183v-1.6M0 34.2h1.6M183 34.2h-1.6M51.3 0v1.6M51.3 183v-1.6M0 51.3h1.6M183 51.3h-1.6M68.4 0v1.6M68.4 183v-1.6M0 68.4h1.6M183 68.4h-1.6M85.5 0v1.6M85.5 183v-1.6M0 85.5h1.6M183 85.5h-1.6M102.6 0v1.6M102.6 183v-1.6M0 102.6h1.6M183 102.6h-1.6M119.7 0v1.6M119.7 183v-1.6M0 119.7h1.6M183 119.7h-1.6M136.8 0v1.6M136.8 183v-1.6M0 136.8h1.6M183 136.8h-1.6M153.9 0v1.6M153.9 183v-1.6M0 153.9h1.6M183 153.9h-1.6M171.0 0v1.6M171.0 183v-1.6M0 171.0h1.6M183 171.0h-1.6"/></svg>
<svg style="position:absolute;left:459px;top:247px" width="183" height="183" viewBox="0 0 183 183"><defs><filter id="fhf" filterUnits="userSpaceOnUse" x="0" y="0" width="183" height="183" color-interpolation-filters="sRGB"><feGaussianBlur stdDeviation="2.1"/><feComponentTransfer><feFuncR type="table" tableValues="0.243 0.263 0.278 0.294 0.306 0.314 0.31 0.31 0.306 0.306 0.306 0.306 0.306 0.318 0.329 0.345 0.361 0.376 0.404 0.471 0.533 0.643 0.761 0.855 0.929 0.945 0.953 0.961 0.961 0.961 0.961 0.961 0.961 0.961 0.961 0.961 0.961 0.961 0.961 0.961 0.961 0.961 0.961 0.961 0.961 0.961 0.961 0.961 0.961"/><feFuncG type="table" tableValues="0.125 0.145 0.161 0.22 0.282 0.345 0.404 0.463 0.522 0.58 0.631 0.686 0.741 0.773 0.8 0.827 0.843 0.855 0.863 0.867 0.871 0.839 0.8 0.745 0.682 0.698 0.722 0.749 0.812 0.878 0.949 0.961 0.961 0.961 0.961 0.961 0.961 0.961 0.961 0.961 0.961 0.961 0.961 0.961 0.961 0.961 0.961 0.961 0.961"/><feFuncB type="table" tableValues="0.784 0.867 0.953 0.969 0.98 0.988 0.984 0.98 0.976 0.961 0.933 0.91 0.882 0.824 0.757 0.694 0.627 0.561 0.498 0.424 0.349 0.29 0.235 0.224 0.235 0.231 0.224 0.216 0.204 0.192 0.18 0.176 0.176 0.176 0.176 0.176 0.176 0.176 0.176 0.176 0.176 0.176 0.176 0.176 0.176 0.176 0.176 0.176 0.176"/><feFuncA type="linear" slope="0" intercept="1"/></feComponentTransfer></filter></defs><g filter="url(#fhf)"><rect width="183" height="183" fill="#000"/><g stroke-linecap="round" stroke-width="5.6" fill="none"><path stroke="#2a2a2a" d="M62.7 133.6h0M69.9 133.6h0M142.3 154.8h0"/><path stroke="#393939" d="M98.9 13.2h0M62.7 126.5h0M69.9 126.5h0"/><path stroke="#4f4f4f" d="M91.6 13.2h0M91.6 20.3h0M98.9 20.3h0M19.2 27.4h0M127.8 55.7h0M113.4 62.8h0M135.1 62.8h0M62.7 140.6h0M142.3 147.7h0M135.1 154.8h0"/><path stroke="#5e5e5e" d="M41.0 13.2h0M135.1 13.2h0M149.6 13.2h0M12.0 20.3h0M19.2 20.3h0M26.5 20.3h0M33.7 20.3h0M41.0 20.3h0M48.2 20.3h0M55.4 20.3h0M62.7 20.3h0M69.9 20.3h0M77.2 20.3h0M113.4 20.3h0M120.6 20.3h0M127.8 20.3h0M135.1 20.3h0M142.3 20.3h0M149.6 20.3h0M12.0 27.4h0M26.5 27.4h0M33.7 27.4h0M55.4 27.4h0M62.7 27.4h0M69.9 27.4h0M84.4 27.4h0M91.6 27.4h0M98.9 27.4h0M106.1 27.4h0M113.4 27.4h0M127.8 27.4h0M142.3 27.4h0M171.3 27.4h0M26.5 34.4h0M33.7 34.4h0M48.2 34.4h0M69.9 34.4h0M84.4 34.4h0M91.6 34.4h0M106.1 34.4h0M135.1 34.4h0M142.3 34.4h0M156.8 34.4h0M12.0 41.5h0M19.2 41.5h0M26.5 41.5h0M48.2 41.5h0M62.7 41.5h0M77.2 41.5h0M84.4 41.5h0M98.9 41.5h0M120.6 41.5h0M127.8 41.5h0M142.3 41.5h0M149.6 41.5h0M164.0 41.5h0M12.0 48.6h0M26.5 48.6h0M33.7 48.6h0M48.2 48.6h0M69.9 48.6h0M84.4 48.6h0M91.6 48.6h0M106.1 48.6h0M120.6 48.6h0M135.1 48.6h0M156.8 48.6h0M171.3 48.6h0M33.7 55.7h0M41.0 55.7h0M62.7 55.7h0M69.9 55.7h0M84.4 55.7h0M91.6 55.7h0M98.9 55.7h0M113.4 55.7h0M120.6 55.7h0M135.1 55.7h0M142.3 55.7h0M164.0 55.7h0M171.3 55.7h0M62.7 62.8h0M84.4 62.8h0M98.9 62.8h0M120.6 62.8h0M127.8 62.8h0M142.3 62.8h0M171.3 62.8h0M12.0 69.8h0M33.7 69.8h0M55.4 69.8h0M69.9 69.8h0M26.5 76.9h0M62.7 76.9h0M156.8 76.9h0M19.2 84.0h0M33.7 84.0h0M164.0 84.0h0M19.2 91.1h0M69.9 91.1h0M77.2 91.1h0M142.3 91.1h0M149.6 91.1h0M171.3 91.1h0M98.9 98.2h0M106.1 98.2h0M113.4 98.2h0M120.6 98.2h0M127.8 98.2h0M135.1 98.2h0M149.6 98.2h0M164.0 98.2h0M171.3 98.2h0M127.8 105.2h0M164.0 105.2h0M84.4 112.3h0M98.9 112.3h0M113.4 112.3h0M127.8 112.3h0M171.3 112.3h0M26.5 119.4h0M55.4 119.4h0M84.4 119.4h0M98.9 119.4h0M120.6 119.4h0M164.0 119.4h0M171.3 119.4h0M48.2 126.5h0M84.4 126.5h0M55.4 133.6h0M113.4 133.6h0M135.1 133.6h0M19.2 140.6h0M48.2 140.6h0M98.9 140.6h0M12.0 147.7h0M19.2 147.7h0M33.7 147.7h0M48.2 147.7h0M77.2 147.7h0M84.4 147.7h0M127.8 147.7h0M48.2 154.8h0M69.9 154.8h0M84.4 154.8h0M91.6 154.8h0M120.6 154.8h0M127.8 154.8h0M149.6 154.8h0M84.4 161.9h0M106.1 161.9h0M12.0 169.0h0M41.0 169.0h0M106.1 169.0h0"/><path stroke="#6c6c6c" d="M33.7 13.2h0M48.2 13.2h0M55.4 13.2h0M62.7 13.2h0M69.9 13.2h0M77.2 13.2h0M106.1 13.2h0M113.4 13.2h0M120.6 13.2h0M127.8 13.2h0M142.3 13.2h0M156.8 13.2h0M164.0 13.2h0M156.8 20.3h0M164.0 20.3h0M171.3 20.3h0M41.0 27.4h0M48.2 27.4h0M77.2 27.4h0M120.6 27.4h0M135.1 27.4h0M149.6 27.4h0M156.8 27.4h0M164.0 27.4h0M12.0 34.4h0M19.2 34.4h0M41.0 34.4h0M55.4 34.4h0M62.7 34.4h0M77.2 34.4h0M113.4 34.4h0M149.6 34.4h0M164.0 34.4h0M41.0 41.5h0M91.6 41.5h0M113.4 41.5h0M135.1 41.5h0M156.8 41.5h0M19.2 48.6h0M41.0 48.6h0M55.4 48.6h0M77.2 48.6h0M113.4 48.6h0M127.8 48.6h0M142.3 48.6h0M149.6 48.6h0M164.0 48.6h0M12.0 55.7h0M26.5 55.7h0M48.2 55.7h0M77.2 55.7h0M106.1 55.7h0M26.5 62.8h0M48.2 62.8h0M69.9 62.8h0M77.2 62.8h0M106.1 62.8h0M149.6 62.8h0M156.8 62.8h0M164.0 62.8h0M19.2 69.8h0M26.5 69.8h0M62.7 69.8h0M77.2 69.8h0M84.4 69.8h0M135.1 69.8h0M156.8 69.8h0M164.0 69.8h0M171.3 69.8h0M12.0 76.9h0M19.2 76.9h0M48.2 76.9h0M55.4 76.9h0M84.4 76.9h0M98.9 76.9h0M113.4 76.9h0M127.8 76.9h0M149.6 76.9h0M164.0 76.9h0M12.0 84.0h0M48.2 84.0h0M55.4 84.0h0M62.7 84.0h0M69.9 84.0h0M77.2 84.0h0M113.4 84.0h0M149.6 84.0h0M171.3 84.0h0M12.0 91.1h0M33.7 91.1h0M48.2 91.1h0M55.4 91.1h0M84.4 91.1h0M91.6 91.1h0M98.9 91.1h0M113.4 91.1h0M127.8 91.1h0M135.1 91.1h0M164.0 91.1h0M12.0 98.2h0M26.5 98.2h0M41.0 98.2h0M62.7 98.2h0M77.2 98.2h0M84.4 98.2h0M91.6 98.2h0M156.8 98.2h0M33.7 105.2h0M48.2 105.2h0M84.4 105.2h0M91.6 105.2h0M120.6 105.2h0M135.1 105.2h0M142.3 105.2h0M149.6 105.2h0M171.3 105.2h0M26.5 112.3h0M41.0 112.3h0M48.2 112.3h0M62.7 112.3h0M77.2 112.3h0M120.6 112.3h0M135.1 112.3h0M149.6 112.3h0M156.8 112.3h0M164.0 112.3h0M33.7 119.4h0M41.0 119.4h0M48.2 119.4h0M62.7 119.4h0M77.2 119.4h0M113.4 119.4h0M127.8 119.4h0M142.3 119.4h0M156.8 119.4h0M12.0 126.5h0M33.7 126.5h0M41.0 126.5h0M55.4 126.5h0M91.6 126.5h0M98.9 126.5h0M106.1 126.5h0M113.4 126.5h0M127.8 126.5h0M135.1 126.5h0M149.6 126.5h0M164.0 126.5h0M171.3 126.5h0M12.0 133.6h0M19.2 133.6h0M33.7 133.6h0M48.2 133.6h0M84.4 133.6h0M91.6 133.6h0M98.9 133.6h0M142.3 133.6h0M149.6 133.6h0M12.0 140.6h0M26.5 140.6h0M33.7 140.6h0M55.4 140.6h0M113.4 140.6h0M120.6 140.6h0M127.8 140.6h0M142.3 140.6h0M149.6 140.6h0M156.8 140.6h0M26.5 147.7h0M41.0 147.7h0M55.4 147.7h0M91.6 147.7h0M98.9 147.7h0M106.1 147.7h0M113.4 147.7h0M120.6 147.7h0M149.6 147.7h0M156.8 147.7h0M164.0 147.7h0M171.3 147.7h0M12.0 154.8h0M19.2 154.8h0M55.4 154.8h0M62.7 154.8h0M77.2 154.8h0M106.1 154.8h0M113.4 154.8h0M12.0 161.9h0M26.5 161.9h0M33.7 161.9h0M41.0 161.9h0M48.2 161.9h0M55.4 161.9h0M62.7 161.9h0M69.9 161.9h0M91.6 161.9h0M113.4 161.9h0M19.2 169.0h0M26.5 169.0h0M33.7 169.0h0M48.2 169.0h0M55.4 169.0h0M77.2 169.0h0M98.9 169.0h0M113.4 169.0h0"/><path stroke="#7a7a7a" d="M12.0 13.2h0M171.3 13.2h0M98.9 34.4h0M120.6 34.4h0M127.8 34.4h0M171.3 34.4h0M33.7 41.5h0M55.4 41.5h0M69.9 41.5h0M106.1 41.5h0M171.3 41.5h0M62.7 48.6h0M98.9 48.6h0M19.2 55.7h0M55.4 55.7h0M149.6 55.7h0M156.8 55.7h0M12.0 62.8h0M19.2 62.8h0M33.7 62.8h0M41.0 62.8h0M55.4 62.8h0M91.6 62.8h0M41.0 69.8h0M48.2 69.8h0M91.6 69.8h0M106.1 69.8h0M113.4 69.8h0M120.6 69.8h0M142.3 69.8h0M149.6 69.8h0M33.7 76.9h0M41.0 76.9h0M69.9 76.9h0M77.2 76.9h0M106.1 76.9h0M120.6 76.9h0M142.3 76.9h0M171.3 76.9h0M26.5 84.0h0M41.0 84.0h0M84.4 84.0h0M91.6 84.0h0M120.6 84.0h0M127.8 84.0h0M142.3 84.0h0M156.8 84.0h0M26.5 91.1h0M41.0 91.1h0M62.7 91.1h0M106.1 91.1h0M120.6 91.1h0M156.8 91.1h0M33.7 98.2h0M55.4 98.2h0M142.3 98.2h0M12.0 105.2h0M26.5 105.2h0M55.4 105.2h0M62.7 105.2h0M77.2 105.2h0M98.9 105.2h0M106.1 105.2h0M113.4 105.2h0M156.8 105.2h0M12.0 112.3h0M19.2 112.3h0M33.7 112.3h0M91.6 112.3h0M106.1 112.3h0M142.3 112.3h0M12.0 119.4h0M19.2 119.4h0M69.9 119.4h0M91.6 119.4h0M106.1 119.4h0M135.1 119.4h0M149.6 119.4h0M77.2 126.5h0M120.6 126.5h0M142.3 126.5h0M156.8 126.5h0M41.0 133.6h0M77.2 133.6h0M106.1 133.6h0M120.6 133.6h0M127.8 133.6h0M156.8 133.6h0M164.0 133.6h0M171.3 133.6h0M69.9 140.6h0M77.2 140.6h0M84.4 140.6h0M91.6 140.6h0M106.1 140.6h0M135.1 140.6h0M164.0 140.6h0M171.3 140.6h0M62.7 147.7h0M69.9 147.7h0M135.1 147.7h0M26.5 154.8h0M33.7 154.8h0M41.0 154.8h0M98.9 154.8h0M156.8 154.8h0M19.2 161.9h0M77.2 161.9h0M98.9 161.9h0M62.7 169.0h0M69.9 169.0h0M84.4 169.0h0M91.6 169.0h0"/><path stroke="#888888" d="M19.2 13.2h0M26.5 13.2h0M106.1 20.3h0M98.9 69.8h0M127.8 69.8h0M91.6 76.9h0M135.1 76.9h0M98.9 84.0h0M106.1 84.0h0M135.1 84.0h0M19.2 98.2h0M48.2 98.2h0M69.9 98.2h0M19.2 105.2h0M41.0 105.2h0M69.9 105.2h0M55.4 112.3h0M69.9 112.3h0M171.3 154.8h0M120.6 161.9h0M127.8 161.9h0M135.1 161.9h0M142.3 161.9h0M149.6 161.9h0M120.6 169.0h0M127.8 169.0h0M135.1 169.0h0M142.3 169.0h0M149.6 169.0h0M156.8 169.0h0M164.0 169.0h0M171.3 169.0h0"/><path stroke="#8e8e8e" d="M156.8 161.9h0"/><path stroke="#9c9c9c" d="M84.4 13.2h0"/><path stroke="#aaaaaa" d="M26.5 133.6h0M164.0 154.8h0"/><path stroke="#b8b8b8" d="M84.4 20.3h0M19.2 126.5h0"/><path stroke="#d4d4d4" d="M26.5 126.5h0M164.0 161.9h0"/><path stroke="#f1f1f1" d="M41.0 140.6h0M171.3 161.9h0"/></g></g><rect x="0.4" y="0.4" width="182.2" height="182.2" fill="none" stroke="#555566" stroke-width="0.8"/><path stroke="#222" stroke-width="0.8" d="M17.1 0v1.6M17.1 183v-1.6M0 17.1h1.6M183 17.1h-1.6M34.2 0v1.6M34.2 183v-1.6M0 34.2h1.6M183 34.2h-1.6M51.3 0v1.6M51.3 183v-1.6M0 51.3h1.6M183 51.3h-1.6M68.4 0v1.6M68.4 183v-1.6M0 68.4h1.6M183 68.4h-1.6M85.5 0v1.6M85.5 183v-1.6M0 85.5h1.6M183 85.5h-1.6M102.6 0v1.6M102.6 183v-1.6M0 102.6h1.6M183 102.6h-1.6M119.7 0v1.6M119.7 183v-1.6M0 119.7h1.6M183 119.7h-1.6M136.8 0v1.6M136.8 183v-1.6M0 136.8h1.6M183 136.8h-1.6M153.9 0v1.6M153.9 183v-1.6M0 153.9h1.6M183 153.9h-1.6M171.0 0v1.6M171.0 183v-1.6M0 171.0h1.6M183 171.0h-1.6"/></svg>
<svg style="position:absolute;left:198px;top:29px" width="11" height="182"><defs><linearGradient id="cb19829" x1="0" y1="0" x2="0" y2="1"><stop offset="0.000" stop-color="#940c00"/><stop offset="0.050" stop-color="#a91704"/><stop offset="0.100" stop-color="#c82c0c"/><stop offset="0.150" stop-color="#e64913"/><stop offset="0.200" stop-color="#fc6919"/><stop offset="0.250" stop-color="#ff8b1f"/><stop offset="0.300" stop-color="#ffaa24"/><stop offset="0.350" stop-color="#f5c72b"/><stop offset="0.400" stop-color="#dcde33"/><stop offset="0.450" stop-color="#bbf03f"/><stop offset="0.500" stop-color="#96fa50"/><stop offset="0.550" stop-color="#72fe65"/><stop offset="0.600" stop-color="#51fa7f"/><stop offset="0.650" stop-color="#38ee9c"/><stop offset="0.700" stop-color="#29ddbb"/><stop offset="0.750" stop-color="#25c5d8"/><stop offset="0.800" stop-color="#2ba9ef"/><stop offset="0.850" stop-color="#378af9"/><stop offset="0.900" stop-color="#4569ee"/><stop offset="0.950" stop-color="#4b48c4"/><stop offset="1.000" stop-color="#3d296f"/></linearGradient></defs><rect x="0" y="0" width="11" height="182" fill="url(#cb19829)"/><rect x="0.3" y="0.3" width="10.4" height="181.4" fill="none" stroke="#777" stroke-width="0.6"/><line x1="0" x2="1.5" y1="25.3" y2="25.3" stroke="#333" stroke-width="0.7"/><line x1="0" x2="1.5" y1="50.6" y2="50.6" stroke="#333" stroke-width="0.7"/><line x1="0" x2="1.5" y1="75.8" y2="75.8" stroke="#333" stroke-width="0.7"/><line x1="0" x2="1.5" y1="101.1" y2="101.1" stroke="#333" stroke-width="0.7"/><line x1="0" x2="1.5" y1="126.4" y2="126.4" stroke="#333" stroke-width="0.7"/><line x1="0" x2="1.5" y1="151.7" y2="151.7" stroke="#333" stroke-width="0.7"/><line x1="0" x2="1.5" y1="176.9" y2="176.9" stroke="#333" stroke-width="0.7"/></svg>
<div class="t b" style="left:190.0px;top:9.8px;font-size:14.5px">(pm)</div>
<div class="t b" style="left:212px;top:29.5px;font-size:11.5px">54</div>
<div class="t b" style="left:212px;top:200.5px;font-size:11.5px">8</div>
<svg style="position:absolute;left:424px;top:29px" width="11" height="182"><defs><linearGradient id="cb42429" x1="0" y1="0" x2="0" y2="1"><stop offset="0.000" stop-color="#f5f52d"/><stop offset="0.050" stop-color="#f5da32"/><stop offset="0.100" stop-color="#f5c037"/><stop offset="0.150" stop-color="#f2b63a"/><stop offset="0.200" stop-color="#f0ac3c"/><stop offset="0.250" stop-color="#d3c338"/><stop offset="0.300" stop-color="#a8d548"/><stop offset="0.350" stop-color="#82de60"/><stop offset="0.400" stop-color="#69dc7c"/><stop offset="0.450" stop-color="#5fd896"/><stop offset="0.500" stop-color="#58d4af"/><stop offset="0.550" stop-color="#53c9c8"/><stop offset="0.600" stop-color="#4ebee1"/><stop offset="0.650" stop-color="#4ea9eb"/><stop offset="0.700" stop-color="#4e94f4"/><stop offset="0.750" stop-color="#4e7ef9"/><stop offset="0.800" stop-color="#4f67fb"/><stop offset="0.850" stop-color="#4f50fb"/><stop offset="0.900" stop-color="#4b38f7"/><stop offset="0.950" stop-color="#4527e8"/><stop offset="1.000" stop-color="#3e20c8"/></linearGradient></defs><rect x="0" y="0" width="11" height="182" fill="url(#cb42429)"/><rect x="0.3" y="0.3" width="10.4" height="181.4" fill="none" stroke="#777" stroke-width="0.6"/><line x1="0" x2="1.5" y1="25.3" y2="25.3" stroke="#333" stroke-width="0.7"/><line x1="0" x2="1.5" y1="50.6" y2="50.6" stroke="#333" stroke-width="0.7"/><line x1="0" x2="1.5" y1="75.8" y2="75.8" stroke="#333" stroke-width="0.7"/><line x1="0" x2="1.5" y1="101.1" y2="101.1" stroke="#333" stroke-width="0.7"/><line x1="0" x2="1.5" y1="126.4" y2="126.4" stroke="#333" stroke-width="0.7"/><line x1="0" x2="1.5" y1="151.7" y2="151.7" stroke="#333" stroke-width="0.7"/><line x1="0" x2="1.5" y1="176.9" y2="176.9" stroke="#333" stroke-width="0.7"/></svg>
<div class="t b" style="left:416.5px;top:9.8px;font-size:14.5px">(pm)</div>
<div class="t b" style="left:438px;top:29.5px;font-size:11.5px">54</div>
<div class="t b" style="left:438px;top:200.5px;font-size:11.5px">8</div>
<svg style="position:absolute;left:651px;top:29px" width="11" height="182"><defs><linearGradient id="cb65129" x1="0" y1="0" x2="0" y2="1"><stop offset="0.000" stop-color="#f5f52d"/><stop offset="0.050" stop-color="#f5da32"/><stop offset="0.100" stop-color="#f5c037"/><stop offset="0.150" stop-color="#f2b63a"/><stop offset="0.200" stop-color="#f0ac3c"/><stop offset="0.250" stop-color="#d3c338"/><stop offset="0.300" stop-color="#a8d548"/><stop offset="0.350" stop-color="#82de60"/><stop offset="0.400" stop-color="#69dc7c"/><stop offset="0.450" stop-color="#5fd896"/><stop offset="0.500" stop-color="#58d4af"/><stop offset="0.550" stop-color="#53c9c8"/><stop offset="0.600" stop-color="#4ebee1"/><stop offset="0.650" stop-color="#4ea9eb"/><stop offset="0.700" stop-color="#4e94f4"/><stop offset="0.750" stop-color="#4e7ef9"/><stop offset="0.800" stop-color="#4f67fb"/><stop offset="0.850" stop-color="#4f50fb"/><stop offset="0.900" stop-color="#4b38f7"/><stop offset="0.950" stop-color="#4527e8"/><stop offset="1.000" stop-color="#3e20c8"/></linearGradient></defs><rect x="0" y="0" width="11" height="182" fill="url(#cb65129)"/><rect x="0.3" y="0.3" width="10.4" height="181.4" fill="none" stroke="#777" stroke-width="0.6"/><line x1="0" x2="1.5" y1="25.3" y2="25.3" stroke="#333" stroke-width="0.7"/><line x1="0" x2="1.5" y1="50.6" y2="50.6" stroke="#333" stroke-width="0.7"/><line x1="0" x2="1.5" y1="75.8" y2="75.8" stroke="#333" stroke-width="0.7"/><line x1="0" x2="1.5" y1="101.1" y2="101.1" stroke="#333" stroke-width="0.7"/><line x1="0" x2="1.5" y1="126.4" y2="126.4" stroke="#333" stroke-width="0.7"/><line x1="0" x2="1.5" y1="151.7" y2="151.7" stroke="#333" stroke-width="0.7"/><line x1="0" x2="1.5" y1="176.9" y2="176.9" stroke="#333" stroke-width="0.7"/></svg>
<div class="t b" style="left:646.5px;top:10.8px;font-size:14.5px">(&deg;)</div>
<div class="t b" style="left:665px;top:29.5px;font-size:11.5px">360</div>
<div class="t b" style="left:665px;top:200.5px;font-size:11.5px">0</div>
<svg style="position:absolute;left:198px;top:247px" width="11" height="182"><defs><linearGradient id="cb198247" x1="0" y1="0" x2="0" y2="1"><stop offset="0.000" stop-color="#940c00"/><stop offset="0.050" stop-color="#a91704"/><stop offset="0.100" stop-color="#c82c0c"/><stop offset="0.150" stop-color="#e64913"/><stop offset="0.200" stop-color="#fc6919"/><stop offset="0.250" stop-color="#ff8b1f"/><stop offset="0.300" stop-color="#ffaa24"/><stop offset="0.350" stop-color="#f5c72b"/><stop offset="0.400" stop-color="#dcde33"/><stop offset="0.450" stop-color="#bbf03f"/><stop offset="0.500" stop-color="#96fa50"/><stop offset="0.550" stop-color="#72fe65"/><stop offset="0.600" stop-color="#51fa7f"/><stop offset="0.650" stop-color="#38ee9c"/><stop offset="0.700" stop-color="#29ddbb"/><stop offset="0.750" stop-color="#25c5d8"/><stop offset="0.800" stop-color="#2ba9ef"/><stop offset="0.850" stop-color="#378af9"/><stop offset="0.900" stop-color="#4569ee"/><stop offset="0.950" stop-color="#4b48c4"/><stop offset="1.000" stop-color="#3d296f"/></linearGradient></defs><rect x="0" y="0" width="11" height="182" fill="url(#cb198247)"/><rect x="0.3" y="0.3" width="10.4" height="181.4" fill="none" stroke="#777" stroke-width="0.6"/><line x1="0" x2="1.5" y1="25.3" y2="25.3" stroke="#333" stroke-width="0.7"/><line x1="0" x2="1.5" y1="50.6" y2="50.6" stroke="#333" stroke-width="0.7"/><line x1="0" x2="1.5" y1="75.8" y2="75.8" stroke="#333" stroke-width="0.7"/><line x1="0" x2="1.5" y1="101.1" y2="101.1" stroke="#333" stroke-width="0.7"/><line x1="0" x2="1.5" y1="126.4" y2="126.4" stroke="#333" stroke-width="0.7"/><line x1="0" x2="1.5" y1="151.7" y2="151.7" stroke="#333" stroke-width="0.7"/><line x1="0" x2="1.5" y1="176.9" y2="176.9" stroke="#333" stroke-width="0.7"/></svg>
<div class="t b" style="left:190.0px;top:227.8px;font-size:14.5px">(pm)</div>
<div class="t b" style="left:211px;top:247.5px;font-size:11.5px">46</div>
<div class="t b" style="left:211px;top:418.5px;font-size:11.5px">1.3</div>
<svg style="position:absolute;left:424px;top:247px" width="11" height="182"><defs><linearGradient id="cb424247" x1="0" y1="0" x2="0" y2="1"><stop offset="0.000" stop-color="#f5f52d"/><stop offset="0.050" stop-color="#f5da32"/><stop offset="0.100" stop-color="#f5c037"/><stop offset="0.150" stop-color="#f2b63a"/><stop offset="0.200" stop-color="#f0ac3c"/><stop offset="0.250" stop-color="#d3c338"/><stop offset="0.300" stop-color="#a8d548"/><stop offset="0.350" stop-color="#82de60"/><stop offset="0.400" stop-color="#69dc7c"/><stop offset="0.450" stop-color="#5fd896"/><stop offset="0.500" stop-color="#58d4af"/><stop offset="0.550" stop-color="#53c9c8"/><stop offset="0.600" stop-color="#4ebee1"/><stop offset="0.650" stop-color="#4ea9eb"/><stop offset="0.700" stop-color="#4e94f4"/><stop offset="0.750" stop-color="#4e7ef9"/><stop offset="0.800" stop-color="#4f67fb"/><stop offset="0.850" stop-color="#4f50fb"/><stop offset="0.900" stop-color="#4b38f7"/><stop offset="0.950" stop-color="#4527e8"/><stop offset="1.000" stop-color="#3e20c8"/></linearGradient></defs><rect x="0" y="0" width="11" height="182" fill="url(#cb424247)"/><rect x="0.3" y="0.3" width="10.4" height="181.4" fill="none" stroke="#777" stroke-width="0.6"/><line x1="0" x2="1.5" y1="25.3" y2="25.3" stroke="#333" stroke-width="0.7"/><line x1="0" x2="1.5" y1="50.6" y2="50.6" stroke="#333" stroke-width="0.7"/><line x1="0" x2="1.5" y1="75.8" y2="75.8" stroke="#333" stroke-width="0.7"/><line x1="0" x2="1.5" y1="101.1" y2="101.1" stroke="#333" stroke-width="0.7"/><line x1="0" x2="1.5" y1="126.4" y2="126.4" stroke="#333" stroke-width="0.7"/><line x1="0" x2="1.5" y1="151.7" y2="151.7" stroke="#333" stroke-width="0.7"/><line x1="0" x2="1.5" y1="176.9" y2="176.9" stroke="#333" stroke-width="0.7"/></svg>
<div class="t b" style="left:416.5px;top:227.8px;font-size:14.5px">(pm)</div>
<div class="t b" style="left:437px;top:247.5px;font-size:11.5px">46</div>
<div class="t b" style="left:437px;top:418.5px;font-size:11.5px">1.3</div>
<svg style="position:absolute;left:651px;top:247px" width="11" height="182"><defs><linearGradient id="cb651247" x1="0" y1="0" x2="0" y2="1"><stop offset="0.000" stop-color="#f5f52d"/><stop offset="0.050" stop-color="#f5da32"/><stop offset="0.100" stop-color="#f5c037"/><stop offset="0.150" stop-color="#f2b63a"/><stop offset="0.200" stop-color="#f0ac3c"/><stop offset="0.250" stop-color="#d3c338"/><stop offset="0.300" stop-color="#a8d548"/><stop offset="0.350" stop-color="#82de60"/><stop offset="0.400" stop-color="#69dc7c"/><stop offset="0.450" stop-color="#5fd896"/><stop offset="0.500" stop-color="#58d4af"/><stop offset="0.550" stop-color="#53c9c8"/><stop offset="0.600" stop-color="#4ebee1"/><stop offset="0.650" stop-color="#4ea9eb"/><stop offset="0.700" stop-color="#4e94f4"/><stop offset="0.750" stop-color="#4e7ef9"/><stop offset="0.800" stop-color="#4f67fb"/><stop offset="0.850" stop-color="#4f50fb"/><stop offset="0.900" stop-color="#4b38f7"/><stop offset="0.950" stop-color="#4527e8"/><stop offset="1.000" stop-color="#3e20c8"/></linearGradient></defs><rect x="0" y="0" width="11" height="182" fill="url(#cb651247)"/><rect x="0.3" y="0.3" width="10.4" height="181.4" fill="none" stroke="#777" stroke-width="0.6"/><line x1="0" x2="1.5" y1="25.3" y2="25.3" stroke="#333" stroke-width="0.7"/><line x1="0" x2="1.5" y1="50.6" y2="50.6" stroke="#333" stroke-width="0.7"/><line x1="0" x2="1.5" y1="75.8" y2="75.8" stroke="#333" stroke-width="0.7"/><line x1="0" x2="1.5" y1="101.1" y2="101.1" stroke="#333" stroke-width="0.7"/><line x1="0" x2="1.5" y1="126.4" y2="126.4" stroke="#333" stroke-width="0.7"/><line x1="0" x2="1.5" y1="151.7" y2="151.7" stroke="#333" stroke-width="0.7"/><line x1="0" x2="1.5" y1="176.9" y2="176.9" stroke="#333" stroke-width="0.7"/></svg>
<div class="t b" style="left:646.5px;top:228.8px;font-size:14.5px">(&deg;)</div>
<div class="t b" style="left:665px;top:247.5px;font-size:11.5px">360</div>
<div class="t b" style="left:665px;top:418.5px;font-size:11.5px">0</div>
<svg style="position:absolute;left:0;top:0;overflow:visible" width="685" height="644" viewBox="0 0 685 644"><line x1="123.85" y1="469.3" x2="123.85" y2="617.6" stroke="#888" stroke-width="0.7" stroke-dasharray="1,1.3"/><line x1="31.3" y1="543.45" x2="216.4" y2="543.45" stroke="#888" stroke-width="0.7" stroke-dasharray="1,1.3"/><path d="M123.40,577.70C124.78,577.58 129.10,577.40 131.70,577.00C134.30,576.60 136.82,576.08 139.00,575.30C141.18,574.52 142.85,573.65 144.80,572.30C146.75,570.95 149.00,569.13 150.70,567.20C152.40,565.27 153.67,563.25 155.00,560.70C156.33,558.15 157.48,554.83 158.70,551.90C159.92,548.97 160.97,546.02 162.30,543.10C163.63,540.18 165.48,536.58 166.70,534.40C167.92,532.22 168.13,532.25 169.60,530.00C171.07,527.75 172.82,523.63 175.50,520.90C178.18,518.17 182.30,515.80 185.70,513.60C189.10,511.40 193.03,509.28 195.90,507.70C198.77,506.12 201.73,504.70 202.90,504.10" fill="none" stroke="#000000" stroke-width="2.0" stroke-linejoin="round" stroke-linecap="butt"/><path d="M202.90,504.10C202.55,503.73 202.93,502.43 200.80,501.90C198.67,501.37 193.83,501.15 190.10,500.90C186.37,500.65 182.78,500.43 178.40,500.40C174.02,500.37 168.67,500.50 163.80,500.70C158.93,500.90 154.07,501.20 149.20,501.60C144.33,502.00 138.90,502.53 134.60,503.10C130.30,503.67 126.23,504.50 123.40,505.00C120.57,505.50 119.53,505.68 117.60,506.10C115.67,506.52 113.75,506.78 111.80,507.50C109.85,508.22 107.62,509.30 105.90,510.40C104.18,511.50 102.83,512.63 101.50,514.10C100.17,515.57 99.12,517.13 97.90,519.20C96.68,521.27 95.30,524.07 94.20,526.50C93.10,528.93 92.27,531.12 91.30,533.80C90.33,536.48 89.37,539.92 88.40,542.60C87.43,545.28 86.72,547.45 85.50,549.90C84.28,552.35 83.05,554.85 81.10,557.30C79.15,559.75 76.48,562.42 73.80,564.60C71.12,566.78 67.92,568.45 65.00,570.40C62.08,572.35 58.97,574.58 56.30,576.30C53.63,578.02 50.95,579.53 49.00,580.70C47.05,581.87 45.33,582.87 44.60,583.30" fill="none" stroke="#000000" stroke-width="2.0" stroke-linejoin="round" stroke-linecap="butt"/><path d="M44.60,583.30C45.33,583.58 46.57,584.52 49.00,585.00C51.43,585.48 55.07,585.95 59.20,586.20C63.33,586.45 68.93,586.50 73.80,586.50C78.67,586.50 83.53,586.45 88.40,586.20C93.27,585.95 98.13,585.48 103.00,585.00C107.87,584.52 114.20,583.73 117.60,583.30C121.00,582.87 122.43,582.55 123.40,582.40" fill="none" stroke="#000000" stroke-width="2.0" stroke-linejoin="round" stroke-linecap="butt"/><path d="M123.40,584.70C124.30,584.47 126.93,583.90 128.80,583.30C130.67,582.70 132.67,582.08 134.60,581.10C136.53,580.12 138.93,578.73 140.40,577.40C141.87,576.07 142.62,575.17 143.40,573.10C144.18,571.03 144.62,568.05 145.10,565.00C145.58,561.95 145.87,558.45 146.30,554.80C146.73,551.15 147.22,546.50 147.70,543.10C148.18,539.70 148.70,536.88 149.20,534.40C149.70,531.92 150.10,530.70 150.70,528.20C151.30,525.70 151.95,521.83 152.80,519.40C153.65,516.97 154.45,515.42 155.80,513.60C157.15,511.78 159.08,510.20 160.90,508.50C162.72,506.80 164.52,504.98 166.70,503.40C168.88,501.82 171.08,500.58 174.00,499.00C176.92,497.42 181.03,495.42 184.20,493.90C187.37,492.38 191.53,490.57 193.00,489.90" fill="none" stroke="#ff2020" stroke-width="2.0" stroke-linejoin="round" stroke-linecap="butt"/><path d="M193.00,489.90C191.78,489.75 188.62,489.07 185.70,489.00C182.78,488.93 179.15,489.25 175.50,489.50C171.85,489.75 168.18,490.02 163.80,490.50C159.42,490.98 154.07,491.52 149.20,492.40C144.33,493.28 138.50,494.58 134.60,495.80C130.70,497.02 128.63,498.23 125.80,499.70C122.97,501.17 119.58,502.93 117.60,504.60C115.62,506.27 114.87,507.75 113.90,509.70C112.93,511.65 112.40,513.98 111.80,516.30C111.20,518.62 110.80,520.68 110.30,523.60C109.80,526.52 109.28,530.40 108.80,533.80C108.32,537.20 107.88,540.83 107.40,544.00C106.92,547.17 106.38,550.33 105.90,552.80C105.42,555.27 105.23,556.35 104.50,558.80C103.77,561.25 102.72,564.83 101.50,567.50C100.28,570.17 98.90,572.97 97.20,574.80C95.50,576.63 93.98,576.92 91.30,578.50C88.62,580.08 84.75,582.37 81.10,584.30C77.45,586.23 73.05,588.27 69.40,590.10C65.75,591.93 61.63,594.00 59.20,595.30C56.77,596.60 55.53,597.47 54.80,597.90" fill="none" stroke="#ff2020" stroke-width="2.0" stroke-linejoin="round" stroke-linecap="butt"/><path d="M54.80,597.90C56.27,598.00 59.70,598.58 63.60,598.50C67.50,598.42 73.33,597.93 78.20,597.40C83.07,596.87 87.93,596.15 92.80,595.30C97.67,594.45 102.30,593.48 107.40,592.30C112.50,591.12 120.73,588.88 123.40,588.20" fill="none" stroke="#ff2020" stroke-width="2.0" stroke-linejoin="round" stroke-linecap="butt"/><rect x="31.3" y="469.3" width="185.1" height="148.3" fill="none" stroke="#2a2a2a" stroke-width="1.1"/><line x1="31.3" x2="33.7" y1="469.30" y2="469.30" stroke="#2a2a2a" stroke-width="0.9"/><line x1="31.3" x2="32.8" y1="478.57" y2="478.57" stroke="#2a2a2a" stroke-width="0.9"/><line x1="31.3" x2="33.7" y1="487.84" y2="487.84" stroke="#2a2a2a" stroke-width="0.9"/><line x1="31.3" x2="32.8" y1="497.11" y2="497.11" stroke="#2a2a2a" stroke-width="0.9"/><line x1="31.3" x2="33.7" y1="506.38" y2="506.38" stroke="#2a2a2a" stroke-width="0.9"/><line x1="31.3" x2="32.8" y1="515.64" y2="515.64" stroke="#2a2a2a" stroke-width="0.9"/><line x1="31.3" x2="33.7" y1="524.91" y2="524.91" stroke="#2a2a2a" stroke-width="0.9"/><line x1="31.3" x2="32.8" y1="534.18" y2="534.18" stroke="#2a2a2a" stroke-width="0.9"/><line x1="31.3" x2="33.7" y1="543.45" y2="543.45" stroke="#2a2a2a" stroke-width="0.9"/><line x1="31.3" x2="32.8" y1="552.72" y2="552.72" stroke="#2a2a2a" stroke-width="0.9"/><line x1="31.3" x2="33.7" y1="561.99" y2="561.99" stroke="#2a2a2a" stroke-width="0.9"/><line x1="31.3" x2="32.8" y1="571.26" y2="571.26" stroke="#2a2a2a" stroke-width="0.9"/><line x1="31.3" x2="33.7" y1="580.53" y2="580.53" stroke="#2a2a2a" stroke-width="0.9"/><line x1="31.3" x2="32.8" y1="589.79" y2="589.79" stroke="#2a2a2a" stroke-width="0.9"/><line x1="31.3" x2="33.7" y1="599.06" y2="599.06" stroke="#2a2a2a" stroke-width="0.9"/><line x1="31.3" x2="32.8" y1="608.33" y2="608.33" stroke="#2a2a2a" stroke-width="0.9"/><line x1="31.3" x2="33.7" y1="617.60" y2="617.60" stroke="#2a2a2a" stroke-width="0.9"/><line x1="31.30" x2="31.30" y1="617.6" y2="615.2" stroke="#2a2a2a" stroke-width="0.9"/><line x1="46.73" x2="46.73" y1="617.6" y2="616.1" stroke="#2a2a2a" stroke-width="0.9"/><line x1="62.15" x2="62.15" y1="617.6" y2="615.2" stroke="#2a2a2a" stroke-width="0.9"/><line x1="77.58" x2="77.58" y1="617.6" y2="616.1" stroke="#2a2a2a" stroke-width="0.9"/><line x1="93.00" x2="93.00" y1="617.6" y2="615.2" stroke="#2a2a2a" stroke-width="0.9"/><line x1="108.43" x2="108.43" y1="617.6" y2="616.1" stroke="#2a2a2a" stroke-width="0.9"/><line x1="123.85" x2="123.85" y1="617.6" y2="615.2" stroke="#2a2a2a" stroke-width="0.9"/><line x1="139.28" x2="139.28" y1="617.6" y2="616.1" stroke="#2a2a2a" stroke-width="0.9"/><line x1="154.70" x2="154.70" y1="617.6" y2="615.2" stroke="#2a2a2a" stroke-width="0.9"/><line x1="170.12" x2="170.12" y1="617.6" y2="616.1" stroke="#2a2a2a" stroke-width="0.9"/><line x1="185.55" x2="185.55" y1="617.6" y2="615.2" stroke="#2a2a2a" stroke-width="0.9"/><line x1="200.98" x2="200.98" y1="617.6" y2="616.1" stroke="#2a2a2a" stroke-width="0.9"/><line x1="216.40" x2="216.40" y1="617.6" y2="615.2" stroke="#2a2a2a" stroke-width="0.9"/></svg>
<div class="t b tl" style="right:657.3px;top:464.7px">100</div>
<div class="t b tl" style="right:657.3px;top:483.2px">75</div>
<div class="t b tl" style="right:657.3px;top:501.8px">50</div>
<div class="t b tl" style="right:657.3px;top:520.3px">25</div>
<div class="t b tl" style="right:657.3px;top:538.9px">0</div>
<div class="t b tl" style="right:657.3px;top:557.4px">-25</div>
<div class="t b tl" style="right:657.3px;top:575.9px">-50</div>
<div class="t b tl" style="right:657.3px;top:594.5px">-75</div>
<div class="t b tl" style="right:657.3px;top:613.0px">-100</div>
<div class="t b tl" style="left:11.3px;width:40px;text-align:center;top:621.8px">-2700</div>
<div class="t b tl" style="left:42.2px;width:40px;text-align:center;top:621.8px">-1800</div>
<div class="t b tl" style="left:73.0px;width:40px;text-align:center;top:621.8px">-900</div>
<div class="t b tl" style="left:103.9px;width:40px;text-align:center;top:621.8px">0</div>
<div class="t b tl" style="left:134.7px;width:40px;text-align:center;top:621.8px">900</div>
<div class="t b tl" style="left:165.6px;width:40px;text-align:center;top:621.8px">1800</div>
<div class="t b tl" style="left:196.4px;width:40px;text-align:center;top:621.8px">2700</div>
<div class="t b at" style="left:64.9px;width:118px;text-align:center;top:632.4px">Electrical field (kV/cm)</div>
<div class="t b at rot" style="left:0.6px;top:606.7px;font-size:11px">Polarization (&micro;C/cm<sup>2</sup>)</div>
<svg style="position:absolute;left:0;top:0" width="685" height="644"><line x1="33.5" x2="55" y1="476.6" y2="476.6" stroke="#000000" stroke-width="1.9"/></svg>
<div class="t b" style="left:57.4px;top:472.4px;font-size:9.2px">BFMO/Ni-Cr (Fresh)</div>
<svg style="position:absolute;left:0;top:0" width="685" height="644"><line x1="33.5" x2="55" y1="487.8" y2="487.8" stroke="#ff2020" stroke-width="1.9"/></svg>
<div class="t b" style="left:57.4px;top:483.6px;font-size:9.2px">BFMO/LNO/Ni-Cr (Fresh)</div>
<div class="t b" style="left:185px;top:601px;font-size:9.6px">@ RT</div>
<svg style="position:absolute;left:0;top:0;overflow:visible" width="685" height="644" viewBox="0 0 685 644"><line x1="347.05" y1="469.3" x2="347.05" y2="617.7" stroke="#888" stroke-width="0.7" stroke-dasharray="1,1.3"/><line x1="254.8" y1="543.50" x2="439.3" y2="543.50" stroke="#888" stroke-width="0.7" stroke-dasharray="1,1.3"/><path d="M346.60,577.70C347.98,577.58 352.30,577.40 354.90,577.00C357.50,576.60 360.02,576.08 362.20,575.30C364.38,574.52 366.05,573.65 368.00,572.30C369.95,570.95 372.20,569.13 373.90,567.20C375.60,565.27 376.87,563.25 378.20,560.70C379.53,558.15 380.68,554.83 381.90,551.90C383.12,548.97 384.17,546.02 385.50,543.10C386.83,540.18 388.68,536.58 389.90,534.40C391.12,532.22 391.33,532.25 392.80,530.00C394.27,527.75 396.02,523.63 398.70,520.90C401.38,518.17 405.50,515.80 408.90,513.60C412.30,511.40 416.23,509.28 419.10,507.70C421.97,506.12 424.93,504.70 426.10,504.10" fill="none" stroke="#000000" stroke-width="2.0" stroke-linejoin="round" stroke-linecap="butt"/><path d="M426.10,504.10C425.75,503.73 426.13,502.43 424.00,501.90C421.87,501.37 417.03,501.15 413.30,500.90C409.57,500.65 405.98,500.43 401.60,500.40C397.22,500.37 391.87,500.50 387.00,500.70C382.13,500.90 377.27,501.20 372.40,501.60C367.53,502.00 362.10,502.53 357.80,503.10C353.50,503.67 349.43,504.50 346.60,505.00C343.77,505.50 342.73,505.68 340.80,506.10C338.87,506.52 336.95,506.78 335.00,507.50C333.05,508.22 330.82,509.30 329.10,510.40C327.38,511.50 326.03,512.63 324.70,514.10C323.37,515.57 322.32,517.13 321.10,519.20C319.88,521.27 318.50,524.07 317.40,526.50C316.30,528.93 315.47,531.12 314.50,533.80C313.53,536.48 312.57,539.92 311.60,542.60C310.63,545.28 309.92,547.45 308.70,549.90C307.48,552.35 306.25,554.85 304.30,557.30C302.35,559.75 299.68,562.42 297.00,564.60C294.32,566.78 291.12,568.45 288.20,570.40C285.28,572.35 282.17,574.58 279.50,576.30C276.83,578.02 274.15,579.53 272.20,580.70C270.25,581.87 268.53,582.87 267.80,583.30" fill="none" stroke="#000000" stroke-width="2.0" stroke-linejoin="round" stroke-linecap="butt"/><path d="M267.80,583.30C268.53,583.58 269.77,584.52 272.20,585.00C274.63,585.48 278.27,585.95 282.40,586.20C286.53,586.45 292.13,586.50 297.00,586.50C301.87,586.50 306.73,586.45 311.60,586.20C316.47,585.95 321.33,585.48 326.20,585.00C331.07,584.52 337.40,583.73 340.80,583.30C344.20,582.87 345.63,582.55 346.60,582.40" fill="none" stroke="#000000" stroke-width="2.0" stroke-linejoin="round" stroke-linecap="butt"/><path d="M346.60,565.20C347.93,564.95 352.05,564.55 354.60,563.70C357.15,562.85 359.83,561.43 361.90,560.10C363.97,558.77 365.53,557.40 367.00,555.70C368.47,554.00 369.60,551.85 370.70,549.90C371.80,547.95 372.52,545.95 373.60,544.00C374.68,542.05 375.75,540.38 377.20,538.20C378.65,536.02 380.23,533.33 382.30,530.90C384.37,528.47 386.92,526.03 389.60,523.60C392.28,521.17 395.72,518.37 398.40,516.30C401.08,514.23 403.80,512.42 405.70,511.20C407.60,509.98 409.12,509.37 409.80,509.00" fill="none" stroke="#2e8b22" stroke-width="2.0" stroke-linejoin="round" stroke-linecap="butt"/><path d="M409.80,509.00C409.12,508.80 407.60,508.10 405.70,507.80C403.80,507.50 402.05,507.20 398.40,507.20C394.75,507.20 388.67,507.45 383.80,507.80C378.93,508.15 374.07,508.62 369.20,509.30C364.33,509.98 358.32,511.03 354.60,511.90C350.88,512.77 349.28,513.58 346.90,514.50C344.52,515.42 342.37,516.30 340.30,517.40C338.23,518.50 336.20,519.52 334.50,521.10C332.80,522.68 331.57,524.72 330.10,526.90C328.63,529.08 327.17,531.77 325.70,534.20C324.23,536.63 322.77,539.07 321.30,541.50C319.83,543.93 318.60,546.37 316.90,548.80C315.20,551.23 313.28,553.67 311.10,556.10C308.92,558.53 306.72,560.97 303.80,563.40C300.88,565.83 296.52,568.75 293.60,570.70C290.68,572.65 287.97,573.95 286.30,575.10C284.63,576.25 284.05,577.18 283.60,577.60" fill="none" stroke="#2e8b22" stroke-width="2.0" stroke-linejoin="round" stroke-linecap="butt"/><path d="M283.60,577.60C284.53,577.92 285.83,579.07 289.20,579.50C292.57,579.93 298.93,580.25 303.80,580.20C308.67,580.15 313.53,579.77 318.40,579.20C323.27,578.63 328.38,577.73 333.00,576.80C337.62,575.87 343.92,574.13 346.10,573.60" fill="none" stroke="#2e8b22" stroke-width="2.0" stroke-linejoin="round" stroke-linecap="butt"/><path d="M347.20,547.30C348.30,546.75 351.60,545.27 353.80,544.00C356.00,542.73 358.22,541.15 360.40,539.70C362.58,538.25 365.08,536.68 366.90,535.30C368.72,533.92 370.23,532.77 371.30,531.40C372.37,530.03 372.97,527.82 373.30,527.10" fill="none" stroke="#3f7fff" stroke-width="2.0" stroke-linejoin="round" stroke-linecap="butt"/><path d="M373.30,527.10C372.60,527.00 370.88,526.42 369.10,526.50C367.32,526.58 364.78,527.05 362.60,527.60C360.42,528.15 358.02,529.07 356.00,529.80C353.98,530.53 352.05,531.27 350.50,532.00C348.95,532.73 347.98,533.38 346.70,534.20C345.42,535.02 344.17,535.82 342.80,536.90C341.43,537.98 340.13,539.42 338.50,540.70C336.87,541.98 334.83,543.22 333.00,544.60C331.17,545.98 329.15,547.37 327.50,549.00C325.85,550.63 324.23,552.67 323.10,554.40C321.97,556.13 321.10,558.57 320.70,559.40" fill="none" stroke="#3f7fff" stroke-width="2.0" stroke-linejoin="round" stroke-linecap="butt"/><path d="M320.70,559.40C321.28,559.52 322.70,560.10 324.20,560.10C325.70,560.10 327.68,559.88 329.70,559.40C331.72,558.92 334.28,558.03 336.30,557.20C338.32,556.37 340.07,555.32 341.80,554.40C343.53,553.48 345.88,552.15 346.70,551.70" fill="none" stroke="#3f7fff" stroke-width="2.0" stroke-linejoin="round" stroke-linecap="butt"/><path d="M346.70,550.10C347.52,549.63 349.87,548.48 351.60,547.30C353.33,546.12 355.55,544.45 357.10,543.00C358.65,541.55 360.03,539.98 360.90,538.60C361.77,537.22 362.07,535.35 362.30,534.70" fill="none" stroke="#7a7a1e" stroke-width="2.0" stroke-linejoin="round" stroke-linecap="butt"/><path d="M362.30,534.70C361.98,534.43 361.45,533.37 360.40,533.10C359.35,532.83 357.65,532.83 356.00,533.10C354.35,533.37 352.33,533.97 350.50,534.70C348.67,535.43 346.82,536.40 345.00,537.50C343.18,538.60 341.42,539.93 339.60,541.30C337.78,542.67 335.47,544.05 334.10,545.70C332.73,547.35 331.77,549.83 331.40,551.20C331.03,552.57 331.82,553.45 331.90,553.90" fill="none" stroke="#7a7a1e" stroke-width="2.0" stroke-linejoin="round" stroke-linecap="butt"/><path d="M331.90,553.90C332.63,553.90 334.65,554.17 336.30,553.90C337.95,553.63 340.07,552.93 341.80,552.30C343.53,551.67 345.88,550.47 346.70,550.10" fill="none" stroke="#7a7a1e" stroke-width="2.0" stroke-linejoin="round" stroke-linecap="butt"/><path d="M353.80,539.70C353.43,539.60 352.70,538.93 351.60,539.10C350.50,539.27 348.67,539.97 347.20,540.70C345.73,541.43 343.98,542.58 342.80,543.50C341.62,544.42 340.45,545.53 340.10,546.20C339.75,546.87 340.07,547.32 340.70,547.50C341.33,547.68 342.72,547.60 343.90,547.30C345.08,547.00 346.52,546.43 347.80,545.70C349.08,544.97 350.60,543.90 351.60,542.90C352.60,541.90 353.43,540.23 353.80,539.70" fill="none" stroke="#b060ff" stroke-width="2.0" stroke-linejoin="round" stroke-linecap="butt"/><rect x="254.8" y="469.3" width="184.5" height="148.40000000000003" fill="none" stroke="#2a2a2a" stroke-width="1.1"/><line x1="254.8" x2="257.2" y1="469.30" y2="469.30" stroke="#2a2a2a" stroke-width="0.9"/><line x1="254.8" x2="256.3" y1="478.57" y2="478.57" stroke="#2a2a2a" stroke-width="0.9"/><line x1="254.8" x2="257.2" y1="487.85" y2="487.85" stroke="#2a2a2a" stroke-width="0.9"/><line x1="254.8" x2="256.3" y1="497.12" y2="497.12" stroke="#2a2a2a" stroke-width="0.9"/><line x1="254.8" x2="257.2" y1="506.40" y2="506.40" stroke="#2a2a2a" stroke-width="0.9"/><line x1="254.8" x2="256.3" y1="515.67" y2="515.67" stroke="#2a2a2a" stroke-width="0.9"/><line x1="254.8" x2="257.2" y1="524.95" y2="524.95" stroke="#2a2a2a" stroke-width="0.9"/><line x1="254.8" x2="256.3" y1="534.23" y2="534.23" stroke="#2a2a2a" stroke-width="0.9"/><line x1="254.8" x2="257.2" y1="543.50" y2="543.50" stroke="#2a2a2a" stroke-width="0.9"/><line x1="254.8" x2="256.3" y1="552.77" y2="552.77" stroke="#2a2a2a" stroke-width="0.9"/><line x1="254.8" x2="257.2" y1="562.05" y2="562.05" stroke="#2a2a2a" stroke-width="0.9"/><line x1="254.8" x2="256.3" y1="571.33" y2="571.33" stroke="#2a2a2a" stroke-width="0.9"/><line x1="254.8" x2="257.2" y1="580.60" y2="580.60" stroke="#2a2a2a" stroke-width="0.9"/><line x1="254.8" x2="256.3" y1="589.88" y2="589.88" stroke="#2a2a2a" stroke-width="0.9"/><line x1="254.8" x2="257.2" y1="599.15" y2="599.15" stroke="#2a2a2a" stroke-width="0.9"/><line x1="254.8" x2="256.3" y1="608.43" y2="608.43" stroke="#2a2a2a" stroke-width="0.9"/><line x1="254.8" x2="257.2" y1="617.70" y2="617.70" stroke="#2a2a2a" stroke-width="0.9"/><line x1="254.80" x2="254.80" y1="617.7" y2="615.3000000000001" stroke="#2a2a2a" stroke-width="0.9"/><line x1="270.18" x2="270.18" y1="617.7" y2="616.2" stroke="#2a2a2a" stroke-width="0.9"/><line x1="285.55" x2="285.55" y1="617.7" y2="615.3000000000001" stroke="#2a2a2a" stroke-width="0.9"/><line x1="300.93" x2="300.93" y1="617.7" y2="616.2" stroke="#2a2a2a" stroke-width="0.9"/><line x1="316.30" x2="316.30" y1="617.7" y2="615.3000000000001" stroke="#2a2a2a" stroke-width="0.9"/><line x1="331.68" x2="331.68" y1="617.7" y2="616.2" stroke="#2a2a2a" stroke-width="0.9"/><line x1="347.05" x2="347.05" y1="617.7" y2="615.3000000000001" stroke="#2a2a2a" stroke-width="0.9"/><line x1="362.43" x2="362.43" y1="617.7" y2="616.2" stroke="#2a2a2a" stroke-width="0.9"/><line x1="377.80" x2="377.80" y1="617.7" y2="615.3000000000001" stroke="#2a2a2a" stroke-width="0.9"/><line x1="393.18" x2="393.18" y1="617.7" y2="616.2" stroke="#2a2a2a" stroke-width="0.9"/><line x1="408.55" x2="408.55" y1="617.7" y2="615.3000000000001" stroke="#2a2a2a" stroke-width="0.9"/><line x1="423.93" x2="423.93" y1="617.7" y2="616.2" stroke="#2a2a2a" stroke-width="0.9"/><line x1="439.30" x2="439.30" y1="617.7" y2="615.3000000000001" stroke="#2a2a2a" stroke-width="0.9"/></svg>
<div class="t b tl" style="right:433.8px;top:464.7px">100</div>
<div class="t b tl" style="right:433.8px;top:483.2px">75</div>
<div class="t b tl" style="right:433.8px;top:501.8px">50</div>
<div class="t b tl" style="right:433.8px;top:520.4px">25</div>
<div class="t b tl" style="right:433.8px;top:538.9px">0</div>
<div class="t b tl" style="right:433.8px;top:557.4px">-25</div>
<div class="t b tl" style="right:433.8px;top:576.0px">-50</div>
<div class="t b tl" style="right:433.8px;top:594.5px">-75</div>
<div class="t b tl" style="right:433.8px;top:613.1px">-100</div>
<div class="t b tl" style="left:234.8px;width:40px;text-align:center;top:621.9px">-2700</div>
<div class="t b tl" style="left:265.6px;width:40px;text-align:center;top:621.9px">-1800</div>
<div class="t b tl" style="left:296.3px;width:40px;text-align:center;top:621.9px">-900</div>
<div class="t b tl" style="left:327.1px;width:40px;text-align:center;top:621.9px">0</div>
<div class="t b tl" style="left:357.8px;width:40px;text-align:center;top:621.9px">900</div>
<div class="t b tl" style="left:388.6px;width:40px;text-align:center;top:621.9px">1800</div>
<div class="t b tl" style="left:419.3px;width:40px;text-align:center;top:621.9px">2700</div>
<div class="t b at" style="left:288.1px;width:118px;text-align:center;top:632.5px">Electrical field (kV/cm)</div>
<div class="t b at rot" style="left:224.2px;top:606.7px;font-size:11px">Polarization (&micro;C/cm<sup>2</sup>)</div>
<svg style="position:absolute;left:0;top:0" width="685" height="644"><line x1="257.5" x2="279.8" y1="477" y2="477" stroke="#000000" stroke-width="1.9"/></svg>
<div class="t b" style="left:282px;top:472.1px;font-size:10.4px">Fresh</div>
<svg style="position:absolute;left:0;top:0" width="685" height="644"><line x1="257.5" x2="281.7" y1="487.6" y2="487.6" stroke="#2e8b22" stroke-width="1.9"/></svg>
<div class="t b" style="left:284px;top:482.7px;font-size:10.4px">Aged for 60 d @ RT</div>
<svg style="position:absolute;left:0;top:0" width="685" height="644"><line x1="300" x2="322" y1="592.5" y2="592.5" stroke="#3f7fff" stroke-width="1.9"/></svg>
<div class="t b" style="left:324px;top:587.6px;font-size:10.4px">Aged for 60 d @ 60 &deg;C</div>
<svg style="position:absolute;left:0;top:0" width="685" height="644"><line x1="300" x2="322" y1="602.7" y2="602.7" stroke="#7a7a1e" stroke-width="1.9"/></svg>
<div class="t b" style="left:324px;top:597.8px;font-size:10.4px">Aged for 60 d @ 120 &deg;C</div>
<svg style="position:absolute;left:0;top:0" width="685" height="644"><line x1="300" x2="322" y1="612.9" y2="612.9" stroke="#b060ff" stroke-width="1.9"/></svg>
<div class="t b" style="left:324px;top:608.0px;font-size:10.4px">Aged for 60 d @ 180 &deg;C</div>
<div class="t b" style="left:284px;width:120px;text-align:center;top:454px;font-size:13px">BFMO/Ni-Cr</div>
<svg style="position:absolute;left:0;top:0;overflow:visible" width="685" height="644" viewBox="0 0 685 644"><line x1="573.05" y1="469.1" x2="573.05" y2="617.6" stroke="#888" stroke-width="0.7" stroke-dasharray="1,1.3"/><line x1="480.7" y1="543.35" x2="665.4" y2="543.35" stroke="#888" stroke-width="0.7" stroke-dasharray="1,1.3"/><path d="M572.60,584.70C573.50,584.47 576.13,583.90 578.00,583.30C579.87,582.70 581.87,582.08 583.80,581.10C585.73,580.12 588.13,578.73 589.60,577.40C591.07,576.07 591.82,575.17 592.60,573.10C593.38,571.03 593.82,568.05 594.30,565.00C594.78,561.95 595.07,558.45 595.50,554.80C595.93,551.15 596.42,546.50 596.90,543.10C597.38,539.70 597.90,536.88 598.40,534.40C598.90,531.92 599.30,530.70 599.90,528.20C600.50,525.70 601.15,521.83 602.00,519.40C602.85,516.97 603.65,515.42 605.00,513.60C606.35,511.78 608.28,510.20 610.10,508.50C611.92,506.80 613.72,504.98 615.90,503.40C618.08,501.82 620.28,500.58 623.20,499.00C626.12,497.42 630.23,495.42 633.40,493.90C636.57,492.38 640.73,490.57 642.20,489.90" fill="none" stroke="#ff2020" stroke-width="2.0" stroke-linejoin="round" stroke-linecap="butt"/><path d="M642.20,489.90C640.98,489.75 637.82,489.07 634.90,489.00C631.98,488.93 628.35,489.25 624.70,489.50C621.05,489.75 617.38,490.02 613.00,490.50C608.62,490.98 603.27,491.52 598.40,492.40C593.53,493.28 587.70,494.58 583.80,495.80C579.90,497.02 577.83,498.23 575.00,499.70C572.17,501.17 568.78,502.93 566.80,504.60C564.82,506.27 564.07,507.75 563.10,509.70C562.13,511.65 561.60,513.98 561.00,516.30C560.40,518.62 560.00,520.68 559.50,523.60C559.00,526.52 558.48,530.40 558.00,533.80C557.52,537.20 557.08,540.83 556.60,544.00C556.12,547.17 555.58,550.33 555.10,552.80C554.62,555.27 554.43,556.35 553.70,558.80C552.97,561.25 551.92,564.83 550.70,567.50C549.48,570.17 548.10,572.97 546.40,574.80C544.70,576.63 543.18,576.92 540.50,578.50C537.82,580.08 533.95,582.37 530.30,584.30C526.65,586.23 522.25,588.27 518.60,590.10C514.95,591.93 510.83,594.00 508.40,595.30C505.97,596.60 504.73,597.47 504.00,597.90" fill="none" stroke="#ff2020" stroke-width="2.0" stroke-linejoin="round" stroke-linecap="butt"/><path d="M504.00,597.90C505.47,598.00 508.90,598.58 512.80,598.50C516.70,598.42 522.53,597.93 527.40,597.40C532.27,596.87 537.13,596.15 542.00,595.30C546.87,594.45 551.50,593.48 556.60,592.30C561.70,591.12 569.93,588.88 572.60,588.20" fill="none" stroke="#ff2020" stroke-width="2.0" stroke-linejoin="round" stroke-linecap="butt"/><path d="M572.60,572.90C573.55,572.45 576.47,571.52 578.30,570.20C580.13,568.88 582.05,567.20 583.60,565.00C585.15,562.80 586.50,559.87 587.60,557.00C588.70,554.13 589.43,550.87 590.20,547.80C590.97,544.73 591.43,541.68 592.20,538.60C592.97,535.52 593.82,532.17 594.80,529.30C595.78,526.43 596.67,523.82 598.10,521.40C599.53,518.98 601.42,516.78 603.40,514.80C605.38,512.82 607.25,511.37 610.00,509.50C612.75,507.63 616.72,505.45 619.90,503.60C623.08,501.75 626.53,499.75 629.10,498.40C631.67,497.05 634.27,495.98 635.30,495.50" fill="none" stroke="#2e8b22" stroke-width="2.0" stroke-linejoin="round" stroke-linecap="butt"/><path d="M635.30,495.50C634.72,495.28 633.92,494.48 631.80,494.20C629.68,493.92 626.33,493.72 622.60,493.80C618.87,493.88 613.78,494.27 609.40,494.70C605.02,495.13 600.68,495.57 596.30,496.40C591.92,497.23 587.05,498.62 583.10,499.70C579.15,500.78 575.17,501.92 572.60,502.90C570.03,503.88 569.07,504.50 567.70,505.60C566.33,506.70 565.27,507.75 564.40,509.50C563.53,511.25 563.05,513.45 562.50,516.10C561.95,518.75 561.55,522.32 561.10,525.40C560.65,528.48 560.23,531.53 559.80,534.60C559.37,537.67 559.05,540.93 558.50,543.80C557.95,546.67 557.38,549.15 556.50,551.80C555.62,554.45 554.63,557.07 553.20,559.70C551.77,562.33 550.10,565.18 547.90,567.60C545.70,570.02 542.07,572.67 540.00,574.20C537.93,575.73 538.22,575.28 535.50,576.80C532.78,578.32 527.43,581.22 523.70,583.30C519.97,585.38 515.25,588.02 513.10,589.30C510.95,590.58 511.18,590.72 510.80,591.00" fill="none" stroke="#2e8b22" stroke-width="2.0" stroke-linejoin="round" stroke-linecap="butt"/><path d="M510.80,591.00C511.63,591.22 512.13,592.15 515.80,592.30C519.47,592.45 526.67,592.40 532.80,591.90C538.93,591.40 545.92,590.95 552.60,589.30C559.28,587.65 569.52,583.22 572.90,582.00" fill="none" stroke="#2e8b22" stroke-width="2.0" stroke-linejoin="round" stroke-linecap="butt"/><path d="M572.60,570.20C573.55,569.77 576.58,568.92 578.30,567.60C580.02,566.28 581.53,564.50 582.90,562.30C584.27,560.10 585.50,557.25 586.50,554.40C587.50,551.55 588.17,548.28 588.90,545.20C589.63,542.12 590.13,538.98 590.90,535.90C591.67,532.82 592.40,529.55 593.50,526.70C594.60,523.85 595.85,521.22 597.50,518.80C599.15,516.38 601.32,514.18 603.40,512.20C605.48,510.22 607.13,509.03 610.00,506.90C612.87,504.77 618.83,500.65 620.60,499.40" fill="none" stroke="#3f7fff" stroke-width="2.0" stroke-linejoin="round" stroke-linecap="butt"/><path d="M620.60,499.40C619.83,499.23 618.97,498.40 616.00,498.40C613.03,498.40 607.18,498.75 602.80,499.40C598.42,500.05 594.07,500.93 589.70,502.30C585.33,503.67 580.15,506.15 576.60,507.60C573.05,509.05 570.27,509.90 568.40,511.00C566.53,512.10 566.17,512.47 565.40,514.20C564.63,515.93 564.28,518.43 563.80,521.40C563.32,524.37 562.95,528.48 562.50,532.00C562.05,535.52 561.65,539.20 561.10,542.50C560.55,545.80 560.08,548.93 559.20,551.80C558.32,554.67 557.23,557.17 555.80,559.70C554.37,562.23 552.80,564.37 550.60,567.00C548.40,569.63 544.90,573.65 542.60,575.50C540.30,577.35 539.63,576.18 536.80,578.10C533.97,580.02 527.47,585.52 525.60,587.00" fill="none" stroke="#3f7fff" stroke-width="2.0" stroke-linejoin="round" stroke-linecap="butt"/><path d="M525.60,587.00C526.37,587.15 526.80,587.85 530.20,587.90C533.60,587.95 540.52,587.83 546.00,587.30C551.48,586.77 558.62,585.68 563.10,584.70C567.58,583.72 571.27,581.95 572.90,581.40" fill="none" stroke="#3f7fff" stroke-width="2.0" stroke-linejoin="round" stroke-linecap="butt"/><path d="M572.60,570.90C573.55,570.47 576.53,569.62 578.30,568.30C580.07,566.98 581.77,565.20 583.20,563.00C584.63,560.80 585.88,557.95 586.90,555.10C587.92,552.25 588.57,548.98 589.30,545.90C590.03,542.82 590.53,539.68 591.30,536.60C592.07,533.52 592.80,530.25 593.90,527.40C595.00,524.55 596.25,521.92 597.90,519.50C599.55,517.08 601.73,514.90 603.80,512.90C605.87,510.90 607.93,509.70 610.30,507.50C612.67,505.30 616.72,501.00 618.00,499.70" fill="none" stroke="#7a7a1e" stroke-width="2.0" stroke-linejoin="round" stroke-linecap="butt"/><path d="M618.00,499.70C617.23,499.55 615.93,498.80 613.40,498.80C610.87,498.80 606.75,499.07 602.80,499.70C598.85,500.33 594.07,501.25 589.70,502.60C585.33,503.95 580.05,506.42 576.60,507.80C573.15,509.18 570.70,509.78 569.00,510.90C567.30,512.02 567.10,512.53 566.40,514.50C565.70,516.47 565.28,519.57 564.80,522.70C564.32,525.83 563.93,529.78 563.50,533.30C563.07,536.82 562.82,540.50 562.20,543.80C561.58,547.10 560.75,550.23 559.80,553.10C558.85,555.97 557.93,558.47 556.50,561.00C555.07,563.53 553.45,565.83 551.20,568.30C548.95,570.77 545.70,573.77 543.00,575.80C540.30,577.83 537.47,578.70 535.00,580.50C532.53,582.30 529.33,585.58 528.20,586.60" fill="none" stroke="#7a7a1e" stroke-width="2.0" stroke-linejoin="round" stroke-linecap="butt"/><path d="M528.20,586.60C528.97,586.67 528.73,587.32 532.80,587.00C536.87,586.68 545.92,586.18 552.60,584.70C559.28,583.22 569.52,579.20 572.90,578.10" fill="none" stroke="#7a7a1e" stroke-width="2.0" stroke-linejoin="round" stroke-linecap="butt"/><path d="M572.60,566.90C573.33,566.58 575.62,566.20 577.00,565.00C578.38,563.80 579.70,561.90 580.90,559.70C582.10,557.50 583.32,554.67 584.20,551.80C585.08,548.93 585.53,545.58 586.20,542.50C586.87,539.42 587.42,536.38 588.20,533.30C588.98,530.22 589.80,526.87 590.90,524.00C592.00,521.13 593.38,518.52 594.80,516.10C596.22,513.68 598.17,510.92 599.40,509.50C600.63,508.08 601.73,507.92 602.20,507.60" fill="none" stroke="#b060ff" stroke-width="2.0" stroke-linejoin="round" stroke-linecap="butt"/><path d="M602.20,507.60C601.65,507.38 600.98,506.52 598.90,506.30C596.82,506.08 592.77,505.98 589.70,506.30C586.63,506.62 583.35,507.12 580.50,508.20C577.65,509.28 574.40,511.15 572.60,512.80C570.80,514.45 570.52,516.23 569.70,518.10C568.88,519.97 568.25,521.68 567.70,524.00C567.15,526.32 566.83,529.13 566.40,532.00C565.97,534.87 565.65,538.35 565.10,541.20C564.55,544.05 563.98,546.47 563.10,549.10C562.22,551.73 561.23,554.13 559.80,557.00C558.37,559.87 556.37,563.67 554.50,566.30C552.63,568.93 550.45,570.62 548.60,572.80C546.75,574.98 544.27,578.30 543.40,579.40" fill="none" stroke="#b060ff" stroke-width="2.0" stroke-linejoin="round" stroke-linecap="butt"/><path d="M543.40,579.40C544.05,579.62 544.68,580.70 547.30,580.70C549.92,580.70 554.83,580.50 559.10,579.40C563.37,578.30 570.60,574.98 572.90,574.10" fill="none" stroke="#b060ff" stroke-width="2.0" stroke-linejoin="round" stroke-linecap="butt"/><rect x="480.7" y="469.1" width="184.7" height="148.5" fill="none" stroke="#2a2a2a" stroke-width="1.1"/><line x1="480.7" x2="483.09999999999997" y1="469.10" y2="469.10" stroke="#2a2a2a" stroke-width="0.9"/><line x1="480.7" x2="482.2" y1="478.38" y2="478.38" stroke="#2a2a2a" stroke-width="0.9"/><line x1="480.7" x2="483.09999999999997" y1="487.66" y2="487.66" stroke="#2a2a2a" stroke-width="0.9"/><line x1="480.7" x2="482.2" y1="496.94" y2="496.94" stroke="#2a2a2a" stroke-width="0.9"/><line x1="480.7" x2="483.09999999999997" y1="506.23" y2="506.23" stroke="#2a2a2a" stroke-width="0.9"/><line x1="480.7" x2="482.2" y1="515.51" y2="515.51" stroke="#2a2a2a" stroke-width="0.9"/><line x1="480.7" x2="483.09999999999997" y1="524.79" y2="524.79" stroke="#2a2a2a" stroke-width="0.9"/><line x1="480.7" x2="482.2" y1="534.07" y2="534.07" stroke="#2a2a2a" stroke-width="0.9"/><line x1="480.7" x2="483.09999999999997" y1="543.35" y2="543.35" stroke="#2a2a2a" stroke-width="0.9"/><line x1="480.7" x2="482.2" y1="552.63" y2="552.63" stroke="#2a2a2a" stroke-width="0.9"/><line x1="480.7" x2="483.09999999999997" y1="561.91" y2="561.91" stroke="#2a2a2a" stroke-width="0.9"/><line x1="480.7" x2="482.2" y1="571.19" y2="571.19" stroke="#2a2a2a" stroke-width="0.9"/><line x1="480.7" x2="483.09999999999997" y1="580.48" y2="580.48" stroke="#2a2a2a" stroke-width="0.9"/><line x1="480.7" x2="482.2" y1="589.76" y2="589.76" stroke="#2a2a2a" stroke-width="0.9"/><line x1="480.7" x2="483.09999999999997" y1="599.04" y2="599.04" stroke="#2a2a2a" stroke-width="0.9"/><line x1="480.7" x2="482.2" y1="608.32" y2="608.32" stroke="#2a2a2a" stroke-width="0.9"/><line x1="480.7" x2="483.09999999999997" y1="617.60" y2="617.60" stroke="#2a2a2a" stroke-width="0.9"/><line x1="480.70" x2="480.70" y1="617.6" y2="615.2" stroke="#2a2a2a" stroke-width="0.9"/><line x1="496.09" x2="496.09" y1="617.6" y2="616.1" stroke="#2a2a2a" stroke-width="0.9"/><line x1="511.48" x2="511.48" y1="617.6" y2="615.2" stroke="#2a2a2a" stroke-width="0.9"/><line x1="526.88" x2="526.88" y1="617.6" y2="616.1" stroke="#2a2a2a" stroke-width="0.9"/><line x1="542.27" x2="542.27" y1="617.6" y2="615.2" stroke="#2a2a2a" stroke-width="0.9"/><line x1="557.66" x2="557.66" y1="617.6" y2="616.1" stroke="#2a2a2a" stroke-width="0.9"/><line x1="573.05" x2="573.05" y1="617.6" y2="615.2" stroke="#2a2a2a" stroke-width="0.9"/><line x1="588.44" x2="588.44" y1="617.6" y2="616.1" stroke="#2a2a2a" stroke-width="0.9"/><line x1="603.83" x2="603.83" y1="617.6" y2="615.2" stroke="#2a2a2a" stroke-width="0.9"/><line x1="619.22" x2="619.22" y1="617.6" y2="616.1" stroke="#2a2a2a" stroke-width="0.9"/><line x1="634.62" x2="634.62" y1="617.6" y2="615.2" stroke="#2a2a2a" stroke-width="0.9"/><line x1="650.01" x2="650.01" y1="617.6" y2="616.1" stroke="#2a2a2a" stroke-width="0.9"/><line x1="665.40" x2="665.40" y1="617.6" y2="615.2" stroke="#2a2a2a" stroke-width="0.9"/></svg>
<div class="t b tl" style="right:207.9px;top:464.5px">100</div>
<div class="t b tl" style="right:207.9px;top:483.1px">75</div>
<div class="t b tl" style="right:207.9px;top:501.6px">50</div>
<div class="t b tl" style="right:207.9px;top:520.2px">25</div>
<div class="t b tl" style="right:207.9px;top:538.8px">0</div>
<div class="t b tl" style="right:207.9px;top:557.3px">-25</div>
<div class="t b tl" style="right:207.9px;top:575.9px">-50</div>
<div class="t b tl" style="right:207.9px;top:594.4px">-75</div>
<div class="t b tl" style="right:207.9px;top:613.0px">-100</div>
<div class="t b tl" style="left:460.7px;width:40px;text-align:center;top:621.8px">-2700</div>
<div class="t b tl" style="left:491.5px;width:40px;text-align:center;top:621.8px">-1800</div>
<div class="t b tl" style="left:522.3px;width:40px;text-align:center;top:621.8px">-900</div>
<div class="t b tl" style="left:553.0px;width:40px;text-align:center;top:621.8px">0</div>
<div class="t b tl" style="left:583.8px;width:40px;text-align:center;top:621.8px">900</div>
<div class="t b tl" style="left:614.6px;width:40px;text-align:center;top:621.8px">1800</div>
<div class="t b tl" style="left:645.4px;width:40px;text-align:center;top:621.8px">2700</div>
<div class="t b at" style="left:514.0px;width:118px;text-align:center;top:632.4px">Electrical field (kV/cm)</div>
<div class="t b at rot" style="left:450.4px;top:606.7px;font-size:11px">Polarization (&micro;C/cm<sup>2</sup>)</div>
<svg style="position:absolute;left:0;top:0" width="685" height="644"><line x1="482.6" x2="507" y1="477" y2="477" stroke="#2e8b22" stroke-width="1.9"/></svg>
<div class="t b" style="left:510px;top:472.1px;font-size:10.4px">Aged for 60 d @ RT</div>
<svg style="position:absolute;left:0;top:0" width="685" height="644"><line x1="482.6" x2="507" y1="487.6" y2="487.6" stroke="#3f7fff" stroke-width="1.9"/></svg>
<div class="t b" style="left:510px;top:482.7px;font-size:10.4px">Aged for 60 d @ 60 &deg;C</div>
<svg style="position:absolute;left:0;top:0" width="685" height="644"><line x1="482.6" x2="507" y1="498" y2="498" stroke="#ff2020" stroke-width="1.9"/></svg>
<div class="t b" style="left:510px;top:493.1px;font-size:10.4px">Fresh</div>
<svg style="position:absolute;left:0;top:0" width="685" height="644"><line x1="520" x2="545" y1="600.5" y2="600.5" stroke="#7a7a1e" stroke-width="1.9"/></svg>
<div class="t b" style="left:547.5px;top:595.6px;font-size:10.4px">Aged for 60 d @ 120 &deg;C</div>
<svg style="position:absolute;left:0;top:0" width="685" height="644"><line x1="520" x2="545" y1="610.9" y2="610.9" stroke="#b060ff" stroke-width="1.9"/></svg>
<div class="t b" style="left:547.5px;top:606.0px;font-size:10.4px">Aged for 60 d @ 180 &deg;C</div>
<div class="t b" style="left:510px;width:120px;text-align:center;top:454px;font-size:13px">BFMO/LNO/Ni-Cr</div>
</body></html>
